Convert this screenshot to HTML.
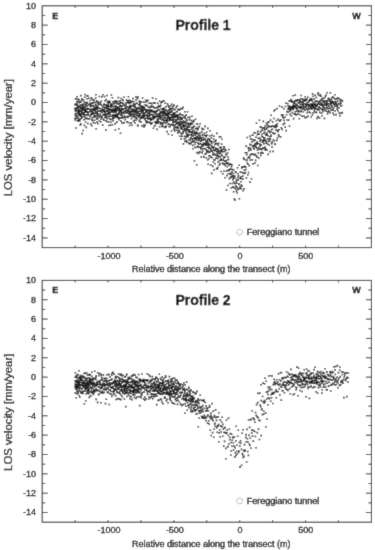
<!DOCTYPE html>
<html><head><meta charset="utf-8"><style>
html,body{margin:0;padding:0;background:#fff;}
svg{display:block;}
</style></head><body>
<svg width="375" height="550" viewBox="0 0 375 550" font-family='"Liberation Sans", sans-serif' font-size="9" fill="#000">
<defs><filter id="bl" x="0" y="0" width="1" height="1"><feConvolveMatrix order="3" kernelMatrix="1 6 1 6 36 6 1 6 1" divisor="64" edgeMode="duplicate" preserveAlpha="true"/></filter></defs>
<g filter="url(#bl)">
<rect width="375" height="550" fill="#fff"/>
<path d="M74.8 98.1h1.6v1.6h-1.6zM74.9 103.3h1.6v1.6h-1.6zM74.2 103.8h1.6v1.6h-1.6zM74.4 107.6h1.6v1.6h-1.6zM74.1 108.2h1.6v1.6h-1.6zM74.6 110.3h1.6v1.6h-1.6zM74.7 113.0h1.6v1.6h-1.6zM74.5 114.3h1.6v1.6h-1.6zM74.2 117.4h1.6v1.6h-1.6zM74.4 119.2h1.6v1.6h-1.6zM75.3 98.2h1.6v1.6h-1.6zM76.0 101.3h1.6v1.6h-1.6zM75.6 103.8h1.6v1.6h-1.6zM75.2 107.6h1.6v1.6h-1.6zM75.5 108.6h1.6v1.6h-1.6zM75.9 109.7h1.6v1.6h-1.6zM75.7 112.6h1.6v1.6h-1.6zM75.2 115.2h1.6v1.6h-1.6zM75.7 117.6h1.6v1.6h-1.6zM75.0 127.2h1.6v1.6h-1.6zM76.2 95.9h1.6v1.6h-1.6zM76.5 103.4h1.6v1.6h-1.6zM76.3 104.5h1.6v1.6h-1.6zM76.4 106.5h1.6v1.6h-1.6zM76.7 110.2h1.6v1.6h-1.6zM77.0 112.4h1.6v1.6h-1.6zM76.0 114.9h1.6v1.6h-1.6zM76.9 116.6h1.6v1.6h-1.6zM76.6 120.0h1.6v1.6h-1.6zM77.3 98.5h1.6v1.6h-1.6zM77.1 100.5h1.6v1.6h-1.6zM77.4 105.0h1.6v1.6h-1.6zM77.1 107.5h1.6v1.6h-1.6zM77.7 109.2h1.6v1.6h-1.6zM77.9 111.2h1.6v1.6h-1.6zM77.3 112.7h1.6v1.6h-1.6zM77.8 113.9h1.6v1.6h-1.6zM77.7 118.2h1.6v1.6h-1.6zM77.5 120.1h1.6v1.6h-1.6zM78.1 98.8h1.6v1.6h-1.6zM78.5 101.8h1.6v1.6h-1.6zM78.6 105.4h1.6v1.6h-1.6zM78.0 107.0h1.6v1.6h-1.6zM78.2 109.1h1.6v1.6h-1.6zM78.4 110.1h1.6v1.6h-1.6zM78.5 112.5h1.6v1.6h-1.6zM78.9 113.8h1.6v1.6h-1.6zM78.7 119.1h1.6v1.6h-1.6zM78.9 120.2h1.6v1.6h-1.6zM79.9 94.8h1.6v1.6h-1.6zM79.4 101.1h1.6v1.6h-1.6zM79.7 104.1h1.6v1.6h-1.6zM79.3 106.3h1.6v1.6h-1.6zM80.0 108.2h1.6v1.6h-1.6zM79.1 110.6h1.6v1.6h-1.6zM79.4 113.3h1.6v1.6h-1.6zM79.2 115.2h1.6v1.6h-1.6zM79.6 118.3h1.6v1.6h-1.6zM79.5 124.1h1.6v1.6h-1.6zM80.8 99.6h1.6v1.6h-1.6zM80.1 101.5h1.6v1.6h-1.6zM81.0 105.0h1.6v1.6h-1.6zM80.5 106.9h1.6v1.6h-1.6zM80.3 110.2h1.6v1.6h-1.6zM80.8 111.4h1.6v1.6h-1.6zM80.4 115.1h1.6v1.6h-1.6zM80.7 117.2h1.6v1.6h-1.6zM80.1 123.1h1.6v1.6h-1.6zM81.2 98.0h1.6v1.6h-1.6zM81.9 103.4h1.6v1.6h-1.6zM81.7 104.1h1.6v1.6h-1.6zM81.8 107.2h1.6v1.6h-1.6zM81.7 108.5h1.6v1.6h-1.6zM81.5 109.9h1.6v1.6h-1.6zM81.0 113.2h1.6v1.6h-1.6zM81.5 113.4h1.6v1.6h-1.6zM81.3 116.6h1.6v1.6h-1.6zM81.4 132.8h1.6v1.6h-1.6zM82.8 98.9h1.6v1.6h-1.6zM82.6 103.6h1.6v1.6h-1.6zM82.3 105.8h1.6v1.6h-1.6zM82.2 107.7h1.6v1.6h-1.6zM82.1 109.1h1.6v1.6h-1.6zM82.4 112.2h1.6v1.6h-1.6zM82.9 113.3h1.6v1.6h-1.6zM82.7 115.4h1.6v1.6h-1.6zM82.4 129.7h1.6v1.6h-1.6zM83.9 96.4h1.6v1.6h-1.6zM83.4 100.9h1.6v1.6h-1.6zM83.5 103.5h1.6v1.6h-1.6zM83.8 106.1h1.6v1.6h-1.6zM83.1 108.0h1.6v1.6h-1.6zM83.8 110.5h1.6v1.6h-1.6zM83.3 112.3h1.6v1.6h-1.6zM83.2 115.7h1.6v1.6h-1.6zM83.3 118.9h1.6v1.6h-1.6zM83.6 124.6h1.6v1.6h-1.6zM84.1 93.7h1.6v1.6h-1.6zM84.9 101.8h1.6v1.6h-1.6zM84.8 105.0h1.6v1.6h-1.6zM84.4 106.0h1.6v1.6h-1.6zM84.5 108.4h1.6v1.6h-1.6zM84.1 109.5h1.6v1.6h-1.6zM84.7 111.5h1.6v1.6h-1.6zM84.2 113.9h1.6v1.6h-1.6zM84.4 117.0h1.6v1.6h-1.6zM84.8 121.5h1.6v1.6h-1.6zM85.9 95.0h1.6v1.6h-1.6zM85.9 102.4h1.6v1.6h-1.6zM85.3 104.2h1.6v1.6h-1.6zM85.7 107.7h1.6v1.6h-1.6zM85.1 109.7h1.6v1.6h-1.6zM85.7 110.6h1.6v1.6h-1.6zM85.2 114.7h1.6v1.6h-1.6zM85.2 117.8h1.6v1.6h-1.6zM85.5 126.6h1.6v1.6h-1.6zM86.3 98.0h1.6v1.6h-1.6zM86.6 101.8h1.6v1.6h-1.6zM86.5 104.8h1.6v1.6h-1.6zM86.8 107.6h1.6v1.6h-1.6zM86.7 108.5h1.6v1.6h-1.6zM86.4 111.1h1.6v1.6h-1.6zM86.0 111.5h1.6v1.6h-1.6zM86.1 114.3h1.6v1.6h-1.6zM86.5 117.4h1.6v1.6h-1.6zM87.0 122.7h1.6v1.6h-1.6zM87.1 95.1h1.6v1.6h-1.6zM87.8 103.7h1.6v1.6h-1.6zM87.9 108.2h1.6v1.6h-1.6zM87.4 112.0h1.6v1.6h-1.6zM87.3 113.6h1.6v1.6h-1.6zM87.6 118.3h1.6v1.6h-1.6zM88.1 97.4h1.6v1.6h-1.6zM88.9 104.6h1.6v1.6h-1.6zM88.6 108.0h1.6v1.6h-1.6zM88.2 111.0h1.6v1.6h-1.6zM88.5 114.7h1.6v1.6h-1.6zM88.7 117.9h1.6v1.6h-1.6zM89.3 99.7h1.6v1.6h-1.6zM89.2 102.7h1.6v1.6h-1.6zM89.4 109.0h1.6v1.6h-1.6zM89.6 109.6h1.6v1.6h-1.6zM89.7 115.9h1.6v1.6h-1.6zM89.9 123.3h1.6v1.6h-1.6zM90.6 97.1h1.6v1.6h-1.6zM90.7 102.2h1.6v1.6h-1.6zM90.5 104.5h1.6v1.6h-1.6zM90.1 106.0h1.6v1.6h-1.6zM90.1 109.4h1.6v1.6h-1.6zM90.2 110.8h1.6v1.6h-1.6zM90.5 113.1h1.6v1.6h-1.6zM90.3 114.2h1.6v1.6h-1.6zM90.9 118.9h1.6v1.6h-1.6zM90.9 124.8h1.6v1.6h-1.6zM91.2 98.2h1.6v1.6h-1.6zM91.3 101.9h1.6v1.6h-1.6zM91.9 104.8h1.6v1.6h-1.6zM91.0 108.4h1.6v1.6h-1.6zM91.6 110.5h1.6v1.6h-1.6zM91.7 112.0h1.6v1.6h-1.6zM91.4 113.4h1.6v1.6h-1.6zM91.6 117.5h1.6v1.6h-1.6zM91.8 119.7h1.6v1.6h-1.6zM92.3 99.5h1.6v1.6h-1.6zM92.1 102.5h1.6v1.6h-1.6zM92.9 105.2h1.6v1.6h-1.6zM92.7 108.0h1.6v1.6h-1.6zM92.6 109.2h1.6v1.6h-1.6zM92.4 111.7h1.6v1.6h-1.6zM92.0 113.4h1.6v1.6h-1.6zM92.9 116.5h1.6v1.6h-1.6zM92.5 121.7h1.6v1.6h-1.6zM93.6 99.0h1.6v1.6h-1.6zM93.3 101.5h1.6v1.6h-1.6zM93.1 105.9h1.6v1.6h-1.6zM93.1 107.7h1.6v1.6h-1.6zM93.8 109.5h1.6v1.6h-1.6zM93.5 112.7h1.6v1.6h-1.6zM93.4 114.9h1.6v1.6h-1.6zM93.9 116.0h1.6v1.6h-1.6zM93.8 119.5h1.6v1.6h-1.6zM94.9 97.0h1.6v1.6h-1.6zM94.7 103.5h1.6v1.6h-1.6zM94.9 106.6h1.6v1.6h-1.6zM94.4 108.2h1.6v1.6h-1.6zM94.3 110.1h1.6v1.6h-1.6zM94.6 112.3h1.6v1.6h-1.6zM94.5 114.8h1.6v1.6h-1.6zM94.1 116.1h1.6v1.6h-1.6zM94.2 122.5h1.6v1.6h-1.6zM95.1 93.9h1.6v1.6h-1.6zM95.3 101.4h1.6v1.6h-1.6zM95.1 104.5h1.6v1.6h-1.6zM95.5 107.1h1.6v1.6h-1.6zM95.8 108.6h1.6v1.6h-1.6zM95.4 111.4h1.6v1.6h-1.6zM95.8 112.0h1.6v1.6h-1.6zM95.6 114.9h1.6v1.6h-1.6zM95.9 118.4h1.6v1.6h-1.6zM95.4 127.9h1.6v1.6h-1.6zM96.1 100.0h1.6v1.6h-1.6zM97.0 102.4h1.6v1.6h-1.6zM96.1 106.1h1.6v1.6h-1.6zM96.8 107.9h1.6v1.6h-1.6zM96.7 110.6h1.6v1.6h-1.6zM96.4 112.4h1.6v1.6h-1.6zM96.6 113.9h1.6v1.6h-1.6zM96.5 116.9h1.6v1.6h-1.6zM96.3 121.3h1.6v1.6h-1.6zM97.8 101.1h1.6v1.6h-1.6zM97.3 104.4h1.6v1.6h-1.6zM97.6 106.8h1.6v1.6h-1.6zM97.9 106.9h1.6v1.6h-1.6zM97.9 110.5h1.6v1.6h-1.6zM97.5 112.9h1.6v1.6h-1.6zM97.4 115.2h1.6v1.6h-1.6zM97.2 117.7h1.6v1.6h-1.6zM97.1 123.0h1.6v1.6h-1.6zM98.7 95.7h1.6v1.6h-1.6zM98.3 103.4h1.6v1.6h-1.6zM98.0 107.1h1.6v1.6h-1.6zM98.4 110.2h1.6v1.6h-1.6zM98.9 116.2h1.6v1.6h-1.6zM98.6 120.2h1.6v1.6h-1.6zM99.7 102.2h1.6v1.6h-1.6zM99.1 103.4h1.6v1.6h-1.6zM99.5 108.0h1.6v1.6h-1.6zM99.8 109.9h1.6v1.6h-1.6zM99.3 113.4h1.6v1.6h-1.6zM99.4 115.2h1.6v1.6h-1.6zM100.0 121.0h1.6v1.6h-1.6zM100.5 100.4h1.6v1.6h-1.6zM100.4 104.0h1.6v1.6h-1.6zM101.0 109.5h1.6v1.6h-1.6zM100.1 111.0h1.6v1.6h-1.6zM100.8 115.6h1.6v1.6h-1.6zM100.2 118.2h1.6v1.6h-1.6zM101.2 96.0h1.6v1.6h-1.6zM101.6 105.8h1.6v1.6h-1.6zM101.7 108.1h1.6v1.6h-1.6zM101.3 111.7h1.6v1.6h-1.6zM101.4 116.6h1.6v1.6h-1.6zM101.9 124.3h1.6v1.6h-1.6zM102.1 94.0h1.6v1.6h-1.6zM102.8 104.1h1.6v1.6h-1.6zM102.9 109.3h1.6v1.6h-1.6zM102.4 110.5h1.6v1.6h-1.6zM102.3 113.8h1.6v1.6h-1.6zM102.6 118.6h1.6v1.6h-1.6zM103.8 95.7h1.6v1.6h-1.6zM103.4 103.3h1.6v1.6h-1.6zM103.3 106.5h1.6v1.6h-1.6zM103.6 109.0h1.6v1.6h-1.6zM103.5 109.9h1.6v1.6h-1.6zM103.7 111.6h1.6v1.6h-1.6zM103.2 114.5h1.6v1.6h-1.6zM104.0 116.6h1.6v1.6h-1.6zM103.1 119.4h1.6v1.6h-1.6zM104.0 99.9h1.6v1.6h-1.6zM104.8 104.1h1.6v1.6h-1.6zM104.5 106.8h1.6v1.6h-1.6zM104.3 107.3h1.6v1.6h-1.6zM104.3 110.6h1.6v1.6h-1.6zM104.7 112.6h1.6v1.6h-1.6zM104.1 113.7h1.6v1.6h-1.6zM104.6 116.4h1.6v1.6h-1.6zM105.0 129.3h1.6v1.6h-1.6zM105.3 98.8h1.6v1.6h-1.6zM105.6 103.9h1.6v1.6h-1.6zM105.8 105.7h1.6v1.6h-1.6zM105.5 107.5h1.6v1.6h-1.6zM106.0 110.3h1.6v1.6h-1.6zM105.3 113.0h1.6v1.6h-1.6zM105.2 115.0h1.6v1.6h-1.6zM105.7 116.4h1.6v1.6h-1.6zM105.1 119.9h1.6v1.6h-1.6zM106.2 94.7h1.6v1.6h-1.6zM106.5 101.7h1.6v1.6h-1.6zM106.9 106.7h1.6v1.6h-1.6zM106.7 107.7h1.6v1.6h-1.6zM106.3 109.6h1.6v1.6h-1.6zM107.0 112.7h1.6v1.6h-1.6zM106.7 113.8h1.6v1.6h-1.6zM106.2 117.8h1.6v1.6h-1.6zM106.0 120.7h1.6v1.6h-1.6zM107.2 100.5h1.6v1.6h-1.6zM107.4 103.8h1.6v1.6h-1.6zM107.3 105.1h1.6v1.6h-1.6zM108.0 108.7h1.6v1.6h-1.6zM107.5 110.6h1.6v1.6h-1.6zM107.6 111.7h1.6v1.6h-1.6zM107.0 113.9h1.6v1.6h-1.6zM107.8 115.9h1.6v1.6h-1.6zM107.8 121.2h1.6v1.6h-1.6zM108.9 100.6h1.6v1.6h-1.6zM108.1 102.1h1.6v1.6h-1.6zM108.7 105.6h1.6v1.6h-1.6zM108.3 108.1h1.6v1.6h-1.6zM108.9 108.3h1.6v1.6h-1.6zM108.0 111.5h1.6v1.6h-1.6zM108.4 112.3h1.6v1.6h-1.6zM108.6 115.6h1.6v1.6h-1.6zM108.7 118.0h1.6v1.6h-1.6zM108.3 124.7h1.6v1.6h-1.6zM109.3 101.2h1.6v1.6h-1.6zM109.9 104.1h1.6v1.6h-1.6zM109.5 105.6h1.6v1.6h-1.6zM109.9 108.7h1.6v1.6h-1.6zM109.4 109.6h1.6v1.6h-1.6zM109.1 111.7h1.6v1.6h-1.6zM109.1 113.5h1.6v1.6h-1.6zM109.7 118.7h1.6v1.6h-1.6zM109.6 124.5h1.6v1.6h-1.6zM110.6 94.2h1.6v1.6h-1.6zM110.4 103.1h1.6v1.6h-1.6zM110.4 106.1h1.6v1.6h-1.6zM110.7 108.8h1.6v1.6h-1.6zM111.0 110.0h1.6v1.6h-1.6zM110.8 111.2h1.6v1.6h-1.6zM110.2 115.4h1.6v1.6h-1.6zM110.3 118.7h1.6v1.6h-1.6zM110.0 121.5h1.6v1.6h-1.6zM111.6 97.0h1.6v1.6h-1.6zM111.2 103.8h1.6v1.6h-1.6zM111.1 105.0h1.6v1.6h-1.6zM111.9 108.4h1.6v1.6h-1.6zM111.3 110.3h1.6v1.6h-1.6zM111.4 111.0h1.6v1.6h-1.6zM111.7 114.3h1.6v1.6h-1.6zM111.8 117.8h1.6v1.6h-1.6zM111.5 123.9h1.6v1.6h-1.6zM112.1 101.0h1.6v1.6h-1.6zM112.7 102.8h1.6v1.6h-1.6zM112.6 106.3h1.6v1.6h-1.6zM112.5 108.7h1.6v1.6h-1.6zM112.9 109.3h1.6v1.6h-1.6zM112.3 111.4h1.6v1.6h-1.6zM112.8 114.6h1.6v1.6h-1.6zM112.0 116.3h1.6v1.6h-1.6zM112.3 119.8h1.6v1.6h-1.6zM113.9 100.5h1.6v1.6h-1.6zM113.6 102.4h1.6v1.6h-1.6zM113.4 105.5h1.6v1.6h-1.6zM113.8 108.2h1.6v1.6h-1.6zM113.5 111.0h1.6v1.6h-1.6zM113.3 111.6h1.6v1.6h-1.6zM113.2 114.2h1.6v1.6h-1.6zM113.0 117.5h1.6v1.6h-1.6zM114.0 123.1h1.6v1.6h-1.6zM114.4 100.1h1.6v1.6h-1.6zM114.1 102.7h1.6v1.6h-1.6zM114.9 106.7h1.6v1.6h-1.6zM114.8 107.8h1.6v1.6h-1.6zM114.3 109.3h1.6v1.6h-1.6zM114.5 111.0h1.6v1.6h-1.6zM114.7 114.6h1.6v1.6h-1.6zM114.0 116.2h1.6v1.6h-1.6zM114.6 129.2h1.6v1.6h-1.6zM115.9 100.6h1.6v1.6h-1.6zM115.5 101.7h1.6v1.6h-1.6zM115.3 105.2h1.6v1.6h-1.6zM115.9 108.6h1.6v1.6h-1.6zM115.7 110.2h1.6v1.6h-1.6zM115.4 112.0h1.6v1.6h-1.6zM115.1 114.0h1.6v1.6h-1.6zM115.2 115.9h1.6v1.6h-1.6zM115.8 121.3h1.6v1.6h-1.6zM116.7 100.8h1.6v1.6h-1.6zM116.6 103.0h1.6v1.6h-1.6zM116.2 106.0h1.6v1.6h-1.6zM116.8 107.1h1.6v1.6h-1.6zM116.4 109.5h1.6v1.6h-1.6zM116.9 113.0h1.6v1.6h-1.6zM116.5 114.6h1.6v1.6h-1.6zM116.3 116.6h1.6v1.6h-1.6zM116.1 121.7h1.6v1.6h-1.6zM117.6 96.8h1.6v1.6h-1.6zM117.4 103.1h1.6v1.6h-1.6zM117.8 106.7h1.6v1.6h-1.6zM117.1 107.4h1.6v1.6h-1.6zM117.1 109.4h1.6v1.6h-1.6zM117.7 113.0h1.6v1.6h-1.6zM117.2 115.2h1.6v1.6h-1.6zM117.5 117.1h1.6v1.6h-1.6zM118.0 119.0h1.6v1.6h-1.6zM118.9 100.4h1.6v1.6h-1.6zM118.6 102.4h1.6v1.6h-1.6zM118.8 105.7h1.6v1.6h-1.6zM118.6 108.0h1.6v1.6h-1.6zM118.4 109.6h1.6v1.6h-1.6zM118.2 111.4h1.6v1.6h-1.6zM118.7 113.2h1.6v1.6h-1.6zM118.3 117.1h1.6v1.6h-1.6zM118.0 127.9h1.6v1.6h-1.6zM119.5 99.9h1.6v1.6h-1.6zM119.2 104.3h1.6v1.6h-1.6zM119.8 105.1h1.6v1.6h-1.6zM119.1 107.7h1.6v1.6h-1.6zM119.6 109.4h1.6v1.6h-1.6zM119.3 111.0h1.6v1.6h-1.6zM120.0 114.4h1.6v1.6h-1.6zM119.3 117.3h1.6v1.6h-1.6zM119.7 132.5h1.6v1.6h-1.6zM120.5 97.7h1.6v1.6h-1.6zM120.1 102.1h1.6v1.6h-1.6zM120.7 105.6h1.6v1.6h-1.6zM121.0 107.8h1.6v1.6h-1.6zM120.3 110.8h1.6v1.6h-1.6zM120.6 112.4h1.6v1.6h-1.6zM120.8 114.0h1.6v1.6h-1.6zM120.4 117.0h1.6v1.6h-1.6zM120.2 120.3h1.6v1.6h-1.6zM121.7 99.0h1.6v1.6h-1.6zM121.8 102.0h1.6v1.6h-1.6zM121.6 105.0h1.6v1.6h-1.6zM121.3 108.2h1.6v1.6h-1.6zM121.2 109.2h1.6v1.6h-1.6zM121.5 111.9h1.6v1.6h-1.6zM121.0 114.8h1.6v1.6h-1.6zM121.9 117.3h1.6v1.6h-1.6zM121.1 122.2h1.6v1.6h-1.6zM122.2 99.6h1.6v1.6h-1.6zM122.5 103.1h1.6v1.6h-1.6zM122.3 108.1h1.6v1.6h-1.6zM122.7 110.7h1.6v1.6h-1.6zM122.7 112.5h1.6v1.6h-1.6zM122.1 116.4h1.6v1.6h-1.6zM122.9 122.1h1.6v1.6h-1.6zM123.2 96.5h1.6v1.6h-1.6zM123.5 104.5h1.6v1.6h-1.6zM123.9 108.0h1.6v1.6h-1.6zM123.4 112.7h1.6v1.6h-1.6zM123.7 115.3h1.6v1.6h-1.6zM123.2 121.8h1.6v1.6h-1.6zM124.9 101.9h1.6v1.6h-1.6zM124.1 105.1h1.6v1.6h-1.6zM124.7 106.9h1.6v1.6h-1.6zM124.3 110.4h1.6v1.6h-1.6zM124.6 111.6h1.6v1.6h-1.6zM124.2 117.0h1.6v1.6h-1.6zM124.5 118.9h1.6v1.6h-1.6zM125.7 99.2h1.6v1.6h-1.6zM125.4 103.8h1.6v1.6h-1.6zM125.6 107.9h1.6v1.6h-1.6zM125.0 110.1h1.6v1.6h-1.6zM125.3 112.0h1.6v1.6h-1.6zM125.7 116.5h1.6v1.6h-1.6zM126.0 121.2h1.6v1.6h-1.6zM126.7 100.0h1.6v1.6h-1.6zM126.8 101.8h1.6v1.6h-1.6zM126.0 106.2h1.6v1.6h-1.6zM126.5 109.5h1.6v1.6h-1.6zM126.9 110.1h1.6v1.6h-1.6zM126.5 112.2h1.6v1.6h-1.6zM126.3 115.8h1.6v1.6h-1.6zM126.2 120.9h1.6v1.6h-1.6zM127.6 95.9h1.6v1.6h-1.6zM127.4 101.4h1.6v1.6h-1.6zM127.2 105.9h1.6v1.6h-1.6zM127.9 108.4h1.6v1.6h-1.6zM127.8 110.2h1.6v1.6h-1.6zM127.5 110.6h1.6v1.6h-1.6zM127.9 112.8h1.6v1.6h-1.6zM127.1 116.7h1.6v1.6h-1.6zM127.3 121.7h1.6v1.6h-1.6zM128.1 99.5h1.6v1.6h-1.6zM128.4 102.5h1.6v1.6h-1.6zM128.3 106.0h1.6v1.6h-1.6zM128.4 107.6h1.6v1.6h-1.6zM129.0 110.5h1.6v1.6h-1.6zM128.7 112.3h1.6v1.6h-1.6zM128.6 113.0h1.6v1.6h-1.6zM128.2 115.4h1.6v1.6h-1.6zM128.8 124.7h1.6v1.6h-1.6zM129.4 100.0h1.6v1.6h-1.6zM129.0 101.8h1.6v1.6h-1.6zM129.2 104.4h1.6v1.6h-1.6zM129.7 106.8h1.6v1.6h-1.6zM130.0 110.4h1.6v1.6h-1.6zM129.9 112.2h1.6v1.6h-1.6zM129.1 113.1h1.6v1.6h-1.6zM129.7 115.1h1.6v1.6h-1.6zM129.5 122.2h1.6v1.6h-1.6zM130.9 101.0h1.6v1.6h-1.6zM130.2 101.6h1.6v1.6h-1.6zM130.1 105.5h1.6v1.6h-1.6zM130.4 107.9h1.6v1.6h-1.6zM130.9 110.2h1.6v1.6h-1.6zM130.6 111.7h1.6v1.6h-1.6zM130.2 114.1h1.6v1.6h-1.6zM130.7 117.8h1.6v1.6h-1.6zM130.4 122.3h1.6v1.6h-1.6zM131.4 100.4h1.6v1.6h-1.6zM131.8 104.7h1.6v1.6h-1.6zM131.1 105.2h1.6v1.6h-1.6zM131.4 108.6h1.6v1.6h-1.6zM131.5 109.9h1.6v1.6h-1.6zM131.9 113.5h1.6v1.6h-1.6zM131.7 115.6h1.6v1.6h-1.6zM131.1 124.4h1.6v1.6h-1.6zM132.4 97.8h1.6v1.6h-1.6zM132.8 103.1h1.6v1.6h-1.6zM132.5 105.4h1.6v1.6h-1.6zM132.9 108.5h1.6v1.6h-1.6zM132.6 110.5h1.6v1.6h-1.6zM132.3 110.9h1.6v1.6h-1.6zM132.2 113.3h1.6v1.6h-1.6zM132.0 115.7h1.6v1.6h-1.6zM132.8 120.6h1.6v1.6h-1.6zM133.0 101.0h1.6v1.6h-1.6zM133.9 104.1h1.6v1.6h-1.6zM133.6 105.9h1.6v1.6h-1.6zM133.1 108.9h1.6v1.6h-1.6zM133.2 110.8h1.6v1.6h-1.6zM134.0 112.1h1.6v1.6h-1.6zM133.4 114.2h1.6v1.6h-1.6zM133.6 116.1h1.6v1.6h-1.6zM133.8 119.5h1.6v1.6h-1.6zM135.0 99.4h1.6v1.6h-1.6zM134.4 103.9h1.6v1.6h-1.6zM134.4 106.3h1.6v1.6h-1.6zM134.0 108.7h1.6v1.6h-1.6zM134.8 110.0h1.6v1.6h-1.6zM134.9 111.3h1.6v1.6h-1.6zM134.6 113.9h1.6v1.6h-1.6zM134.2 116.6h1.6v1.6h-1.6zM134.2 122.2h1.6v1.6h-1.6zM135.1 96.1h1.6v1.6h-1.6zM135.3 102.7h1.6v1.6h-1.6zM135.5 107.3h1.6v1.6h-1.6zM135.7 109.6h1.6v1.6h-1.6zM136.0 112.3h1.6v1.6h-1.6zM135.9 114.4h1.6v1.6h-1.6zM135.4 116.9h1.6v1.6h-1.6zM135.1 119.5h1.6v1.6h-1.6zM136.6 97.8h1.6v1.6h-1.6zM136.1 102.3h1.6v1.6h-1.6zM136.5 107.5h1.6v1.6h-1.6zM136.0 108.0h1.6v1.6h-1.6zM136.7 110.4h1.6v1.6h-1.6zM136.9 112.2h1.6v1.6h-1.6zM136.4 115.2h1.6v1.6h-1.6zM136.3 117.8h1.6v1.6h-1.6zM136.8 124.6h1.6v1.6h-1.6zM137.3 96.3h1.6v1.6h-1.6zM137.8 103.7h1.6v1.6h-1.6zM137.5 106.8h1.6v1.6h-1.6zM137.1 107.8h1.6v1.6h-1.6zM137.6 110.7h1.6v1.6h-1.6zM137.1 112.8h1.6v1.6h-1.6zM137.8 115.2h1.6v1.6h-1.6zM138.0 116.5h1.6v1.6h-1.6zM137.4 124.8h1.6v1.6h-1.6zM138.6 100.3h1.6v1.6h-1.6zM138.9 104.6h1.6v1.6h-1.6zM138.1 107.2h1.6v1.6h-1.6zM138.5 108.0h1.6v1.6h-1.6zM138.1 111.0h1.6v1.6h-1.6zM138.9 112.9h1.6v1.6h-1.6zM138.3 114.8h1.6v1.6h-1.6zM138.7 119.7h1.6v1.6h-1.6zM138.4 120.2h1.6v1.6h-1.6zM139.1 101.4h1.6v1.6h-1.6zM139.3 102.8h1.6v1.6h-1.6zM139.9 107.0h1.6v1.6h-1.6zM139.6 109.3h1.6v1.6h-1.6zM139.7 110.4h1.6v1.6h-1.6zM139.3 113.7h1.6v1.6h-1.6zM139.1 114.6h1.6v1.6h-1.6zM139.5 118.0h1.6v1.6h-1.6zM139.8 121.2h1.6v1.6h-1.6zM140.5 100.9h1.6v1.6h-1.6zM140.2 105.3h1.6v1.6h-1.6zM140.9 108.7h1.6v1.6h-1.6zM140.8 111.2h1.6v1.6h-1.6zM140.6 112.2h1.6v1.6h-1.6zM140.7 115.7h1.6v1.6h-1.6zM140.0 117.3h1.6v1.6h-1.6zM140.3 121.5h1.6v1.6h-1.6zM141.8 97.2h1.6v1.6h-1.6zM141.9 106.0h1.6v1.6h-1.6zM141.2 107.0h1.6v1.6h-1.6zM141.4 109.4h1.6v1.6h-1.6zM141.6 112.0h1.6v1.6h-1.6zM142.0 114.5h1.6v1.6h-1.6zM141.5 115.1h1.6v1.6h-1.6zM141.1 117.3h1.6v1.6h-1.6zM141.3 125.1h1.6v1.6h-1.6zM142.6 101.4h1.6v1.6h-1.6zM142.1 105.4h1.6v1.6h-1.6zM142.8 106.5h1.6v1.6h-1.6zM142.2 108.6h1.6v1.6h-1.6zM142.4 110.6h1.6v1.6h-1.6zM142.9 112.9h1.6v1.6h-1.6zM142.5 115.3h1.6v1.6h-1.6zM142.2 117.2h1.6v1.6h-1.6zM142.9 124.0h1.6v1.6h-1.6zM143.9 101.4h1.6v1.6h-1.6zM143.7 106.4h1.6v1.6h-1.6zM143.6 107.9h1.6v1.6h-1.6zM143.3 109.0h1.6v1.6h-1.6zM143.5 112.6h1.6v1.6h-1.6zM143.4 113.3h1.6v1.6h-1.6zM143.0 116.0h1.6v1.6h-1.6zM143.9 118.6h1.6v1.6h-1.6zM143.2 126.2h1.6v1.6h-1.6zM144.9 99.4h1.6v1.6h-1.6zM144.5 104.0h1.6v1.6h-1.6zM144.7 108.8h1.6v1.6h-1.6zM145.0 110.3h1.6v1.6h-1.6zM144.3 111.9h1.6v1.6h-1.6zM144.0 115.1h1.6v1.6h-1.6zM144.5 117.6h1.6v1.6h-1.6zM144.2 124.6h1.6v1.6h-1.6zM146.0 100.9h1.6v1.6h-1.6zM145.3 104.5h1.6v1.6h-1.6zM145.4 108.8h1.6v1.6h-1.6zM145.2 111.4h1.6v1.6h-1.6zM145.8 113.7h1.6v1.6h-1.6zM145.6 114.4h1.6v1.6h-1.6zM145.1 120.3h1.6v1.6h-1.6zM145.6 122.0h1.6v1.6h-1.6zM146.1 100.5h1.6v1.6h-1.6zM146.1 104.8h1.6v1.6h-1.6zM147.0 109.2h1.6v1.6h-1.6zM146.8 110.4h1.6v1.6h-1.6zM146.7 114.5h1.6v1.6h-1.6zM146.6 116.0h1.6v1.6h-1.6zM146.3 117.4h1.6v1.6h-1.6zM146.4 120.7h1.6v1.6h-1.6zM147.1 99.5h1.6v1.6h-1.6zM147.6 106.0h1.6v1.6h-1.6zM148.0 109.7h1.6v1.6h-1.6zM147.7 112.1h1.6v1.6h-1.6zM147.1 112.5h1.6v1.6h-1.6zM147.8 115.3h1.6v1.6h-1.6zM147.3 118.1h1.6v1.6h-1.6zM147.4 121.6h1.6v1.6h-1.6zM148.5 102.5h1.6v1.6h-1.6zM148.7 106.9h1.6v1.6h-1.6zM148.2 109.3h1.6v1.6h-1.6zM148.9 112.3h1.6v1.6h-1.6zM148.6 114.3h1.6v1.6h-1.6zM148.1 115.8h1.6v1.6h-1.6zM148.9 118.3h1.6v1.6h-1.6zM148.3 121.6h1.6v1.6h-1.6zM149.2 102.3h1.6v1.6h-1.6zM149.8 105.4h1.6v1.6h-1.6zM149.5 110.1h1.6v1.6h-1.6zM149.1 110.4h1.6v1.6h-1.6zM149.4 114.6h1.6v1.6h-1.6zM149.3 117.5h1.6v1.6h-1.6zM149.9 119.6h1.6v1.6h-1.6zM149.7 122.1h1.6v1.6h-1.6zM150.9 102.8h1.6v1.6h-1.6zM150.4 106.2h1.6v1.6h-1.6zM150.3 108.9h1.6v1.6h-1.6zM150.6 110.6h1.6v1.6h-1.6zM150.5 113.7h1.6v1.6h-1.6zM150.0 114.0h1.6v1.6h-1.6zM150.7 117.4h1.6v1.6h-1.6zM150.8 119.0h1.6v1.6h-1.6zM150.2 123.3h1.6v1.6h-1.6zM151.8 97.3h1.6v1.6h-1.6zM151.5 105.6h1.6v1.6h-1.6zM151.1 109.6h1.6v1.6h-1.6zM151.2 110.8h1.6v1.6h-1.6zM151.3 113.8h1.6v1.6h-1.6zM152.0 116.0h1.6v1.6h-1.6zM151.7 118.7h1.6v1.6h-1.6zM151.5 122.5h1.6v1.6h-1.6zM152.8 102.0h1.6v1.6h-1.6zM152.2 105.8h1.6v1.6h-1.6zM152.0 110.2h1.6v1.6h-1.6zM152.3 110.9h1.6v1.6h-1.6zM152.7 114.2h1.6v1.6h-1.6zM152.4 116.7h1.6v1.6h-1.6zM152.9 118.0h1.6v1.6h-1.6zM152.6 127.5h1.6v1.6h-1.6zM153.6 102.1h1.6v1.6h-1.6zM153.3 106.8h1.6v1.6h-1.6zM153.1 110.7h1.6v1.6h-1.6zM153.4 111.8h1.6v1.6h-1.6zM153.2 115.4h1.6v1.6h-1.6zM153.8 117.1h1.6v1.6h-1.6zM153.9 121.3h1.6v1.6h-1.6zM153.7 125.1h1.6v1.6h-1.6zM154.3 102.3h1.6v1.6h-1.6zM154.7 107.2h1.6v1.6h-1.6zM154.1 110.5h1.6v1.6h-1.6zM154.8 112.6h1.6v1.6h-1.6zM155.0 113.6h1.6v1.6h-1.6zM154.5 116.1h1.6v1.6h-1.6zM154.4 121.3h1.6v1.6h-1.6zM154.1 125.0h1.6v1.6h-1.6zM155.1 98.0h1.6v1.6h-1.6zM155.5 107.5h1.6v1.6h-1.6zM155.3 110.4h1.6v1.6h-1.6zM155.5 111.5h1.6v1.6h-1.6zM155.7 115.4h1.6v1.6h-1.6zM155.8 116.1h1.6v1.6h-1.6zM156.0 121.2h1.6v1.6h-1.6zM155.2 122.8h1.6v1.6h-1.6zM156.9 102.5h1.6v1.6h-1.6zM156.6 106.5h1.6v1.6h-1.6zM156.0 110.2h1.6v1.6h-1.6zM156.4 110.4h1.6v1.6h-1.6zM156.8 114.6h1.6v1.6h-1.6zM156.7 115.6h1.6v1.6h-1.6zM156.5 118.7h1.6v1.6h-1.6zM156.3 120.6h1.6v1.6h-1.6zM156.2 128.6h1.6v1.6h-1.6zM157.8 104.8h1.6v1.6h-1.6zM157.3 106.7h1.6v1.6h-1.6zM157.1 109.1h1.6v1.6h-1.6zM157.5 113.0h1.6v1.6h-1.6zM157.9 115.6h1.6v1.6h-1.6zM157.7 117.8h1.6v1.6h-1.6zM157.4 119.2h1.6v1.6h-1.6zM157.1 122.3h1.6v1.6h-1.6zM158.9 100.5h1.6v1.6h-1.6zM158.4 106.0h1.6v1.6h-1.6zM158.6 109.0h1.6v1.6h-1.6zM158.7 113.1h1.6v1.6h-1.6zM158.3 115.3h1.6v1.6h-1.6zM158.1 117.8h1.6v1.6h-1.6zM158.2 121.0h1.6v1.6h-1.6zM158.8 125.9h1.6v1.6h-1.6zM159.9 104.4h1.6v1.6h-1.6zM159.4 106.0h1.6v1.6h-1.6zM159.8 110.8h1.6v1.6h-1.6zM159.3 111.6h1.6v1.6h-1.6zM159.4 114.2h1.6v1.6h-1.6zM159.2 116.2h1.6v1.6h-1.6zM159.1 117.3h1.6v1.6h-1.6zM159.7 121.5h1.6v1.6h-1.6zM159.6 123.3h1.6v1.6h-1.6zM160.2 102.0h1.6v1.6h-1.6zM160.7 107.9h1.6v1.6h-1.6zM160.8 111.7h1.6v1.6h-1.6zM160.3 112.1h1.6v1.6h-1.6zM160.6 116.1h1.6v1.6h-1.6zM160.1 118.3h1.6v1.6h-1.6zM160.4 122.5h1.6v1.6h-1.6zM161.0 125.6h1.6v1.6h-1.6zM161.1 101.3h1.6v1.6h-1.6zM161.5 108.3h1.6v1.6h-1.6zM161.6 110.5h1.6v1.6h-1.6zM162.0 113.7h1.6v1.6h-1.6zM161.3 114.4h1.6v1.6h-1.6zM161.2 119.0h1.6v1.6h-1.6zM161.8 122.3h1.6v1.6h-1.6zM161.7 123.6h1.6v1.6h-1.6zM162.0 100.6h1.6v1.6h-1.6zM162.9 107.1h1.6v1.6h-1.6zM162.9 110.6h1.6v1.6h-1.6zM162.2 111.9h1.6v1.6h-1.6zM162.6 114.8h1.6v1.6h-1.6zM162.3 117.2h1.6v1.6h-1.6zM162.4 119.2h1.6v1.6h-1.6zM162.8 121.7h1.6v1.6h-1.6zM162.5 125.7h1.6v1.6h-1.6zM163.2 99.9h1.6v1.6h-1.6zM163.0 108.8h1.6v1.6h-1.6zM163.5 111.9h1.6v1.6h-1.6zM163.3 112.4h1.6v1.6h-1.6zM163.6 116.8h1.6v1.6h-1.6zM163.9 119.3h1.6v1.6h-1.6zM163.4 119.8h1.6v1.6h-1.6zM164.0 126.6h1.6v1.6h-1.6zM164.5 102.5h1.6v1.6h-1.6zM164.2 108.7h1.6v1.6h-1.6zM164.3 111.2h1.6v1.6h-1.6zM164.3 113.3h1.6v1.6h-1.6zM164.7 114.8h1.6v1.6h-1.6zM164.1 116.9h1.6v1.6h-1.6zM164.9 120.0h1.6v1.6h-1.6zM164.6 122.4h1.6v1.6h-1.6zM164.9 125.2h1.6v1.6h-1.6zM165.2 105.8h1.6v1.6h-1.6zM165.4 109.2h1.6v1.6h-1.6zM165.9 110.0h1.6v1.6h-1.6zM165.6 112.6h1.6v1.6h-1.6zM165.8 115.0h1.6v1.6h-1.6zM165.7 117.8h1.6v1.6h-1.6zM165.5 120.0h1.6v1.6h-1.6zM165.0 122.4h1.6v1.6h-1.6zM165.3 126.1h1.6v1.6h-1.6zM166.7 103.0h1.6v1.6h-1.6zM166.9 110.1h1.6v1.6h-1.6zM166.4 112.8h1.6v1.6h-1.6zM166.2 114.2h1.6v1.6h-1.6zM166.8 116.4h1.6v1.6h-1.6zM166.6 118.7h1.6v1.6h-1.6zM166.1 121.4h1.6v1.6h-1.6zM166.3 130.8h1.6v1.6h-1.6zM167.4 104.8h1.6v1.6h-1.6zM168.0 109.3h1.6v1.6h-1.6zM167.2 112.3h1.6v1.6h-1.6zM167.8 113.5h1.6v1.6h-1.6zM167.4 114.5h1.6v1.6h-1.6zM167.6 117.6h1.6v1.6h-1.6zM167.0 119.8h1.6v1.6h-1.6zM167.2 123.7h1.6v1.6h-1.6zM167.7 133.4h1.6v1.6h-1.6zM168.1 106.2h1.6v1.6h-1.6zM168.9 107.8h1.6v1.6h-1.6zM168.6 111.6h1.6v1.6h-1.6zM168.5 113.0h1.6v1.6h-1.6zM168.3 115.9h1.6v1.6h-1.6zM168.7 117.3h1.6v1.6h-1.6zM168.8 119.7h1.6v1.6h-1.6zM168.1 122.9h1.6v1.6h-1.6zM168.4 126.0h1.6v1.6h-1.6zM169.7 105.1h1.6v1.6h-1.6zM169.9 109.0h1.6v1.6h-1.6zM169.4 111.2h1.6v1.6h-1.6zM169.8 113.8h1.6v1.6h-1.6zM169.4 118.1h1.6v1.6h-1.6zM169.1 119.2h1.6v1.6h-1.6zM169.6 124.0h1.6v1.6h-1.6zM169.2 125.7h1.6v1.6h-1.6zM170.9 103.6h1.6v1.6h-1.6zM170.6 107.8h1.6v1.6h-1.6zM170.4 111.3h1.6v1.6h-1.6zM170.2 113.9h1.6v1.6h-1.6zM170.1 116.8h1.6v1.6h-1.6zM170.5 119.3h1.6v1.6h-1.6zM170.1 119.3h1.6v1.6h-1.6zM170.9 123.7h1.6v1.6h-1.6zM170.7 130.0h1.6v1.6h-1.6zM171.9 107.4h1.6v1.6h-1.6zM171.1 110.3h1.6v1.6h-1.6zM171.7 113.7h1.6v1.6h-1.6zM171.2 115.5h1.6v1.6h-1.6zM171.5 117.0h1.6v1.6h-1.6zM171.6 119.5h1.6v1.6h-1.6zM172.0 121.3h1.6v1.6h-1.6zM171.3 124.2h1.6v1.6h-1.6zM171.4 134.5h1.6v1.6h-1.6zM172.3 105.7h1.6v1.6h-1.6zM172.8 108.7h1.6v1.6h-1.6zM172.5 112.2h1.6v1.6h-1.6zM172.7 114.1h1.6v1.6h-1.6zM172.6 115.9h1.6v1.6h-1.6zM172.4 117.7h1.6v1.6h-1.6zM172.1 119.4h1.6v1.6h-1.6zM172.3 123.4h1.6v1.6h-1.6zM172.2 124.3h1.6v1.6h-1.6zM173.0 128.2h1.6v1.6h-1.6zM173.3 104.3h1.6v1.6h-1.6zM173.7 111.9h1.6v1.6h-1.6zM173.4 113.7h1.6v1.6h-1.6zM173.9 116.4h1.6v1.6h-1.6zM173.2 118.8h1.6v1.6h-1.6zM173.8 120.9h1.6v1.6h-1.6zM173.1 121.4h1.6v1.6h-1.6zM173.3 126.2h1.6v1.6h-1.6zM173.7 129.2h1.6v1.6h-1.6zM174.4 108.7h1.6v1.6h-1.6zM174.5 112.7h1.6v1.6h-1.6zM174.2 115.2h1.6v1.6h-1.6zM174.8 116.3h1.6v1.6h-1.6zM175.0 119.4h1.6v1.6h-1.6zM174.6 121.0h1.6v1.6h-1.6zM174.2 124.4h1.6v1.6h-1.6zM174.8 126.8h1.6v1.6h-1.6zM174.0 130.1h1.6v1.6h-1.6zM175.4 106.6h1.6v1.6h-1.6zM175.8 110.7h1.6v1.6h-1.6zM175.6 114.3h1.6v1.6h-1.6zM175.5 116.0h1.6v1.6h-1.6zM175.0 118.8h1.6v1.6h-1.6zM175.9 121.4h1.6v1.6h-1.6zM175.2 123.3h1.6v1.6h-1.6zM175.3 126.4h1.6v1.6h-1.6zM176.0 129.5h1.6v1.6h-1.6zM176.5 105.3h1.6v1.6h-1.6zM176.4 110.8h1.6v1.6h-1.6zM176.8 115.7h1.6v1.6h-1.6zM176.9 118.0h1.6v1.6h-1.6zM176.1 119.1h1.6v1.6h-1.6zM176.3 121.5h1.6v1.6h-1.6zM176.4 122.4h1.6v1.6h-1.6zM176.2 126.1h1.6v1.6h-1.6zM176.7 127.1h1.6v1.6h-1.6zM176.9 132.1h1.6v1.6h-1.6zM177.4 108.6h1.6v1.6h-1.6zM177.1 114.3h1.6v1.6h-1.6zM177.2 116.8h1.6v1.6h-1.6zM177.2 118.1h1.6v1.6h-1.6zM177.9 121.8h1.6v1.6h-1.6zM177.9 123.6h1.6v1.6h-1.6zM177.6 124.6h1.6v1.6h-1.6zM177.6 127.1h1.6v1.6h-1.6zM177.7 130.7h1.6v1.6h-1.6zM178.6 109.4h1.6v1.6h-1.6zM178.8 114.0h1.6v1.6h-1.6zM178.6 116.5h1.6v1.6h-1.6zM178.4 118.7h1.6v1.6h-1.6zM178.7 120.9h1.6v1.6h-1.6zM178.9 123.0h1.6v1.6h-1.6zM178.2 124.7h1.6v1.6h-1.6zM178.3 129.6h1.6v1.6h-1.6zM178.1 130.9h1.6v1.6h-1.6zM179.2 108.5h1.6v1.6h-1.6zM179.3 112.8h1.6v1.6h-1.6zM179.4 116.6h1.6v1.6h-1.6zM179.6 119.0h1.6v1.6h-1.6zM179.9 121.0h1.6v1.6h-1.6zM179.7 125.1h1.6v1.6h-1.6zM179.9 127.1h1.6v1.6h-1.6zM179.5 131.7h1.6v1.6h-1.6zM179.1 135.4h1.6v1.6h-1.6zM180.5 107.7h1.6v1.6h-1.6zM180.9 113.9h1.6v1.6h-1.6zM180.1 116.8h1.6v1.6h-1.6zM180.3 118.2h1.6v1.6h-1.6zM180.7 121.4h1.6v1.6h-1.6zM180.1 123.5h1.6v1.6h-1.6zM180.5 126.5h1.6v1.6h-1.6zM180.7 128.3h1.6v1.6h-1.6zM180.8 133.3h1.6v1.6h-1.6zM180.3 138.2h1.6v1.6h-1.6zM181.7 107.9h1.6v1.6h-1.6zM181.4 117.0h1.6v1.6h-1.6zM181.4 118.7h1.6v1.6h-1.6zM181.2 121.4h1.6v1.6h-1.6zM181.3 122.9h1.6v1.6h-1.6zM181.9 125.3h1.6v1.6h-1.6zM181.8 128.2h1.6v1.6h-1.6zM181.7 132.5h1.6v1.6h-1.6zM181.0 135.6h1.6v1.6h-1.6zM182.3 106.4h1.6v1.6h-1.6zM182.1 114.5h1.6v1.6h-1.6zM182.8 120.3h1.6v1.6h-1.6zM182.9 121.9h1.6v1.6h-1.6zM182.7 123.9h1.6v1.6h-1.6zM182.5 126.2h1.6v1.6h-1.6zM182.4 130.6h1.6v1.6h-1.6zM182.2 132.2h1.6v1.6h-1.6zM182.6 143.1h1.6v1.6h-1.6zM184.0 110.9h1.6v1.6h-1.6zM183.1 116.6h1.6v1.6h-1.6zM183.1 121.0h1.6v1.6h-1.6zM183.4 121.6h1.6v1.6h-1.6zM183.3 125.5h1.6v1.6h-1.6zM183.9 128.2h1.6v1.6h-1.6zM183.5 129.6h1.6v1.6h-1.6zM183.7 135.5h1.6v1.6h-1.6zM183.6 138.1h1.6v1.6h-1.6zM184.4 115.4h1.6v1.6h-1.6zM184.3 117.2h1.6v1.6h-1.6zM184.9 122.3h1.6v1.6h-1.6zM184.5 124.6h1.6v1.6h-1.6zM184.7 125.1h1.6v1.6h-1.6zM184.0 127.5h1.6v1.6h-1.6zM184.7 130.6h1.6v1.6h-1.6zM184.8 136.6h1.6v1.6h-1.6zM184.2 140.6h1.6v1.6h-1.6zM185.3 114.1h1.6v1.6h-1.6zM185.1 118.0h1.6v1.6h-1.6zM185.4 120.6h1.6v1.6h-1.6zM185.1 125.0h1.6v1.6h-1.6zM185.9 127.3h1.6v1.6h-1.6zM185.5 128.4h1.6v1.6h-1.6zM185.7 132.3h1.6v1.6h-1.6zM185.9 134.2h1.6v1.6h-1.6zM185.6 139.8h1.6v1.6h-1.6zM186.7 111.0h1.6v1.6h-1.6zM186.4 119.5h1.6v1.6h-1.6zM186.6 123.4h1.6v1.6h-1.6zM187.0 126.1h1.6v1.6h-1.6zM186.9 127.0h1.6v1.6h-1.6zM186.1 129.6h1.6v1.6h-1.6zM186.5 133.7h1.6v1.6h-1.6zM186.2 135.9h1.6v1.6h-1.6zM186.1 141.3h1.6v1.6h-1.6zM187.1 116.4h1.6v1.6h-1.6zM187.6 122.0h1.6v1.6h-1.6zM187.7 123.2h1.6v1.6h-1.6zM187.5 125.3h1.6v1.6h-1.6zM187.4 129.0h1.6v1.6h-1.6zM187.9 131.0h1.6v1.6h-1.6zM187.2 134.4h1.6v1.6h-1.6zM187.2 135.7h1.6v1.6h-1.6zM187.9 142.4h1.6v1.6h-1.6zM188.6 118.5h1.6v1.6h-1.6zM188.8 119.1h1.6v1.6h-1.6zM189.0 123.4h1.6v1.6h-1.6zM188.8 126.3h1.6v1.6h-1.6zM188.5 130.5h1.6v1.6h-1.6zM188.3 131.7h1.6v1.6h-1.6zM188.0 133.9h1.6v1.6h-1.6zM188.2 139.3h1.6v1.6h-1.6zM188.4 142.8h1.6v1.6h-1.6zM189.0 116.4h1.6v1.6h-1.6zM189.9 123.1h1.6v1.6h-1.6zM189.4 124.2h1.6v1.6h-1.6zM189.1 128.9h1.6v1.6h-1.6zM189.3 131.2h1.6v1.6h-1.6zM189.8 133.9h1.6v1.6h-1.6zM189.9 137.2h1.6v1.6h-1.6zM189.5 138.6h1.6v1.6h-1.6zM189.6 142.5h1.6v1.6h-1.6zM190.9 119.8h1.6v1.6h-1.6zM190.1 122.3h1.6v1.6h-1.6zM190.9 128.5h1.6v1.6h-1.6zM190.6 130.9h1.6v1.6h-1.6zM190.5 134.2h1.6v1.6h-1.6zM190.4 136.8h1.6v1.6h-1.6zM190.7 141.0h1.6v1.6h-1.6zM190.1 143.0h1.6v1.6h-1.6zM191.3 115.4h1.6v1.6h-1.6zM191.5 123.3h1.6v1.6h-1.6zM191.2 126.7h1.6v1.6h-1.6zM191.4 130.9h1.6v1.6h-1.6zM191.0 132.6h1.6v1.6h-1.6zM191.7 135.3h1.6v1.6h-1.6zM191.6 138.9h1.6v1.6h-1.6zM191.8 140.7h1.6v1.6h-1.6zM191.9 144.6h1.6v1.6h-1.6zM192.5 121.3h1.6v1.6h-1.6zM192.7 126.1h1.6v1.6h-1.6zM192.2 126.9h1.6v1.6h-1.6zM192.4 129.8h1.6v1.6h-1.6zM192.9 132.4h1.6v1.6h-1.6zM192.6 134.6h1.6v1.6h-1.6zM192.0 137.9h1.6v1.6h-1.6zM192.8 141.4h1.6v1.6h-1.6zM192.3 148.0h1.6v1.6h-1.6zM193.2 119.8h1.6v1.6h-1.6zM193.6 125.2h1.6v1.6h-1.6zM193.4 130.2h1.6v1.6h-1.6zM193.8 132.3h1.6v1.6h-1.6zM194.0 137.1h1.6v1.6h-1.6zM193.3 137.3h1.6v1.6h-1.6zM193.0 140.6h1.6v1.6h-1.6zM193.7 159.9h1.6v1.6h-1.6zM194.8 118.5h1.6v1.6h-1.6zM194.7 127.9h1.6v1.6h-1.6zM195.0 132.2h1.6v1.6h-1.6zM194.4 134.2h1.6v1.6h-1.6zM194.6 137.4h1.6v1.6h-1.6zM194.3 138.7h1.6v1.6h-1.6zM194.2 143.4h1.6v1.6h-1.6zM194.1 146.5h1.6v1.6h-1.6zM195.8 122.9h1.6v1.6h-1.6zM195.7 127.3h1.6v1.6h-1.6zM195.6 130.9h1.6v1.6h-1.6zM195.4 133.0h1.6v1.6h-1.6zM195.6 135.8h1.6v1.6h-1.6zM195.3 137.9h1.6v1.6h-1.6zM195.0 141.5h1.6v1.6h-1.6zM195.1 146.7h1.6v1.6h-1.6zM195.9 163.9h1.6v1.6h-1.6zM196.6 123.1h1.6v1.6h-1.6zM196.6 128.9h1.6v1.6h-1.6zM196.3 132.1h1.6v1.6h-1.6zM196.5 135.7h1.6v1.6h-1.6zM196.8 137.4h1.6v1.6h-1.6zM196.1 139.4h1.6v1.6h-1.6zM196.9 145.3h1.6v1.6h-1.6zM196.2 151.8h1.6v1.6h-1.6zM197.7 125.9h1.6v1.6h-1.6zM197.4 128.1h1.6v1.6h-1.6zM197.6 133.6h1.6v1.6h-1.6zM197.3 137.2h1.6v1.6h-1.6zM197.9 139.6h1.6v1.6h-1.6zM197.1 142.3h1.6v1.6h-1.6zM197.2 146.5h1.6v1.6h-1.6zM197.8 152.7h1.6v1.6h-1.6zM198.5 125.8h1.6v1.6h-1.6zM198.5 132.4h1.6v1.6h-1.6zM198.3 135.2h1.6v1.6h-1.6zM198.9 138.0h1.6v1.6h-1.6zM198.1 138.3h1.6v1.6h-1.6zM198.1 143.3h1.6v1.6h-1.6zM198.9 146.5h1.6v1.6h-1.6zM198.6 151.1h1.6v1.6h-1.6zM199.4 123.0h1.6v1.6h-1.6zM199.2 132.7h1.6v1.6h-1.6zM199.6 135.2h1.6v1.6h-1.6zM199.0 137.2h1.6v1.6h-1.6zM199.8 140.3h1.6v1.6h-1.6zM199.7 142.8h1.6v1.6h-1.6zM199.9 147.1h1.6v1.6h-1.6zM199.4 150.9h1.6v1.6h-1.6zM201.0 127.7h1.6v1.6h-1.6zM200.8 131.1h1.6v1.6h-1.6zM200.0 136.9h1.6v1.6h-1.6zM200.6 137.9h1.6v1.6h-1.6zM200.3 140.3h1.6v1.6h-1.6zM200.7 145.9h1.6v1.6h-1.6zM200.1 148.1h1.6v1.6h-1.6zM200.4 156.2h1.6v1.6h-1.6zM201.6 128.7h1.6v1.6h-1.6zM201.6 133.7h1.6v1.6h-1.6zM201.9 136.7h1.6v1.6h-1.6zM201.2 139.3h1.6v1.6h-1.6zM201.1 143.7h1.6v1.6h-1.6zM201.5 145.3h1.6v1.6h-1.6zM201.8 150.2h1.6v1.6h-1.6zM201.3 152.1h1.6v1.6h-1.6zM202.9 128.5h1.6v1.6h-1.6zM202.0 134.3h1.6v1.6h-1.6zM202.5 136.7h1.6v1.6h-1.6zM202.6 139.5h1.6v1.6h-1.6zM202.7 142.6h1.6v1.6h-1.6zM202.4 144.6h1.6v1.6h-1.6zM202.2 147.9h1.6v1.6h-1.6zM202.8 155.8h1.6v1.6h-1.6zM203.7 132.5h1.6v1.6h-1.6zM204.0 134.7h1.6v1.6h-1.6zM203.2 138.6h1.6v1.6h-1.6zM203.7 142.5h1.6v1.6h-1.6zM203.1 143.9h1.6v1.6h-1.6zM203.4 147.7h1.6v1.6h-1.6zM203.4 156.5h1.6v1.6h-1.6zM204.3 125.6h1.6v1.6h-1.6zM204.7 134.5h1.6v1.6h-1.6zM204.4 138.2h1.6v1.6h-1.6zM204.0 142.5h1.6v1.6h-1.6zM204.9 144.1h1.6v1.6h-1.6zM204.6 148.2h1.6v1.6h-1.6zM205.0 153.1h1.6v1.6h-1.6zM204.2 153.5h1.6v1.6h-1.6zM205.9 131.5h1.6v1.6h-1.6zM205.5 135.8h1.6v1.6h-1.6zM205.2 140.3h1.6v1.6h-1.6zM205.3 142.3h1.6v1.6h-1.6zM205.1 144.4h1.6v1.6h-1.6zM205.7 149.1h1.6v1.6h-1.6zM205.8 151.6h1.6v1.6h-1.6zM205.6 157.2h1.6v1.6h-1.6zM206.2 134.5h1.6v1.6h-1.6zM206.8 138.6h1.6v1.6h-1.6zM206.7 140.1h1.6v1.6h-1.6zM206.3 143.2h1.6v1.6h-1.6zM206.5 146.5h1.6v1.6h-1.6zM206.0 149.9h1.6v1.6h-1.6zM206.9 158.9h1.6v1.6h-1.6zM207.0 127.6h1.6v1.6h-1.6zM207.6 138.1h1.6v1.6h-1.6zM207.2 141.7h1.6v1.6h-1.6zM207.3 144.3h1.6v1.6h-1.6zM208.0 147.6h1.6v1.6h-1.6zM207.6 150.6h1.6v1.6h-1.6zM207.8 151.7h1.6v1.6h-1.6zM207.4 163.5h1.6v1.6h-1.6zM208.8 134.9h1.6v1.6h-1.6zM208.6 138.1h1.6v1.6h-1.6zM208.3 142.9h1.6v1.6h-1.6zM208.5 143.9h1.6v1.6h-1.6zM208.1 146.3h1.6v1.6h-1.6zM209.0 151.2h1.6v1.6h-1.6zM208.0 155.0h1.6v1.6h-1.6zM208.4 157.7h1.6v1.6h-1.6zM209.3 129.9h1.6v1.6h-1.6zM209.0 139.8h1.6v1.6h-1.6zM209.3 144.0h1.6v1.6h-1.6zM209.6 147.4h1.6v1.6h-1.6zM210.0 148.9h1.6v1.6h-1.6zM209.5 155.0h1.6v1.6h-1.6zM209.9 164.3h1.6v1.6h-1.6zM210.7 136.8h1.6v1.6h-1.6zM210.6 140.6h1.6v1.6h-1.6zM210.2 141.4h1.6v1.6h-1.6zM210.8 145.0h1.6v1.6h-1.6zM210.1 148.7h1.6v1.6h-1.6zM210.3 150.1h1.6v1.6h-1.6zM210.4 156.5h1.6v1.6h-1.6zM210.9 172.6h1.6v1.6h-1.6zM211.1 134.2h1.6v1.6h-1.6zM211.2 142.7h1.6v1.6h-1.6zM211.4 146.0h1.6v1.6h-1.6zM211.8 147.0h1.6v1.6h-1.6zM211.7 150.1h1.6v1.6h-1.6zM211.5 156.9h1.6v1.6h-1.6zM211.9 165.6h1.6v1.6h-1.6zM212.9 138.4h1.6v1.6h-1.6zM212.7 141.0h1.6v1.6h-1.6zM212.7 146.7h1.6v1.6h-1.6zM212.4 147.7h1.6v1.6h-1.6zM212.2 152.2h1.6v1.6h-1.6zM212.1 154.0h1.6v1.6h-1.6zM212.6 161.2h1.6v1.6h-1.6zM213.1 135.5h1.6v1.6h-1.6zM214.0 143.7h1.6v1.6h-1.6zM213.3 146.3h1.6v1.6h-1.6zM213.6 149.1h1.6v1.6h-1.6zM213.9 150.0h1.6v1.6h-1.6zM213.7 153.2h1.6v1.6h-1.6zM213.2 158.9h1.6v1.6h-1.6zM213.4 169.1h1.6v1.6h-1.6zM214.3 140.4h1.6v1.6h-1.6zM214.7 142.9h1.6v1.6h-1.6zM215.0 147.4h1.6v1.6h-1.6zM214.7 149.0h1.6v1.6h-1.6zM214.4 154.5h1.6v1.6h-1.6zM214.1 159.1h1.6v1.6h-1.6zM214.4 163.0h1.6v1.6h-1.6zM215.3 139.6h1.6v1.6h-1.6zM215.1 142.5h1.6v1.6h-1.6zM215.5 148.6h1.6v1.6h-1.6zM215.9 150.9h1.6v1.6h-1.6zM215.6 154.5h1.6v1.6h-1.6zM215.3 157.3h1.6v1.6h-1.6zM215.8 167.7h1.6v1.6h-1.6zM216.1 132.6h1.6v1.6h-1.6zM216.0 142.9h1.6v1.6h-1.6zM216.9 147.9h1.6v1.6h-1.6zM216.3 148.9h1.6v1.6h-1.6zM216.6 152.9h1.6v1.6h-1.6zM216.4 155.1h1.6v1.6h-1.6zM216.9 157.7h1.6v1.6h-1.6zM216.5 168.2h1.6v1.6h-1.6zM217.8 142.4h1.6v1.6h-1.6zM217.4 144.3h1.6v1.6h-1.6zM217.6 150.3h1.6v1.6h-1.6zM217.2 151.2h1.6v1.6h-1.6zM217.9 156.0h1.6v1.6h-1.6zM217.4 161.1h1.6v1.6h-1.6zM217.0 166.8h1.6v1.6h-1.6zM218.7 136.1h1.6v1.6h-1.6zM218.9 146.7h1.6v1.6h-1.6zM218.2 149.7h1.6v1.6h-1.6zM218.3 152.7h1.6v1.6h-1.6zM218.1 155.3h1.6v1.6h-1.6zM218.8 159.7h1.6v1.6h-1.6zM218.5 164.5h1.6v1.6h-1.6zM219.9 135.9h1.6v1.6h-1.6zM219.7 146.3h1.6v1.6h-1.6zM219.5 150.1h1.6v1.6h-1.6zM219.6 152.1h1.6v1.6h-1.6zM219.3 155.9h1.6v1.6h-1.6zM219.1 159.7h1.6v1.6h-1.6zM219.2 162.8h1.6v1.6h-1.6zM220.8 143.3h1.6v1.6h-1.6zM220.4 147.8h1.6v1.6h-1.6zM220.9 150.0h1.6v1.6h-1.6zM220.6 153.7h1.6v1.6h-1.6zM220.4 157.9h1.6v1.6h-1.6zM220.1 159.2h1.6v1.6h-1.6zM220.3 170.7h1.6v1.6h-1.6zM221.0 138.4h1.6v1.6h-1.6zM221.5 148.9h1.6v1.6h-1.6zM221.2 150.6h1.6v1.6h-1.6zM221.4 154.8h1.6v1.6h-1.6zM221.7 159.5h1.6v1.6h-1.6zM221.8 162.3h1.6v1.6h-1.6zM221.9 173.0h1.6v1.6h-1.6zM222.7 146.0h1.6v1.6h-1.6zM222.8 148.3h1.6v1.6h-1.6zM222.4 150.9h1.6v1.6h-1.6zM222.9 157.1h1.6v1.6h-1.6zM222.5 159.3h1.6v1.6h-1.6zM222.2 163.5h1.6v1.6h-1.6zM222.1 173.0h1.6v1.6h-1.6zM223.6 146.3h1.6v1.6h-1.6zM223.9 150.7h1.6v1.6h-1.6zM223.7 156.0h1.6v1.6h-1.6zM223.2 156.2h1.6v1.6h-1.6zM223.8 160.1h1.6v1.6h-1.6zM223.3 163.4h1.6v1.6h-1.6zM223.1 170.4h1.6v1.6h-1.6zM224.5 148.8h1.6v1.6h-1.6zM224.9 153.5h1.6v1.6h-1.6zM224.1 156.4h1.6v1.6h-1.6zM224.8 160.1h1.6v1.6h-1.6zM224.7 162.4h1.6v1.6h-1.6zM224.3 164.7h1.6v1.6h-1.6zM224.2 177.0h1.6v1.6h-1.6zM225.2 149.5h1.6v1.6h-1.6zM225.8 154.5h1.6v1.6h-1.6zM225.2 160.3h1.6v1.6h-1.6zM225.4 162.6h1.6v1.6h-1.6zM225.6 170.5h1.6v1.6h-1.6zM225.8 189.2h1.6v1.6h-1.6zM226.7 152.1h1.6v1.6h-1.6zM226.8 158.9h1.6v1.6h-1.6zM227.0 162.2h1.6v1.6h-1.6zM226.3 162.9h1.6v1.6h-1.6zM226.3 165.8h1.6v1.6h-1.6zM226.5 169.7h1.6v1.6h-1.6zM226.1 174.8h1.6v1.6h-1.6zM227.4 156.4h1.6v1.6h-1.6zM227.8 158.7h1.6v1.6h-1.6zM227.3 162.1h1.6v1.6h-1.6zM227.9 169.3h1.6v1.6h-1.6zM227.6 172.9h1.6v1.6h-1.6zM227.1 184.7h1.6v1.6h-1.6zM228.1 148.7h1.6v1.6h-1.6zM229.0 163.5h1.6v1.6h-1.6zM228.2 164.3h1.6v1.6h-1.6zM228.5 170.0h1.6v1.6h-1.6zM228.7 173.0h1.6v1.6h-1.6zM228.6 177.8h1.6v1.6h-1.6zM229.7 163.1h1.6v1.6h-1.6zM229.4 163.4h1.6v1.6h-1.6zM229.2 168.3h1.6v1.6h-1.6zM229.9 173.4h1.6v1.6h-1.6zM229.7 176.4h1.6v1.6h-1.6zM229.1 182.7h1.6v1.6h-1.6zM230.6 165.8h1.6v1.6h-1.6zM231.0 168.6h1.6v1.6h-1.6zM230.2 172.6h1.6v1.6h-1.6zM230.7 175.6h1.6v1.6h-1.6zM230.2 176.6h1.6v1.6h-1.6zM230.5 187.2h1.6v1.6h-1.6zM231.1 164.1h1.6v1.6h-1.6zM231.4 171.3h1.6v1.6h-1.6zM231.7 175.1h1.6v1.6h-1.6zM231.5 182.7h1.6v1.6h-1.6zM232.0 186.5h1.6v1.6h-1.6zM232.8 169.1h1.6v1.6h-1.6zM232.5 173.0h1.6v1.6h-1.6zM232.6 177.1h1.6v1.6h-1.6zM232.0 178.8h1.6v1.6h-1.6zM232.2 186.0h1.6v1.6h-1.6zM232.8 191.0h1.6v1.6h-1.6zM233.8 175.1h1.6v1.6h-1.6zM233.3 175.6h1.6v1.6h-1.6zM233.1 181.6h1.6v1.6h-1.6zM233.4 186.8h1.6v1.6h-1.6zM233.7 198.3h1.6v1.6h-1.6zM234.6 171.3h1.6v1.6h-1.6zM234.5 177.4h1.6v1.6h-1.6zM234.2 182.8h1.6v1.6h-1.6zM234.9 187.8h1.6v1.6h-1.6zM234.3 199.5h1.6v1.6h-1.6zM235.3 171.6h1.6v1.6h-1.6zM235.9 179.2h1.6v1.6h-1.6zM235.5 180.6h1.6v1.6h-1.6zM235.1 185.3h1.6v1.6h-1.6zM235.7 190.1h1.6v1.6h-1.6zM236.7 167.0h1.6v1.6h-1.6zM237.0 176.7h1.6v1.6h-1.6zM236.0 182.4h1.6v1.6h-1.6zM236.5 186.6h1.6v1.6h-1.6zM236.4 192.0h1.6v1.6h-1.6zM237.2 173.0h1.6v1.6h-1.6zM237.7 174.9h1.6v1.6h-1.6zM237.5 179.2h1.6v1.6h-1.6zM237.8 188.1h1.6v1.6h-1.6zM237.4 188.6h1.6v1.6h-1.6zM238.4 164.4h1.6v1.6h-1.6zM238.9 177.5h1.6v1.6h-1.6zM238.2 183.0h1.6v1.6h-1.6zM238.2 183.7h1.6v1.6h-1.6zM238.6 197.9h1.6v1.6h-1.6zM239.6 171.3h1.6v1.6h-1.6zM240.0 177.8h1.6v1.6h-1.6zM239.3 186.2h1.6v1.6h-1.6zM239.2 187.3h1.6v1.6h-1.6zM240.9 167.1h1.6v1.6h-1.6zM240.3 176.3h1.6v1.6h-1.6zM240.1 180.9h1.6v1.6h-1.6zM240.5 184.3h1.6v1.6h-1.6zM240.6 187.8h1.6v1.6h-1.6zM241.4 166.1h1.6v1.6h-1.6zM241.5 171.7h1.6v1.6h-1.6zM241.9 175.3h1.6v1.6h-1.6zM241.2 185.2h1.6v1.6h-1.6zM242.7 157.2h1.6v1.6h-1.6zM243.0 166.1h1.6v1.6h-1.6zM242.6 172.4h1.6v1.6h-1.6zM242.0 178.3h1.6v1.6h-1.6zM242.4 190.0h1.6v1.6h-1.6zM243.1 158.2h1.6v1.6h-1.6zM243.8 158.7h1.6v1.6h-1.6zM243.6 169.5h1.6v1.6h-1.6zM243.9 172.6h1.6v1.6h-1.6zM243.3 188.1h1.6v1.6h-1.6zM244.6 152.0h1.6v1.6h-1.6zM244.0 165.5h1.6v1.6h-1.6zM244.8 166.3h1.6v1.6h-1.6zM244.4 171.8h1.6v1.6h-1.6zM245.3 145.3h1.6v1.6h-1.6zM245.9 153.9h1.6v1.6h-1.6zM245.7 159.7h1.6v1.6h-1.6zM245.2 168.7h1.6v1.6h-1.6zM245.6 177.1h1.6v1.6h-1.6zM246.5 136.7h1.6v1.6h-1.6zM246.1 152.0h1.6v1.6h-1.6zM246.3 159.2h1.6v1.6h-1.6zM246.6 162.2h1.6v1.6h-1.6zM247.0 173.9h1.6v1.6h-1.6zM247.5 146.8h1.6v1.6h-1.6zM247.9 149.8h1.6v1.6h-1.6zM247.2 156.9h1.6v1.6h-1.6zM247.1 163.4h1.6v1.6h-1.6zM247.7 171.7h1.6v1.6h-1.6zM249.0 135.6h1.6v1.6h-1.6zM248.3 147.8h1.6v1.6h-1.6zM248.2 156.3h1.6v1.6h-1.6zM248.8 157.0h1.6v1.6h-1.6zM248.5 164.8h1.6v1.6h-1.6zM249.9 138.2h1.6v1.6h-1.6zM249.0 143.6h1.6v1.6h-1.6zM249.7 147.2h1.6v1.6h-1.6zM249.5 154.6h1.6v1.6h-1.6zM249.6 159.3h1.6v1.6h-1.6zM249.2 181.3h1.6v1.6h-1.6zM250.9 138.5h1.6v1.6h-1.6zM250.5 144.4h1.6v1.6h-1.6zM250.3 149.1h1.6v1.6h-1.6zM250.1 153.6h1.6v1.6h-1.6zM250.7 178.0h1.6v1.6h-1.6zM251.4 134.5h1.6v1.6h-1.6zM251.0 141.1h1.6v1.6h-1.6zM252.0 145.8h1.6v1.6h-1.6zM251.7 153.3h1.6v1.6h-1.6zM251.5 159.0h1.6v1.6h-1.6zM252.2 134.5h1.6v1.6h-1.6zM252.7 139.3h1.6v1.6h-1.6zM252.6 144.8h1.6v1.6h-1.6zM253.0 147.5h1.6v1.6h-1.6zM252.4 153.2h1.6v1.6h-1.6zM252.0 163.1h1.6v1.6h-1.6zM253.2 132.0h1.6v1.6h-1.6zM253.0 139.9h1.6v1.6h-1.6zM253.7 145.1h1.6v1.6h-1.6zM253.4 148.3h1.6v1.6h-1.6zM253.6 154.3h1.6v1.6h-1.6zM254.0 162.3h1.6v1.6h-1.6zM254.5 132.0h1.6v1.6h-1.6zM254.2 139.2h1.6v1.6h-1.6zM254.2 143.3h1.6v1.6h-1.6zM255.0 145.4h1.6v1.6h-1.6zM254.6 153.6h1.6v1.6h-1.6zM254.8 159.6h1.6v1.6h-1.6zM255.7 122.4h1.6v1.6h-1.6zM255.1 136.4h1.6v1.6h-1.6zM255.3 142.6h1.6v1.6h-1.6zM255.4 146.5h1.6v1.6h-1.6zM255.8 147.5h1.6v1.6h-1.6zM255.7 155.3h1.6v1.6h-1.6zM256.9 130.8h1.6v1.6h-1.6zM256.6 133.8h1.6v1.6h-1.6zM256.4 141.2h1.6v1.6h-1.6zM256.0 143.3h1.6v1.6h-1.6zM256.7 149.4h1.6v1.6h-1.6zM256.2 156.5h1.6v1.6h-1.6zM257.1 130.5h1.6v1.6h-1.6zM257.9 133.1h1.6v1.6h-1.6zM257.4 137.5h1.6v1.6h-1.6zM257.5 142.7h1.6v1.6h-1.6zM257.8 146.8h1.6v1.6h-1.6zM257.6 152.1h1.6v1.6h-1.6zM257.0 164.7h1.6v1.6h-1.6zM258.6 119.4h1.6v1.6h-1.6zM258.3 133.5h1.6v1.6h-1.6zM258.8 137.6h1.6v1.6h-1.6zM259.0 143.3h1.6v1.6h-1.6zM258.4 148.4h1.6v1.6h-1.6zM258.0 157.1h1.6v1.6h-1.6zM259.4 126.2h1.6v1.6h-1.6zM259.8 131.1h1.6v1.6h-1.6zM259.2 137.8h1.6v1.6h-1.6zM259.0 140.5h1.6v1.6h-1.6zM259.5 145.3h1.6v1.6h-1.6zM259.7 148.1h1.6v1.6h-1.6zM259.9 154.6h1.6v1.6h-1.6zM260.4 126.0h1.6v1.6h-1.6zM260.7 129.4h1.6v1.6h-1.6zM260.9 135.7h1.6v1.6h-1.6zM260.2 139.2h1.6v1.6h-1.6zM260.5 144.3h1.6v1.6h-1.6zM260.8 148.8h1.6v1.6h-1.6zM260.0 152.3h1.6v1.6h-1.6zM261.6 127.1h1.6v1.6h-1.6zM261.8 129.5h1.6v1.6h-1.6zM261.2 133.7h1.6v1.6h-1.6zM262.0 139.7h1.6v1.6h-1.6zM261.5 141.5h1.6v1.6h-1.6zM261.0 147.9h1.6v1.6h-1.6zM261.3 151.7h1.6v1.6h-1.6zM262.6 120.6h1.6v1.6h-1.6zM262.8 127.5h1.6v1.6h-1.6zM262.9 132.5h1.6v1.6h-1.6zM262.4 136.4h1.6v1.6h-1.6zM262.3 141.4h1.6v1.6h-1.6zM262.1 147.1h1.6v1.6h-1.6zM262.4 152.4h1.6v1.6h-1.6zM263.8 126.7h1.6v1.6h-1.6zM263.9 127.2h1.6v1.6h-1.6zM263.7 131.5h1.6v1.6h-1.6zM263.1 138.3h1.6v1.6h-1.6zM263.5 139.9h1.6v1.6h-1.6zM263.2 142.9h1.6v1.6h-1.6zM263.3 147.7h1.6v1.6h-1.6zM264.6 124.9h1.6v1.6h-1.6zM264.1 128.9h1.6v1.6h-1.6zM264.8 133.5h1.6v1.6h-1.6zM264.2 137.0h1.6v1.6h-1.6zM264.9 139.5h1.6v1.6h-1.6zM264.3 146.2h1.6v1.6h-1.6zM264.5 149.1h1.6v1.6h-1.6zM265.7 122.6h1.6v1.6h-1.6zM265.9 128.1h1.6v1.6h-1.6zM265.7 133.5h1.6v1.6h-1.6zM265.1 134.5h1.6v1.6h-1.6zM265.3 141.0h1.6v1.6h-1.6zM265.5 142.4h1.6v1.6h-1.6zM265.2 148.2h1.6v1.6h-1.6zM266.6 123.9h1.6v1.6h-1.6zM266.5 126.5h1.6v1.6h-1.6zM266.3 132.5h1.6v1.6h-1.6zM266.1 134.0h1.6v1.6h-1.6zM266.9 138.2h1.6v1.6h-1.6zM266.8 143.3h1.6v1.6h-1.6zM266.4 149.5h1.6v1.6h-1.6zM267.2 121.6h1.6v1.6h-1.6zM267.9 125.2h1.6v1.6h-1.6zM267.5 130.5h1.6v1.6h-1.6zM267.1 135.0h1.6v1.6h-1.6zM267.8 138.0h1.6v1.6h-1.6zM267.6 140.6h1.6v1.6h-1.6zM267.3 153.6h1.6v1.6h-1.6zM268.3 121.0h1.6v1.6h-1.6zM268.1 126.0h1.6v1.6h-1.6zM268.2 130.0h1.6v1.6h-1.6zM268.9 131.7h1.6v1.6h-1.6zM268.8 137.9h1.6v1.6h-1.6zM268.7 140.5h1.6v1.6h-1.6zM268.5 144.4h1.6v1.6h-1.6zM269.7 119.3h1.6v1.6h-1.6zM269.1 125.7h1.6v1.6h-1.6zM269.9 130.9h1.6v1.6h-1.6zM269.2 135.9h1.6v1.6h-1.6zM269.6 138.6h1.6v1.6h-1.6zM269.4 150.8h1.6v1.6h-1.6zM270.4 114.4h1.6v1.6h-1.6zM270.5 126.0h1.6v1.6h-1.6zM270.7 128.9h1.6v1.6h-1.6zM270.0 134.4h1.6v1.6h-1.6zM270.3 135.3h1.6v1.6h-1.6zM270.8 142.3h1.6v1.6h-1.6zM270.9 142.9h1.6v1.6h-1.6zM271.8 121.1h1.6v1.6h-1.6zM271.0 125.2h1.6v1.6h-1.6zM271.6 128.4h1.6v1.6h-1.6zM271.8 132.0h1.6v1.6h-1.6zM271.5 141.2h1.6v1.6h-1.6zM271.3 146.3h1.6v1.6h-1.6zM273.0 117.7h1.6v1.6h-1.6zM272.1 125.3h1.6v1.6h-1.6zM272.5 132.0h1.6v1.6h-1.6zM272.6 139.0h1.6v1.6h-1.6zM272.3 150.6h1.6v1.6h-1.6zM273.4 110.2h1.6v1.6h-1.6zM273.3 125.4h1.6v1.6h-1.6zM273.7 126.5h1.6v1.6h-1.6zM273.1 132.8h1.6v1.6h-1.6zM273.6 139.9h1.6v1.6h-1.6zM273.9 143.0h1.6v1.6h-1.6zM274.1 108.9h1.6v1.6h-1.6zM274.9 124.1h1.6v1.6h-1.6zM274.7 126.6h1.6v1.6h-1.6zM274.2 132.7h1.6v1.6h-1.6zM274.5 143.7h1.6v1.6h-1.6zM275.7 119.7h1.6v1.6h-1.6zM275.3 126.1h1.6v1.6h-1.6zM275.1 129.3h1.6v1.6h-1.6zM276.0 139.6h1.6v1.6h-1.6zM276.1 107.8h1.6v1.6h-1.6zM276.5 123.0h1.6v1.6h-1.6zM276.3 125.3h1.6v1.6h-1.6zM276.9 130.8h1.6v1.6h-1.6zM276.7 137.2h1.6v1.6h-1.6zM277.6 118.6h1.6v1.6h-1.6zM277.0 129.4h1.6v1.6h-1.6zM277.8 134.1h1.6v1.6h-1.6zM278.8 105.2h1.6v1.6h-1.6zM278.7 119.9h1.6v1.6h-1.6zM278.4 129.0h1.6v1.6h-1.6zM278.1 135.5h1.6v1.6h-1.6zM279.0 120.4h1.6v1.6h-1.6zM279.8 136.1h1.6v1.6h-1.6zM280.7 114.2h1.6v1.6h-1.6zM280.1 118.9h1.6v1.6h-1.6zM280.5 127.0h1.6v1.6h-1.6zM281.3 106.3h1.6v1.6h-1.6zM281.7 115.9h1.6v1.6h-1.6zM281.4 128.6h1.6v1.6h-1.6zM282.2 114.1h1.6v1.6h-1.6zM282.7 117.1h1.6v1.6h-1.6zM282.4 123.6h1.6v1.6h-1.6zM283.1 108.0h1.6v1.6h-1.6zM283.4 119.6h1.6v1.6h-1.6zM283.8 122.6h1.6v1.6h-1.6zM284.7 105.7h1.6v1.6h-1.6zM284.2 116.4h1.6v1.6h-1.6zM284.5 126.3h1.6v1.6h-1.6zM285.3 102.3h1.6v1.6h-1.6zM285.8 113.9h1.6v1.6h-1.6zM285.4 129.8h1.6v1.6h-1.6zM287.0 103.0h1.6v1.6h-1.6zM286.2 110.8h1.6v1.6h-1.6zM286.6 119.2h1.6v1.6h-1.6zM287.4 105.2h1.6v1.6h-1.6zM287.2 108.3h1.6v1.6h-1.6zM287.6 111.3h1.6v1.6h-1.6zM287.8 119.3h1.6v1.6h-1.6zM288.4 100.1h1.6v1.6h-1.6zM288.1 106.7h1.6v1.6h-1.6zM288.5 108.5h1.6v1.6h-1.6zM288.9 110.2h1.6v1.6h-1.6zM288.7 125.2h1.6v1.6h-1.6zM289.5 100.5h1.6v1.6h-1.6zM289.1 105.6h1.6v1.6h-1.6zM289.9 106.3h1.6v1.6h-1.6zM289.6 108.0h1.6v1.6h-1.6zM289.4 113.6h1.6v1.6h-1.6zM290.1 98.7h1.6v1.6h-1.6zM290.9 100.8h1.6v1.6h-1.6zM290.5 105.9h1.6v1.6h-1.6zM290.7 106.0h1.6v1.6h-1.6zM290.2 109.2h1.6v1.6h-1.6zM290.6 114.9h1.6v1.6h-1.6zM291.1 100.1h1.6v1.6h-1.6zM291.3 101.3h1.6v1.6h-1.6zM291.8 105.5h1.6v1.6h-1.6zM291.4 107.5h1.6v1.6h-1.6zM292.0 108.3h1.6v1.6h-1.6zM291.5 111.8h1.6v1.6h-1.6zM292.1 95.0h1.6v1.6h-1.6zM292.9 102.5h1.6v1.6h-1.6zM292.6 104.3h1.6v1.6h-1.6zM292.3 106.0h1.6v1.6h-1.6zM292.5 108.6h1.6v1.6h-1.6zM292.8 117.8h1.6v1.6h-1.6zM293.8 100.1h1.6v1.6h-1.6zM293.4 101.2h1.6v1.6h-1.6zM293.7 106.0h1.6v1.6h-1.6zM293.0 107.4h1.6v1.6h-1.6zM293.4 113.3h1.6v1.6h-1.6zM294.5 94.3h1.6v1.6h-1.6zM294.0 102.2h1.6v1.6h-1.6zM294.3 104.4h1.6v1.6h-1.6zM295.0 105.6h1.6v1.6h-1.6zM294.4 110.9h1.6v1.6h-1.6zM294.8 113.3h1.6v1.6h-1.6zM295.1 99.5h1.6v1.6h-1.6zM295.5 100.2h1.6v1.6h-1.6zM295.8 103.6h1.6v1.6h-1.6zM295.3 106.9h1.6v1.6h-1.6zM295.8 108.4h1.6v1.6h-1.6zM295.5 114.5h1.6v1.6h-1.6zM296.7 99.0h1.6v1.6h-1.6zM296.7 100.0h1.6v1.6h-1.6zM296.4 104.5h1.6v1.6h-1.6zM296.2 107.5h1.6v1.6h-1.6zM296.1 110.5h1.6v1.6h-1.6zM297.0 113.3h1.6v1.6h-1.6zM297.2 99.5h1.6v1.6h-1.6zM297.5 101.9h1.6v1.6h-1.6zM297.0 105.0h1.6v1.6h-1.6zM297.7 106.7h1.6v1.6h-1.6zM297.5 109.8h1.6v1.6h-1.6zM297.9 111.2h1.6v1.6h-1.6zM298.3 99.0h1.6v1.6h-1.6zM298.9 99.8h1.6v1.6h-1.6zM298.7 102.1h1.6v1.6h-1.6zM298.8 106.1h1.6v1.6h-1.6zM298.3 106.5h1.6v1.6h-1.6zM298.1 110.4h1.6v1.6h-1.6zM298.5 117.9h1.6v1.6h-1.6zM299.9 97.9h1.6v1.6h-1.6zM299.3 100.7h1.6v1.6h-1.6zM299.6 103.7h1.6v1.6h-1.6zM299.8 105.8h1.6v1.6h-1.6zM299.5 107.7h1.6v1.6h-1.6zM299.1 114.0h1.6v1.6h-1.6zM300.2 94.7h1.6v1.6h-1.6zM300.7 101.5h1.6v1.6h-1.6zM301.0 103.5h1.6v1.6h-1.6zM300.5 106.8h1.6v1.6h-1.6zM300.5 109.8h1.6v1.6h-1.6zM300.3 110.9h1.6v1.6h-1.6zM301.0 98.0h1.6v1.6h-1.6zM301.7 100.4h1.6v1.6h-1.6zM301.7 103.8h1.6v1.6h-1.6zM301.4 106.2h1.6v1.6h-1.6zM301.9 108.4h1.6v1.6h-1.6zM301.3 115.3h1.6v1.6h-1.6zM302.4 98.7h1.6v1.6h-1.6zM302.3 101.7h1.6v1.6h-1.6zM302.2 104.4h1.6v1.6h-1.6zM302.9 106.2h1.6v1.6h-1.6zM302.8 108.1h1.6v1.6h-1.6zM302.6 111.0h1.6v1.6h-1.6zM303.9 98.7h1.6v1.6h-1.6zM303.6 100.1h1.6v1.6h-1.6zM303.2 103.0h1.6v1.6h-1.6zM303.7 105.8h1.6v1.6h-1.6zM303.1 108.1h1.6v1.6h-1.6zM303.4 115.6h1.6v1.6h-1.6zM304.4 96.0h1.6v1.6h-1.6zM304.7 99.9h1.6v1.6h-1.6zM304.1 103.2h1.6v1.6h-1.6zM305.0 106.6h1.6v1.6h-1.6zM304.2 109.4h1.6v1.6h-1.6zM304.6 117.1h1.6v1.6h-1.6zM305.4 98.3h1.6v1.6h-1.6zM305.6 99.0h1.6v1.6h-1.6zM305.5 103.4h1.6v1.6h-1.6zM305.1 103.9h1.6v1.6h-1.6zM305.2 106.0h1.6v1.6h-1.6zM305.8 108.4h1.6v1.6h-1.6zM305.9 116.2h1.6v1.6h-1.6zM306.2 98.6h1.6v1.6h-1.6zM306.4 101.7h1.6v1.6h-1.6zM306.9 103.6h1.6v1.6h-1.6zM306.0 104.7h1.6v1.6h-1.6zM306.8 109.1h1.6v1.6h-1.6zM306.5 111.8h1.6v1.6h-1.6zM307.1 96.4h1.6v1.6h-1.6zM308.0 100.9h1.6v1.6h-1.6zM307.4 103.4h1.6v1.6h-1.6zM307.8 105.5h1.6v1.6h-1.6zM307.6 107.3h1.6v1.6h-1.6zM307.3 115.5h1.6v1.6h-1.6zM309.0 98.5h1.6v1.6h-1.6zM308.1 100.2h1.6v1.6h-1.6zM308.6 104.2h1.6v1.6h-1.6zM308.2 105.3h1.6v1.6h-1.6zM308.7 108.2h1.6v1.6h-1.6zM308.5 111.1h1.6v1.6h-1.6zM309.4 98.5h1.6v1.6h-1.6zM309.2 100.0h1.6v1.6h-1.6zM309.8 103.5h1.6v1.6h-1.6zM309.2 105.7h1.6v1.6h-1.6zM309.9 106.9h1.6v1.6h-1.6zM309.5 111.9h1.6v1.6h-1.6zM310.8 97.8h1.6v1.6h-1.6zM310.2 99.5h1.6v1.6h-1.6zM310.6 104.3h1.6v1.6h-1.6zM311.0 105.6h1.6v1.6h-1.6zM310.1 107.7h1.6v1.6h-1.6zM310.4 116.4h1.6v1.6h-1.6zM311.8 93.1h1.6v1.6h-1.6zM311.5 99.8h1.6v1.6h-1.6zM311.3 102.9h1.6v1.6h-1.6zM312.0 105.0h1.6v1.6h-1.6zM311.4 106.1h1.6v1.6h-1.6zM311.1 108.3h1.6v1.6h-1.6zM311.6 114.4h1.6v1.6h-1.6zM312.4 95.5h1.6v1.6h-1.6zM312.6 101.8h1.6v1.6h-1.6zM312.2 103.9h1.6v1.6h-1.6zM312.8 105.6h1.6v1.6h-1.6zM312.8 107.2h1.6v1.6h-1.6zM312.2 112.2h1.6v1.6h-1.6zM313.4 98.1h1.6v1.6h-1.6zM313.1 101.7h1.6v1.6h-1.6zM313.8 104.2h1.6v1.6h-1.6zM313.2 106.7h1.6v1.6h-1.6zM313.8 108.2h1.6v1.6h-1.6zM313.5 110.2h1.6v1.6h-1.6zM314.5 94.6h1.6v1.6h-1.6zM314.8 100.1h1.6v1.6h-1.6zM314.3 102.7h1.6v1.6h-1.6zM314.9 106.1h1.6v1.6h-1.6zM314.1 106.9h1.6v1.6h-1.6zM314.5 111.6h1.6v1.6h-1.6zM315.6 96.7h1.6v1.6h-1.6zM315.5 100.3h1.6v1.6h-1.6zM315.1 104.1h1.6v1.6h-1.6zM315.9 105.3h1.6v1.6h-1.6zM315.3 108.5h1.6v1.6h-1.6zM315.7 111.6h1.6v1.6h-1.6zM317.0 93.3h1.6v1.6h-1.6zM316.3 101.0h1.6v1.6h-1.6zM316.6 103.5h1.6v1.6h-1.6zM316.4 104.4h1.6v1.6h-1.6zM316.8 108.8h1.6v1.6h-1.6zM316.2 117.6h1.6v1.6h-1.6zM317.6 92.0h1.6v1.6h-1.6zM317.2 100.7h1.6v1.6h-1.6zM317.6 102.9h1.6v1.6h-1.6zM318.0 103.2h1.6v1.6h-1.6zM317.8 106.5h1.6v1.6h-1.6zM317.1 108.0h1.6v1.6h-1.6zM317.3 115.8h1.6v1.6h-1.6zM318.4 94.7h1.6v1.6h-1.6zM318.9 100.8h1.6v1.6h-1.6zM318.1 102.6h1.6v1.6h-1.6zM318.3 106.3h1.6v1.6h-1.6zM318.6 109.0h1.6v1.6h-1.6zM318.7 117.2h1.6v1.6h-1.6zM319.6 94.1h1.6v1.6h-1.6zM319.7 99.5h1.6v1.6h-1.6zM320.0 101.7h1.6v1.6h-1.6zM319.2 104.0h1.6v1.6h-1.6zM319.4 107.1h1.6v1.6h-1.6zM319.0 111.6h1.6v1.6h-1.6zM320.0 95.5h1.6v1.6h-1.6zM320.4 99.2h1.6v1.6h-1.6zM320.3 103.5h1.6v1.6h-1.6zM320.5 104.4h1.6v1.6h-1.6zM320.9 108.1h1.6v1.6h-1.6zM320.8 112.5h1.6v1.6h-1.6zM321.4 97.6h1.6v1.6h-1.6zM321.9 100.3h1.6v1.6h-1.6zM321.3 103.1h1.6v1.6h-1.6zM321.8 105.6h1.6v1.6h-1.6zM321.6 108.8h1.6v1.6h-1.6zM321.0 115.0h1.6v1.6h-1.6zM322.3 98.0h1.6v1.6h-1.6zM322.9 100.2h1.6v1.6h-1.6zM322.8 101.7h1.6v1.6h-1.6zM322.5 104.3h1.6v1.6h-1.6zM322.5 106.3h1.6v1.6h-1.6zM322.0 110.6h1.6v1.6h-1.6zM323.7 97.0h1.6v1.6h-1.6zM323.5 100.2h1.6v1.6h-1.6zM323.9 102.6h1.6v1.6h-1.6zM323.0 104.7h1.6v1.6h-1.6zM323.2 108.4h1.6v1.6h-1.6zM323.6 117.6h1.6v1.6h-1.6zM324.6 95.7h1.6v1.6h-1.6zM324.8 100.7h1.6v1.6h-1.6zM324.8 104.3h1.6v1.6h-1.6zM324.0 107.3h1.6v1.6h-1.6zM324.3 109.6h1.6v1.6h-1.6zM325.1 94.5h1.6v1.6h-1.6zM325.3 99.9h1.6v1.6h-1.6zM325.4 103.4h1.6v1.6h-1.6zM325.7 104.2h1.6v1.6h-1.6zM325.9 106.3h1.6v1.6h-1.6zM325.6 110.5h1.6v1.6h-1.6zM326.2 91.9h1.6v1.6h-1.6zM326.9 100.3h1.6v1.6h-1.6zM326.1 102.0h1.6v1.6h-1.6zM326.5 103.7h1.6v1.6h-1.6zM326.4 108.0h1.6v1.6h-1.6zM326.7 112.8h1.6v1.6h-1.6zM327.8 97.6h1.6v1.6h-1.6zM327.4 98.5h1.6v1.6h-1.6zM327.6 102.9h1.6v1.6h-1.6zM327.9 105.3h1.6v1.6h-1.6zM327.2 107.8h1.6v1.6h-1.6zM327.3 111.0h1.6v1.6h-1.6zM328.4 98.5h1.6v1.6h-1.6zM328.9 100.7h1.6v1.6h-1.6zM328.7 102.9h1.6v1.6h-1.6zM328.5 107.5h1.6v1.6h-1.6zM328.1 110.2h1.6v1.6h-1.6zM329.6 92.0h1.6v1.6h-1.6zM329.1 99.4h1.6v1.6h-1.6zM329.9 102.7h1.6v1.6h-1.6zM329.8 103.9h1.6v1.6h-1.6zM329.4 107.3h1.6v1.6h-1.6zM329.3 111.8h1.6v1.6h-1.6zM330.6 98.2h1.6v1.6h-1.6zM330.0 101.3h1.6v1.6h-1.6zM330.9 102.6h1.6v1.6h-1.6zM330.8 106.0h1.6v1.6h-1.6zM330.3 109.5h1.6v1.6h-1.6zM331.4 96.7h1.6v1.6h-1.6zM331.2 100.3h1.6v1.6h-1.6zM331.7 101.9h1.6v1.6h-1.6zM331.1 105.1h1.6v1.6h-1.6zM331.6 108.6h1.6v1.6h-1.6zM332.0 112.3h1.6v1.6h-1.6zM332.1 96.0h1.6v1.6h-1.6zM332.3 101.3h1.6v1.6h-1.6zM332.9 103.0h1.6v1.6h-1.6zM332.7 107.1h1.6v1.6h-1.6zM332.4 109.5h1.6v1.6h-1.6zM333.4 97.5h1.6v1.6h-1.6zM333.6 101.0h1.6v1.6h-1.6zM333.3 103.6h1.6v1.6h-1.6zM333.9 105.4h1.6v1.6h-1.6zM333.1 113.9h1.6v1.6h-1.6zM334.0 93.9h1.6v1.6h-1.6zM334.7 98.5h1.6v1.6h-1.6zM334.5 100.8h1.6v1.6h-1.6zM334.6 103.5h1.6v1.6h-1.6zM335.0 105.5h1.6v1.6h-1.6zM334.3 110.2h1.6v1.6h-1.6zM335.7 98.0h1.6v1.6h-1.6zM335.0 101.6h1.6v1.6h-1.6zM335.5 102.0h1.6v1.6h-1.6zM335.9 105.7h1.6v1.6h-1.6zM335.3 113.8h1.6v1.6h-1.6zM336.5 97.5h1.6v1.6h-1.6zM336.8 100.2h1.6v1.6h-1.6zM336.0 103.7h1.6v1.6h-1.6zM336.7 105.0h1.6v1.6h-1.6zM336.2 108.5h1.6v1.6h-1.6zM337.5 97.1h1.6v1.6h-1.6zM337.8 102.8h1.6v1.6h-1.6zM337.0 106.9h1.6v1.6h-1.6zM337.3 109.9h1.6v1.6h-1.6zM338.6 98.3h1.6v1.6h-1.6zM338.8 103.3h1.6v1.6h-1.6zM338.1 107.0h1.6v1.6h-1.6zM338.4 112.2h1.6v1.6h-1.6zM339.6 100.3h1.6v1.6h-1.6zM339.9 105.1h1.6v1.6h-1.6zM339.1 114.8h1.6v1.6h-1.6zM340.5 99.0h1.6v1.6h-1.6zM340.1 102.1h1.6v1.6h-1.6zM340.8 104.7h1.6v1.6h-1.6zM340.4 112.3h1.6v1.6h-1.6zM341.7 100.1h1.6v1.6h-1.6zM341.5 111.8h1.6v1.6h-1.6z" fill="#1a1a1a"/>
<path d="M74.6 371.9h1.6v1.6h-1.6zM74.4 376.5h1.6v1.6h-1.6zM74.2 380.0h1.6v1.6h-1.6zM75.0 380.6h1.6v1.6h-1.6zM74.2 383.2h1.6v1.6h-1.6zM74.7 385.3h1.6v1.6h-1.6zM74.1 386.1h1.6v1.6h-1.6zM74.9 388.1h1.6v1.6h-1.6zM74.5 392.1h1.6v1.6h-1.6zM75.5 374.8h1.6v1.6h-1.6zM75.3 376.6h1.6v1.6h-1.6zM75.8 380.3h1.6v1.6h-1.6zM75.2 381.3h1.6v1.6h-1.6zM76.0 383.5h1.6v1.6h-1.6zM75.1 384.2h1.6v1.6h-1.6zM75.6 386.1h1.6v1.6h-1.6zM75.8 388.6h1.6v1.6h-1.6zM75.4 397.0h1.6v1.6h-1.6zM76.8 373.7h1.6v1.6h-1.6zM76.7 376.4h1.6v1.6h-1.6zM76.6 378.7h1.6v1.6h-1.6zM76.9 380.6h1.6v1.6h-1.6zM76.5 383.5h1.6v1.6h-1.6zM76.4 384.9h1.6v1.6h-1.6zM76.2 387.8h1.6v1.6h-1.6zM76.3 390.5h1.6v1.6h-1.6zM76.1 392.8h1.6v1.6h-1.6zM77.5 374.2h1.6v1.6h-1.6zM77.9 377.3h1.6v1.6h-1.6zM77.7 380.5h1.6v1.6h-1.6zM77.1 381.9h1.6v1.6h-1.6zM77.8 383.4h1.6v1.6h-1.6zM77.2 385.3h1.6v1.6h-1.6zM77.2 387.0h1.6v1.6h-1.6zM77.6 391.0h1.6v1.6h-1.6zM77.4 392.1h1.6v1.6h-1.6zM78.3 369.9h1.6v1.6h-1.6zM78.9 376.7h1.6v1.6h-1.6zM78.7 378.9h1.6v1.6h-1.6zM78.6 381.0h1.6v1.6h-1.6zM78.3 381.8h1.6v1.6h-1.6zM78.8 383.6h1.6v1.6h-1.6zM78.0 385.3h1.6v1.6h-1.6zM78.7 387.6h1.6v1.6h-1.6zM78.4 389.5h1.6v1.6h-1.6zM78.2 394.7h1.6v1.6h-1.6zM79.2 375.8h1.6v1.6h-1.6zM80.0 377.8h1.6v1.6h-1.6zM79.3 378.8h1.6v1.6h-1.6zM79.7 381.2h1.6v1.6h-1.6zM79.9 383.7h1.6v1.6h-1.6zM79.5 385.0h1.6v1.6h-1.6zM79.4 387.1h1.6v1.6h-1.6zM79.7 390.6h1.6v1.6h-1.6zM79.1 396.4h1.6v1.6h-1.6zM80.1 374.7h1.6v1.6h-1.6zM80.3 376.6h1.6v1.6h-1.6zM80.3 379.3h1.6v1.6h-1.6zM81.0 381.7h1.6v1.6h-1.6zM80.5 384.1h1.6v1.6h-1.6zM80.6 384.6h1.6v1.6h-1.6zM80.9 388.4h1.6v1.6h-1.6zM80.7 391.2h1.6v1.6h-1.6zM80.2 392.4h1.6v1.6h-1.6zM81.7 375.1h1.6v1.6h-1.6zM81.5 378.8h1.6v1.6h-1.6zM81.4 379.4h1.6v1.6h-1.6zM81.9 381.4h1.6v1.6h-1.6zM81.3 383.4h1.6v1.6h-1.6zM81.7 385.0h1.6v1.6h-1.6zM81.2 387.7h1.6v1.6h-1.6zM81.1 391.2h1.6v1.6h-1.6zM81.8 392.1h1.6v1.6h-1.6zM82.1 375.8h1.6v1.6h-1.6zM82.5 377.0h1.6v1.6h-1.6zM82.7 380.4h1.6v1.6h-1.6zM83.0 381.4h1.6v1.6h-1.6zM82.2 382.9h1.6v1.6h-1.6zM82.8 385.9h1.6v1.6h-1.6zM82.6 386.5h1.6v1.6h-1.6zM82.4 390.5h1.6v1.6h-1.6zM82.2 392.7h1.6v1.6h-1.6zM83.4 372.6h1.6v1.6h-1.6zM83.8 376.3h1.6v1.6h-1.6zM83.2 380.8h1.6v1.6h-1.6zM83.2 382.8h1.6v1.6h-1.6zM83.5 383.1h1.6v1.6h-1.6zM83.1 384.9h1.6v1.6h-1.6zM83.7 387.4h1.6v1.6h-1.6zM83.9 390.3h1.6v1.6h-1.6zM83.6 403.0h1.6v1.6h-1.6zM84.4 372.5h1.6v1.6h-1.6zM84.5 377.9h1.6v1.6h-1.6zM84.1 379.9h1.6v1.6h-1.6zM84.8 382.3h1.6v1.6h-1.6zM84.1 384.5h1.6v1.6h-1.6zM84.3 385.3h1.6v1.6h-1.6zM84.6 387.9h1.6v1.6h-1.6zM84.8 389.3h1.6v1.6h-1.6zM84.9 399.9h1.6v1.6h-1.6zM85.7 372.1h1.6v1.6h-1.6zM85.8 377.4h1.6v1.6h-1.6zM85.4 379.2h1.6v1.6h-1.6zM85.9 382.6h1.6v1.6h-1.6zM85.3 383.6h1.6v1.6h-1.6zM85.6 386.0h1.6v1.6h-1.6zM85.2 387.1h1.6v1.6h-1.6zM85.1 388.8h1.6v1.6h-1.6zM85.5 393.1h1.6v1.6h-1.6zM86.6 374.0h1.6v1.6h-1.6zM86.1 377.8h1.6v1.6h-1.6zM86.2 380.7h1.6v1.6h-1.6zM87.0 381.9h1.6v1.6h-1.6zM86.3 383.9h1.6v1.6h-1.6zM86.1 384.9h1.6v1.6h-1.6zM86.8 387.4h1.6v1.6h-1.6zM86.5 390.9h1.6v1.6h-1.6zM86.7 392.3h1.6v1.6h-1.6zM87.4 374.3h1.6v1.6h-1.6zM87.7 377.1h1.6v1.6h-1.6zM87.6 379.7h1.6v1.6h-1.6zM87.3 382.0h1.6v1.6h-1.6zM87.5 383.3h1.6v1.6h-1.6zM87.9 385.0h1.6v1.6h-1.6zM87.3 386.5h1.6v1.6h-1.6zM87.1 389.3h1.6v1.6h-1.6zM87.2 391.5h1.6v1.6h-1.6zM88.0 392.8h1.6v1.6h-1.6zM88.8 373.6h1.6v1.6h-1.6zM89.0 379.0h1.6v1.6h-1.6zM88.6 380.0h1.6v1.6h-1.6zM88.3 381.5h1.6v1.6h-1.6zM88.7 384.4h1.6v1.6h-1.6zM88.0 385.1h1.6v1.6h-1.6zM88.2 388.6h1.6v1.6h-1.6zM88.3 390.0h1.6v1.6h-1.6zM88.5 396.6h1.6v1.6h-1.6zM89.3 374.1h1.6v1.6h-1.6zM89.4 377.4h1.6v1.6h-1.6zM89.9 380.8h1.6v1.6h-1.6zM89.1 382.2h1.6v1.6h-1.6zM89.5 383.7h1.6v1.6h-1.6zM89.9 386.6h1.6v1.6h-1.6zM89.2 387.2h1.6v1.6h-1.6zM89.6 391.3h1.6v1.6h-1.6zM89.7 395.2h1.6v1.6h-1.6zM90.9 375.5h1.6v1.6h-1.6zM90.7 378.4h1.6v1.6h-1.6zM90.2 379.3h1.6v1.6h-1.6zM90.5 381.7h1.6v1.6h-1.6zM90.3 383.2h1.6v1.6h-1.6zM90.4 386.7h1.6v1.6h-1.6zM90.7 387.3h1.6v1.6h-1.6zM90.8 389.5h1.6v1.6h-1.6zM90.0 394.9h1.6v1.6h-1.6zM91.0 371.4h1.6v1.6h-1.6zM91.9 378.2h1.6v1.6h-1.6zM91.4 381.4h1.6v1.6h-1.6zM91.5 382.4h1.6v1.6h-1.6zM91.6 383.6h1.6v1.6h-1.6zM91.8 385.1h1.6v1.6h-1.6zM91.7 387.6h1.6v1.6h-1.6zM91.3 391.1h1.6v1.6h-1.6zM91.2 392.1h1.6v1.6h-1.6zM92.2 377.3h1.6v1.6h-1.6zM92.1 379.5h1.6v1.6h-1.6zM92.5 382.1h1.6v1.6h-1.6zM92.8 384.2h1.6v1.6h-1.6zM93.0 389.1h1.6v1.6h-1.6zM92.6 393.6h1.6v1.6h-1.6zM93.9 370.5h1.6v1.6h-1.6zM93.8 377.8h1.6v1.6h-1.6zM93.3 381.6h1.6v1.6h-1.6zM93.7 383.3h1.6v1.6h-1.6zM93.5 386.4h1.6v1.6h-1.6zM93.1 390.5h1.6v1.6h-1.6zM93.3 391.9h1.6v1.6h-1.6zM95.0 376.6h1.6v1.6h-1.6zM94.8 378.4h1.6v1.6h-1.6zM94.3 383.0h1.6v1.6h-1.6zM94.5 385.1h1.6v1.6h-1.6zM94.1 389.3h1.6v1.6h-1.6zM94.3 390.7h1.6v1.6h-1.6zM95.4 375.0h1.6v1.6h-1.6zM95.1 378.7h1.6v1.6h-1.6zM95.7 382.8h1.6v1.6h-1.6zM95.7 384.5h1.6v1.6h-1.6zM95.2 387.7h1.6v1.6h-1.6zM96.0 389.8h1.6v1.6h-1.6zM95.4 398.6h1.6v1.6h-1.6zM96.9 371.9h1.6v1.6h-1.6zM96.2 380.9h1.6v1.6h-1.6zM96.5 382.4h1.6v1.6h-1.6zM96.4 385.0h1.6v1.6h-1.6zM96.0 389.3h1.6v1.6h-1.6zM96.8 401.6h1.6v1.6h-1.6zM97.9 374.9h1.6v1.6h-1.6zM97.5 380.4h1.6v1.6h-1.6zM97.4 381.0h1.6v1.6h-1.6zM97.2 383.4h1.6v1.6h-1.6zM97.7 385.9h1.6v1.6h-1.6zM97.1 389.6h1.6v1.6h-1.6zM97.7 393.4h1.6v1.6h-1.6zM98.5 372.8h1.6v1.6h-1.6zM99.0 380.6h1.6v1.6h-1.6zM98.8 384.0h1.6v1.6h-1.6zM98.2 386.4h1.6v1.6h-1.6zM98.6 390.5h1.6v1.6h-1.6zM98.1 394.0h1.6v1.6h-1.6zM99.9 373.3h1.6v1.6h-1.6zM99.8 379.5h1.6v1.6h-1.6zM99.1 382.3h1.6v1.6h-1.6zM99.4 383.6h1.6v1.6h-1.6zM99.5 387.8h1.6v1.6h-1.6zM99.0 390.5h1.6v1.6h-1.6zM99.7 392.0h1.6v1.6h-1.6zM100.6 374.8h1.6v1.6h-1.6zM101.0 378.8h1.6v1.6h-1.6zM100.4 384.2h1.6v1.6h-1.6zM100.7 385.7h1.6v1.6h-1.6zM100.1 387.3h1.6v1.6h-1.6zM100.2 401.9h1.6v1.6h-1.6zM101.0 377.0h1.6v1.6h-1.6zM101.7 379.2h1.6v1.6h-1.6zM101.7 382.7h1.6v1.6h-1.6zM101.9 383.4h1.6v1.6h-1.6zM101.4 387.3h1.6v1.6h-1.6zM101.3 390.4h1.6v1.6h-1.6zM101.4 392.3h1.6v1.6h-1.6zM102.6 374.1h1.6v1.6h-1.6zM102.8 380.9h1.6v1.6h-1.6zM102.2 383.5h1.6v1.6h-1.6zM102.1 385.3h1.6v1.6h-1.6zM102.9 388.8h1.6v1.6h-1.6zM102.4 391.9h1.6v1.6h-1.6zM103.5 377.4h1.6v1.6h-1.6zM103.2 380.6h1.6v1.6h-1.6zM103.8 383.1h1.6v1.6h-1.6zM103.6 384.5h1.6v1.6h-1.6zM103.9 387.5h1.6v1.6h-1.6zM103.1 388.4h1.6v1.6h-1.6zM103.4 391.6h1.6v1.6h-1.6zM104.4 377.8h1.6v1.6h-1.6zM104.3 379.8h1.6v1.6h-1.6zM104.6 384.2h1.6v1.6h-1.6zM104.1 385.2h1.6v1.6h-1.6zM104.9 389.2h1.6v1.6h-1.6zM104.7 402.8h1.6v1.6h-1.6zM105.9 377.6h1.6v1.6h-1.6zM105.1 379.7h1.6v1.6h-1.6zM105.7 381.3h1.6v1.6h-1.6zM105.4 384.1h1.6v1.6h-1.6zM105.8 387.2h1.6v1.6h-1.6zM105.2 388.9h1.6v1.6h-1.6zM105.5 398.4h1.6v1.6h-1.6zM106.1 373.9h1.6v1.6h-1.6zM106.4 380.6h1.6v1.6h-1.6zM106.3 382.9h1.6v1.6h-1.6zM106.8 384.7h1.6v1.6h-1.6zM106.9 388.0h1.6v1.6h-1.6zM106.6 391.6h1.6v1.6h-1.6zM107.9 373.4h1.6v1.6h-1.6zM107.4 380.0h1.6v1.6h-1.6zM107.8 383.3h1.6v1.6h-1.6zM107.4 383.6h1.6v1.6h-1.6zM107.6 386.7h1.6v1.6h-1.6zM107.0 391.0h1.6v1.6h-1.6zM107.2 391.9h1.6v1.6h-1.6zM108.0 373.9h1.6v1.6h-1.6zM108.2 379.8h1.6v1.6h-1.6zM108.7 382.0h1.6v1.6h-1.6zM108.8 384.9h1.6v1.6h-1.6zM108.4 389.2h1.6v1.6h-1.6zM108.5 403.7h1.6v1.6h-1.6zM109.3 376.1h1.6v1.6h-1.6zM109.7 379.2h1.6v1.6h-1.6zM109.6 382.8h1.6v1.6h-1.6zM109.5 384.6h1.6v1.6h-1.6zM109.9 386.3h1.6v1.6h-1.6zM109.2 388.9h1.6v1.6h-1.6zM109.0 392.7h1.6v1.6h-1.6zM110.9 374.3h1.6v1.6h-1.6zM110.5 378.9h1.6v1.6h-1.6zM110.8 382.5h1.6v1.6h-1.6zM110.6 387.2h1.6v1.6h-1.6zM110.1 390.5h1.6v1.6h-1.6zM110.3 393.4h1.6v1.6h-1.6zM111.2 372.4h1.6v1.6h-1.6zM111.3 378.0h1.6v1.6h-1.6zM111.9 381.8h1.6v1.6h-1.6zM111.4 383.3h1.6v1.6h-1.6zM111.7 386.3h1.6v1.6h-1.6zM111.5 387.3h1.6v1.6h-1.6zM111.8 391.0h1.6v1.6h-1.6zM111.0 395.6h1.6v1.6h-1.6zM112.3 371.5h1.6v1.6h-1.6zM112.8 380.8h1.6v1.6h-1.6zM112.2 382.5h1.6v1.6h-1.6zM112.5 385.7h1.6v1.6h-1.6zM112.1 387.2h1.6v1.6h-1.6zM112.9 389.4h1.6v1.6h-1.6zM112.6 393.6h1.6v1.6h-1.6zM113.2 373.3h1.6v1.6h-1.6zM113.9 379.0h1.6v1.6h-1.6zM113.6 382.3h1.6v1.6h-1.6zM113.9 382.9h1.6v1.6h-1.6zM113.7 385.0h1.6v1.6h-1.6zM113.1 388.4h1.6v1.6h-1.6zM113.3 390.6h1.6v1.6h-1.6zM113.5 392.7h1.6v1.6h-1.6zM114.5 376.6h1.6v1.6h-1.6zM114.4 380.2h1.6v1.6h-1.6zM114.9 381.5h1.6v1.6h-1.6zM114.2 384.6h1.6v1.6h-1.6zM114.0 387.9h1.6v1.6h-1.6zM114.7 388.8h1.6v1.6h-1.6zM114.8 394.8h1.6v1.6h-1.6zM115.1 375.5h1.6v1.6h-1.6zM115.3 377.2h1.6v1.6h-1.6zM115.7 380.9h1.6v1.6h-1.6zM115.8 382.8h1.6v1.6h-1.6zM115.6 384.7h1.6v1.6h-1.6zM115.2 386.4h1.6v1.6h-1.6zM115.3 389.3h1.6v1.6h-1.6zM115.9 391.3h1.6v1.6h-1.6zM115.4 398.7h1.6v1.6h-1.6zM116.9 375.9h1.6v1.6h-1.6zM116.3 379.7h1.6v1.6h-1.6zM116.4 380.1h1.6v1.6h-1.6zM116.5 383.4h1.6v1.6h-1.6zM116.2 384.4h1.6v1.6h-1.6zM116.8 386.4h1.6v1.6h-1.6zM116.6 388.6h1.6v1.6h-1.6zM116.0 391.1h1.6v1.6h-1.6zM116.8 397.8h1.6v1.6h-1.6zM117.8 373.1h1.6v1.6h-1.6zM117.3 379.7h1.6v1.6h-1.6zM117.9 381.5h1.6v1.6h-1.6zM117.4 383.2h1.6v1.6h-1.6zM117.6 384.6h1.6v1.6h-1.6zM117.5 387.4h1.6v1.6h-1.6zM117.2 388.0h1.6v1.6h-1.6zM117.1 392.2h1.6v1.6h-1.6zM117.8 398.0h1.6v1.6h-1.6zM118.7 376.9h1.6v1.6h-1.6zM118.3 377.5h1.6v1.6h-1.6zM118.5 381.9h1.6v1.6h-1.6zM118.4 383.2h1.6v1.6h-1.6zM118.1 384.2h1.6v1.6h-1.6zM119.0 386.5h1.6v1.6h-1.6zM118.2 388.2h1.6v1.6h-1.6zM118.6 391.2h1.6v1.6h-1.6zM118.8 398.3h1.6v1.6h-1.6zM119.5 374.4h1.6v1.6h-1.6zM119.3 378.7h1.6v1.6h-1.6zM119.1 380.3h1.6v1.6h-1.6zM120.0 383.7h1.6v1.6h-1.6zM119.6 385.6h1.6v1.6h-1.6zM119.4 385.8h1.6v1.6h-1.6zM119.7 389.3h1.6v1.6h-1.6zM119.1 392.8h1.6v1.6h-1.6zM119.9 398.8h1.6v1.6h-1.6zM120.3 373.3h1.6v1.6h-1.6zM120.8 378.4h1.6v1.6h-1.6zM120.4 380.7h1.6v1.6h-1.6zM120.2 382.9h1.6v1.6h-1.6zM120.0 384.3h1.6v1.6h-1.6zM121.0 386.1h1.6v1.6h-1.6zM120.7 388.5h1.6v1.6h-1.6zM120.6 390.4h1.6v1.6h-1.6zM120.5 394.5h1.6v1.6h-1.6zM121.3 374.8h1.6v1.6h-1.6zM121.4 377.8h1.6v1.6h-1.6zM122.0 380.5h1.6v1.6h-1.6zM121.1 382.2h1.6v1.6h-1.6zM121.6 385.6h1.6v1.6h-1.6zM121.1 387.0h1.6v1.6h-1.6zM121.8 389.8h1.6v1.6h-1.6zM121.7 390.8h1.6v1.6h-1.6zM121.5 395.9h1.6v1.6h-1.6zM122.3 374.4h1.6v1.6h-1.6zM122.5 379.2h1.6v1.6h-1.6zM122.8 381.1h1.6v1.6h-1.6zM122.7 384.9h1.6v1.6h-1.6zM122.9 385.6h1.6v1.6h-1.6zM122.6 389.0h1.6v1.6h-1.6zM122.0 391.6h1.6v1.6h-1.6zM122.2 392.6h1.6v1.6h-1.6zM123.7 376.1h1.6v1.6h-1.6zM123.6 379.7h1.6v1.6h-1.6zM123.1 381.4h1.6v1.6h-1.6zM123.3 384.0h1.6v1.6h-1.6zM123.9 385.5h1.6v1.6h-1.6zM123.2 386.7h1.6v1.6h-1.6zM123.4 388.5h1.6v1.6h-1.6zM123.9 390.5h1.6v1.6h-1.6zM123.5 398.2h1.6v1.6h-1.6zM124.6 376.0h1.6v1.6h-1.6zM124.2 379.6h1.6v1.6h-1.6zM124.7 380.9h1.6v1.6h-1.6zM124.9 383.3h1.6v1.6h-1.6zM124.8 384.8h1.6v1.6h-1.6zM124.5 387.3h1.6v1.6h-1.6zM124.2 389.8h1.6v1.6h-1.6zM124.4 391.4h1.6v1.6h-1.6zM124.1 393.1h1.6v1.6h-1.6zM125.6 374.6h1.6v1.6h-1.6zM125.3 379.6h1.6v1.6h-1.6zM125.8 381.5h1.6v1.6h-1.6zM125.7 384.1h1.6v1.6h-1.6zM125.2 385.6h1.6v1.6h-1.6zM125.9 387.8h1.6v1.6h-1.6zM125.4 388.9h1.6v1.6h-1.6zM125.5 392.3h1.6v1.6h-1.6zM125.0 405.8h1.6v1.6h-1.6zM126.1 373.5h1.6v1.6h-1.6zM126.8 379.9h1.6v1.6h-1.6zM127.0 381.3h1.6v1.6h-1.6zM126.4 382.3h1.6v1.6h-1.6zM126.8 385.9h1.6v1.6h-1.6zM126.6 387.9h1.6v1.6h-1.6zM126.5 390.2h1.6v1.6h-1.6zM126.3 390.9h1.6v1.6h-1.6zM126.1 395.7h1.6v1.6h-1.6zM127.5 377.0h1.6v1.6h-1.6zM127.2 378.4h1.6v1.6h-1.6zM127.4 381.5h1.6v1.6h-1.6zM127.8 383.4h1.6v1.6h-1.6zM128.0 386.0h1.6v1.6h-1.6zM127.0 386.4h1.6v1.6h-1.6zM127.8 388.8h1.6v1.6h-1.6zM127.3 392.1h1.6v1.6h-1.6zM127.6 393.9h1.6v1.6h-1.6zM128.4 376.4h1.6v1.6h-1.6zM128.2 377.8h1.6v1.6h-1.6zM128.6 381.7h1.6v1.6h-1.6zM128.3 384.2h1.6v1.6h-1.6zM128.5 386.1h1.6v1.6h-1.6zM128.0 386.6h1.6v1.6h-1.6zM128.8 390.1h1.6v1.6h-1.6zM129.0 392.0h1.6v1.6h-1.6zM128.8 395.4h1.6v1.6h-1.6zM129.8 377.6h1.6v1.6h-1.6zM129.1 378.0h1.6v1.6h-1.6zM129.6 381.6h1.6v1.6h-1.6zM129.4 384.2h1.6v1.6h-1.6zM129.9 385.9h1.6v1.6h-1.6zM129.6 388.7h1.6v1.6h-1.6zM129.2 390.2h1.6v1.6h-1.6zM129.4 397.9h1.6v1.6h-1.6zM130.7 375.3h1.6v1.6h-1.6zM130.9 380.2h1.6v1.6h-1.6zM130.8 381.4h1.6v1.6h-1.6zM130.6 384.4h1.6v1.6h-1.6zM130.6 386.2h1.6v1.6h-1.6zM130.4 387.0h1.6v1.6h-1.6zM130.2 390.3h1.6v1.6h-1.6zM130.1 392.6h1.6v1.6h-1.6zM130.3 396.1h1.6v1.6h-1.6zM131.6 375.3h1.6v1.6h-1.6zM131.1 378.0h1.6v1.6h-1.6zM131.8 382.2h1.6v1.6h-1.6zM131.4 384.4h1.6v1.6h-1.6zM131.5 385.8h1.6v1.6h-1.6zM131.2 386.3h1.6v1.6h-1.6zM131.7 390.1h1.6v1.6h-1.6zM132.0 391.1h1.6v1.6h-1.6zM131.2 398.8h1.6v1.6h-1.6zM132.2 374.2h1.6v1.6h-1.6zM132.6 379.3h1.6v1.6h-1.6zM132.5 380.6h1.6v1.6h-1.6zM132.7 383.3h1.6v1.6h-1.6zM132.9 386.3h1.6v1.6h-1.6zM132.0 387.7h1.6v1.6h-1.6zM132.8 389.9h1.6v1.6h-1.6zM132.4 392.1h1.6v1.6h-1.6zM132.2 394.1h1.6v1.6h-1.6zM133.1 373.8h1.6v1.6h-1.6zM133.7 379.7h1.6v1.6h-1.6zM133.9 381.5h1.6v1.6h-1.6zM133.8 383.8h1.6v1.6h-1.6zM133.5 386.2h1.6v1.6h-1.6zM133.1 388.1h1.6v1.6h-1.6zM133.3 388.7h1.6v1.6h-1.6zM133.4 391.3h1.6v1.6h-1.6zM133.6 396.6h1.6v1.6h-1.6zM134.4 374.5h1.6v1.6h-1.6zM134.7 380.4h1.6v1.6h-1.6zM134.8 382.2h1.6v1.6h-1.6zM134.0 382.8h1.6v1.6h-1.6zM135.0 384.9h1.6v1.6h-1.6zM134.6 388.4h1.6v1.6h-1.6zM134.5 389.7h1.6v1.6h-1.6zM134.3 391.8h1.6v1.6h-1.6zM134.1 394.0h1.6v1.6h-1.6zM135.1 376.6h1.6v1.6h-1.6zM136.0 380.4h1.6v1.6h-1.6zM135.6 381.1h1.6v1.6h-1.6zM135.5 383.8h1.6v1.6h-1.6zM135.2 385.8h1.6v1.6h-1.6zM135.8 388.5h1.6v1.6h-1.6zM135.4 390.0h1.6v1.6h-1.6zM135.7 391.9h1.6v1.6h-1.6zM135.1 397.7h1.6v1.6h-1.6zM136.5 376.8h1.6v1.6h-1.6zM136.7 380.8h1.6v1.6h-1.6zM136.0 381.5h1.6v1.6h-1.6zM136.9 384.5h1.6v1.6h-1.6zM136.3 385.8h1.6v1.6h-1.6zM137.0 388.2h1.6v1.6h-1.6zM136.4 390.1h1.6v1.6h-1.6zM136.7 391.6h1.6v1.6h-1.6zM136.1 396.2h1.6v1.6h-1.6zM137.8 373.7h1.6v1.6h-1.6zM137.1 382.1h1.6v1.6h-1.6zM137.1 384.2h1.6v1.6h-1.6zM137.6 385.4h1.6v1.6h-1.6zM137.7 387.0h1.6v1.6h-1.6zM137.4 390.3h1.6v1.6h-1.6zM138.0 395.9h1.6v1.6h-1.6zM138.9 378.3h1.6v1.6h-1.6zM138.3 378.9h1.6v1.6h-1.6zM138.6 381.9h1.6v1.6h-1.6zM138.1 385.0h1.6v1.6h-1.6zM138.7 387.7h1.6v1.6h-1.6zM138.1 388.7h1.6v1.6h-1.6zM138.4 392.0h1.6v1.6h-1.6zM138.9 404.8h1.6v1.6h-1.6zM139.5 378.6h1.6v1.6h-1.6zM139.0 380.6h1.6v1.6h-1.6zM139.2 384.3h1.6v1.6h-1.6zM139.6 385.2h1.6v1.6h-1.6zM139.9 388.2h1.6v1.6h-1.6zM139.3 390.9h1.6v1.6h-1.6zM139.9 395.6h1.6v1.6h-1.6zM141.0 373.5h1.6v1.6h-1.6zM140.0 380.3h1.6v1.6h-1.6zM140.2 383.8h1.6v1.6h-1.6zM140.7 385.8h1.6v1.6h-1.6zM140.9 386.2h1.6v1.6h-1.6zM140.4 389.2h1.6v1.6h-1.6zM140.6 393.1h1.6v1.6h-1.6zM140.3 396.9h1.6v1.6h-1.6zM141.6 379.0h1.6v1.6h-1.6zM141.7 380.6h1.6v1.6h-1.6zM141.9 385.7h1.6v1.6h-1.6zM141.5 387.1h1.6v1.6h-1.6zM141.1 392.2h1.6v1.6h-1.6zM141.3 394.0h1.6v1.6h-1.6zM143.0 378.7h1.6v1.6h-1.6zM142.4 381.1h1.6v1.6h-1.6zM142.1 385.8h1.6v1.6h-1.6zM142.2 387.1h1.6v1.6h-1.6zM142.6 391.4h1.6v1.6h-1.6zM142.8 398.3h1.6v1.6h-1.6zM143.7 379.0h1.6v1.6h-1.6zM143.3 380.3h1.6v1.6h-1.6zM143.1 384.6h1.6v1.6h-1.6zM143.8 387.3h1.6v1.6h-1.6zM143.3 387.6h1.6v1.6h-1.6zM143.4 391.2h1.6v1.6h-1.6zM143.9 396.3h1.6v1.6h-1.6zM144.8 379.6h1.6v1.6h-1.6zM144.0 382.1h1.6v1.6h-1.6zM144.4 384.1h1.6v1.6h-1.6zM144.9 386.5h1.6v1.6h-1.6zM144.5 389.2h1.6v1.6h-1.6zM144.2 399.5h1.6v1.6h-1.6zM145.7 379.0h1.6v1.6h-1.6zM145.0 383.4h1.6v1.6h-1.6zM145.7 385.2h1.6v1.6h-1.6zM145.2 388.9h1.6v1.6h-1.6zM145.9 389.7h1.6v1.6h-1.6zM145.3 398.0h1.6v1.6h-1.6zM146.5 373.0h1.6v1.6h-1.6zM146.3 380.3h1.6v1.6h-1.6zM147.0 384.9h1.6v1.6h-1.6zM146.2 387.1h1.6v1.6h-1.6zM146.1 389.8h1.6v1.6h-1.6zM146.7 391.7h1.6v1.6h-1.6zM146.8 393.6h1.6v1.6h-1.6zM147.1 379.1h1.6v1.6h-1.6zM147.8 382.6h1.6v1.6h-1.6zM147.4 385.5h1.6v1.6h-1.6zM147.3 387.3h1.6v1.6h-1.6zM147.5 390.0h1.6v1.6h-1.6zM147.9 398.4h1.6v1.6h-1.6zM148.1 374.0h1.6v1.6h-1.6zM148.7 380.8h1.6v1.6h-1.6zM148.5 385.9h1.6v1.6h-1.6zM149.0 386.6h1.6v1.6h-1.6zM148.4 390.3h1.6v1.6h-1.6zM148.3 396.2h1.6v1.6h-1.6zM149.1 375.6h1.6v1.6h-1.6zM149.5 380.1h1.6v1.6h-1.6zM150.0 384.8h1.6v1.6h-1.6zM149.2 385.8h1.6v1.6h-1.6zM149.6 389.2h1.6v1.6h-1.6zM149.3 391.6h1.6v1.6h-1.6zM149.8 397.0h1.6v1.6h-1.6zM150.5 378.7h1.6v1.6h-1.6zM150.1 381.0h1.6v1.6h-1.6zM150.7 382.9h1.6v1.6h-1.6zM150.9 385.4h1.6v1.6h-1.6zM150.2 388.1h1.6v1.6h-1.6zM150.4 393.8h1.6v1.6h-1.6zM150.7 396.1h1.6v1.6h-1.6zM151.5 375.8h1.6v1.6h-1.6zM151.4 379.4h1.6v1.6h-1.6zM151.8 383.1h1.6v1.6h-1.6zM151.2 384.9h1.6v1.6h-1.6zM151.3 387.1h1.6v1.6h-1.6zM151.7 390.4h1.6v1.6h-1.6zM151.1 393.0h1.6v1.6h-1.6zM152.0 397.9h1.6v1.6h-1.6zM152.1 378.4h1.6v1.6h-1.6zM152.7 382.3h1.6v1.6h-1.6zM152.8 382.3h1.6v1.6h-1.6zM152.9 386.5h1.6v1.6h-1.6zM152.1 387.2h1.6v1.6h-1.6zM152.4 389.3h1.6v1.6h-1.6zM152.3 393.4h1.6v1.6h-1.6zM152.5 395.6h1.6v1.6h-1.6zM153.8 378.1h1.6v1.6h-1.6zM153.4 381.0h1.6v1.6h-1.6zM153.7 383.3h1.6v1.6h-1.6zM153.5 384.9h1.6v1.6h-1.6zM153.1 386.9h1.6v1.6h-1.6zM154.0 389.3h1.6v1.6h-1.6zM153.2 390.5h1.6v1.6h-1.6zM153.2 393.9h1.6v1.6h-1.6zM153.6 395.7h1.6v1.6h-1.6zM154.6 377.9h1.6v1.6h-1.6zM154.5 379.0h1.6v1.6h-1.6zM154.1 383.2h1.6v1.6h-1.6zM154.3 385.0h1.6v1.6h-1.6zM154.8 387.6h1.6v1.6h-1.6zM154.9 389.6h1.6v1.6h-1.6zM154.8 390.5h1.6v1.6h-1.6zM154.1 393.6h1.6v1.6h-1.6zM154.4 395.7h1.6v1.6h-1.6zM155.3 376.3h1.6v1.6h-1.6zM155.6 381.3h1.6v1.6h-1.6zM155.0 383.4h1.6v1.6h-1.6zM155.7 385.8h1.6v1.6h-1.6zM155.5 386.3h1.6v1.6h-1.6zM155.8 389.6h1.6v1.6h-1.6zM155.2 390.2h1.6v1.6h-1.6zM155.3 393.3h1.6v1.6h-1.6zM155.9 403.8h1.6v1.6h-1.6zM156.3 377.4h1.6v1.6h-1.6zM156.7 379.9h1.6v1.6h-1.6zM156.5 383.8h1.6v1.6h-1.6zM156.8 385.0h1.6v1.6h-1.6zM156.1 387.2h1.6v1.6h-1.6zM156.5 390.0h1.6v1.6h-1.6zM157.0 391.8h1.6v1.6h-1.6zM156.2 395.1h1.6v1.6h-1.6zM157.5 378.8h1.6v1.6h-1.6zM157.9 381.6h1.6v1.6h-1.6zM157.8 383.9h1.6v1.6h-1.6zM157.6 385.8h1.6v1.6h-1.6zM157.1 387.3h1.6v1.6h-1.6zM157.7 388.1h1.6v1.6h-1.6zM157.1 390.2h1.6v1.6h-1.6zM157.3 392.4h1.6v1.6h-1.6zM157.3 399.6h1.6v1.6h-1.6zM158.5 373.4h1.6v1.6h-1.6zM158.9 381.9h1.6v1.6h-1.6zM158.7 383.7h1.6v1.6h-1.6zM158.4 385.6h1.6v1.6h-1.6zM158.6 386.7h1.6v1.6h-1.6zM158.8 389.1h1.6v1.6h-1.6zM158.3 391.5h1.6v1.6h-1.6zM158.2 392.9h1.6v1.6h-1.6zM158.1 399.3h1.6v1.6h-1.6zM159.6 377.4h1.6v1.6h-1.6zM159.0 382.6h1.6v1.6h-1.6zM159.1 384.9h1.6v1.6h-1.6zM160.0 387.3h1.6v1.6h-1.6zM159.3 388.7h1.6v1.6h-1.6zM159.5 389.6h1.6v1.6h-1.6zM159.5 393.1h1.6v1.6h-1.6zM159.8 398.0h1.6v1.6h-1.6zM160.3 378.8h1.6v1.6h-1.6zM160.2 381.9h1.6v1.6h-1.6zM160.7 382.8h1.6v1.6h-1.6zM160.9 385.2h1.6v1.6h-1.6zM160.3 387.5h1.6v1.6h-1.6zM160.9 389.7h1.6v1.6h-1.6zM160.1 390.8h1.6v1.6h-1.6zM160.5 393.7h1.6v1.6h-1.6zM160.6 399.2h1.6v1.6h-1.6zM161.5 376.3h1.6v1.6h-1.6zM161.9 381.3h1.6v1.6h-1.6zM161.6 382.7h1.6v1.6h-1.6zM161.0 385.0h1.6v1.6h-1.6zM161.8 388.3h1.6v1.6h-1.6zM162.0 389.0h1.6v1.6h-1.6zM161.4 391.2h1.6v1.6h-1.6zM161.2 393.3h1.6v1.6h-1.6zM161.2 401.4h1.6v1.6h-1.6zM162.2 379.1h1.6v1.6h-1.6zM162.5 380.5h1.6v1.6h-1.6zM162.1 383.6h1.6v1.6h-1.6zM162.7 386.4h1.6v1.6h-1.6zM162.7 387.3h1.6v1.6h-1.6zM162.9 389.3h1.6v1.6h-1.6zM162.8 391.4h1.6v1.6h-1.6zM162.4 393.4h1.6v1.6h-1.6zM162.3 402.9h1.6v1.6h-1.6zM163.4 377.6h1.6v1.6h-1.6zM163.0 381.8h1.6v1.6h-1.6zM163.7 384.6h1.6v1.6h-1.6zM163.1 385.6h1.6v1.6h-1.6zM164.0 388.9h1.6v1.6h-1.6zM163.8 391.8h1.6v1.6h-1.6zM163.3 392.6h1.6v1.6h-1.6zM163.5 397.2h1.6v1.6h-1.6zM164.7 374.9h1.6v1.6h-1.6zM164.9 380.6h1.6v1.6h-1.6zM164.7 383.9h1.6v1.6h-1.6zM164.1 386.6h1.6v1.6h-1.6zM164.4 387.9h1.6v1.6h-1.6zM164.5 388.9h1.6v1.6h-1.6zM164.9 391.8h1.6v1.6h-1.6zM164.1 396.2h1.6v1.6h-1.6zM164.2 397.4h1.6v1.6h-1.6zM165.0 376.5h1.6v1.6h-1.6zM165.2 380.0h1.6v1.6h-1.6zM165.5 383.5h1.6v1.6h-1.6zM165.3 386.4h1.6v1.6h-1.6zM165.7 388.5h1.6v1.6h-1.6zM165.9 389.9h1.6v1.6h-1.6zM165.3 393.2h1.6v1.6h-1.6zM165.9 393.5h1.6v1.6h-1.6zM165.6 400.2h1.6v1.6h-1.6zM166.5 380.4h1.6v1.6h-1.6zM166.8 382.5h1.6v1.6h-1.6zM166.2 386.0h1.6v1.6h-1.6zM166.3 386.6h1.6v1.6h-1.6zM166.4 388.4h1.6v1.6h-1.6zM166.6 391.7h1.6v1.6h-1.6zM166.9 393.2h1.6v1.6h-1.6zM166.1 398.6h1.6v1.6h-1.6zM167.5 379.6h1.6v1.6h-1.6zM167.6 382.4h1.6v1.6h-1.6zM167.9 384.1h1.6v1.6h-1.6zM167.9 385.6h1.6v1.6h-1.6zM167.4 387.5h1.6v1.6h-1.6zM167.1 391.2h1.6v1.6h-1.6zM167.2 391.6h1.6v1.6h-1.6zM167.7 393.8h1.6v1.6h-1.6zM167.3 402.0h1.6v1.6h-1.6zM168.6 375.8h1.6v1.6h-1.6zM168.2 381.6h1.6v1.6h-1.6zM168.2 385.2h1.6v1.6h-1.6zM168.1 385.6h1.6v1.6h-1.6zM168.4 388.2h1.6v1.6h-1.6zM168.9 389.9h1.6v1.6h-1.6zM168.5 392.5h1.6v1.6h-1.6zM168.9 395.3h1.6v1.6h-1.6zM168.8 398.2h1.6v1.6h-1.6zM169.8 378.8h1.6v1.6h-1.6zM169.9 380.8h1.6v1.6h-1.6zM169.4 384.5h1.6v1.6h-1.6zM169.8 386.7h1.6v1.6h-1.6zM169.0 387.7h1.6v1.6h-1.6zM169.6 391.6h1.6v1.6h-1.6zM169.1 393.7h1.6v1.6h-1.6zM169.3 397.1h1.6v1.6h-1.6zM169.5 398.8h1.6v1.6h-1.6zM170.9 378.1h1.6v1.6h-1.6zM170.6 383.0h1.6v1.6h-1.6zM170.7 385.4h1.6v1.6h-1.6zM170.9 387.1h1.6v1.6h-1.6zM170.1 390.3h1.6v1.6h-1.6zM170.3 392.5h1.6v1.6h-1.6zM170.2 393.8h1.6v1.6h-1.6zM170.5 400.0h1.6v1.6h-1.6zM171.7 380.1h1.6v1.6h-1.6zM171.5 381.0h1.6v1.6h-1.6zM171.8 383.8h1.6v1.6h-1.6zM171.0 387.4h1.6v1.6h-1.6zM171.3 388.4h1.6v1.6h-1.6zM171.8 390.7h1.6v1.6h-1.6zM171.9 393.2h1.6v1.6h-1.6zM171.2 395.6h1.6v1.6h-1.6zM171.3 401.9h1.6v1.6h-1.6zM172.2 377.4h1.6v1.6h-1.6zM172.7 382.5h1.6v1.6h-1.6zM172.6 385.8h1.6v1.6h-1.6zM172.4 386.4h1.6v1.6h-1.6zM172.1 389.0h1.6v1.6h-1.6zM173.0 391.2h1.6v1.6h-1.6zM172.8 392.7h1.6v1.6h-1.6zM172.1 396.5h1.6v1.6h-1.6zM172.5 402.3h1.6v1.6h-1.6zM173.8 377.4h1.6v1.6h-1.6zM173.3 383.6h1.6v1.6h-1.6zM173.0 386.3h1.6v1.6h-1.6zM174.0 387.6h1.6v1.6h-1.6zM173.4 390.1h1.6v1.6h-1.6zM173.6 391.7h1.6v1.6h-1.6zM173.2 396.1h1.6v1.6h-1.6zM173.7 403.2h1.6v1.6h-1.6zM174.6 379.2h1.6v1.6h-1.6zM174.3 381.2h1.6v1.6h-1.6zM174.8 385.2h1.6v1.6h-1.6zM175.0 387.3h1.6v1.6h-1.6zM174.0 388.7h1.6v1.6h-1.6zM174.8 391.9h1.6v1.6h-1.6zM174.2 392.8h1.6v1.6h-1.6zM174.3 395.3h1.6v1.6h-1.6zM174.5 398.5h1.6v1.6h-1.6zM175.9 379.3h1.6v1.6h-1.6zM175.6 382.7h1.6v1.6h-1.6zM175.7 385.5h1.6v1.6h-1.6zM175.0 388.4h1.6v1.6h-1.6zM175.4 389.2h1.6v1.6h-1.6zM175.9 392.0h1.6v1.6h-1.6zM175.3 393.5h1.6v1.6h-1.6zM175.2 397.6h1.6v1.6h-1.6zM175.5 400.1h1.6v1.6h-1.6zM176.1 379.6h1.6v1.6h-1.6zM177.0 382.5h1.6v1.6h-1.6zM176.8 386.7h1.6v1.6h-1.6zM176.5 388.6h1.6v1.6h-1.6zM176.3 390.7h1.6v1.6h-1.6zM176.1 393.3h1.6v1.6h-1.6zM176.5 397.7h1.6v1.6h-1.6zM176.7 403.6h1.6v1.6h-1.6zM177.4 381.0h1.6v1.6h-1.6zM177.5 382.8h1.6v1.6h-1.6zM177.9 386.3h1.6v1.6h-1.6zM177.9 389.0h1.6v1.6h-1.6zM177.2 390.2h1.6v1.6h-1.6zM177.7 394.7h1.6v1.6h-1.6zM177.1 396.5h1.6v1.6h-1.6zM177.3 399.4h1.6v1.6h-1.6zM178.1 382.7h1.6v1.6h-1.6zM178.6 384.1h1.6v1.6h-1.6zM178.3 387.8h1.6v1.6h-1.6zM178.8 391.9h1.6v1.6h-1.6zM178.9 395.7h1.6v1.6h-1.6zM178.5 400.9h1.6v1.6h-1.6zM179.1 383.7h1.6v1.6h-1.6zM179.4 385.1h1.6v1.6h-1.6zM179.7 388.2h1.6v1.6h-1.6zM179.7 391.5h1.6v1.6h-1.6zM179.2 396.5h1.6v1.6h-1.6zM179.8 403.1h1.6v1.6h-1.6zM180.2 383.2h1.6v1.6h-1.6zM180.6 386.9h1.6v1.6h-1.6zM180.5 392.0h1.6v1.6h-1.6zM180.0 394.4h1.6v1.6h-1.6zM180.8 404.7h1.6v1.6h-1.6zM181.9 384.2h1.6v1.6h-1.6zM181.8 386.0h1.6v1.6h-1.6zM181.3 391.5h1.6v1.6h-1.6zM181.1 392.2h1.6v1.6h-1.6zM181.2 397.9h1.6v1.6h-1.6zM181.7 404.2h1.6v1.6h-1.6zM182.1 384.5h1.6v1.6h-1.6zM182.3 388.3h1.6v1.6h-1.6zM182.3 389.1h1.6v1.6h-1.6zM182.8 394.2h1.6v1.6h-1.6zM182.4 396.0h1.6v1.6h-1.6zM182.9 398.9h1.6v1.6h-1.6zM182.6 403.7h1.6v1.6h-1.6zM183.0 382.2h1.6v1.6h-1.6zM183.6 387.6h1.6v1.6h-1.6zM183.7 391.7h1.6v1.6h-1.6zM183.8 392.1h1.6v1.6h-1.6zM183.4 395.3h1.6v1.6h-1.6zM183.1 397.7h1.6v1.6h-1.6zM183.5 398.9h1.6v1.6h-1.6zM184.0 412.2h1.6v1.6h-1.6zM184.4 384.1h1.6v1.6h-1.6zM184.2 389.2h1.6v1.6h-1.6zM184.0 390.5h1.6v1.6h-1.6zM184.7 394.5h1.6v1.6h-1.6zM184.7 397.7h1.6v1.6h-1.6zM184.9 399.5h1.6v1.6h-1.6zM184.4 402.9h1.6v1.6h-1.6zM185.8 381.3h1.6v1.6h-1.6zM186.0 388.4h1.6v1.6h-1.6zM185.7 393.1h1.6v1.6h-1.6zM185.2 395.1h1.6v1.6h-1.6zM185.3 397.3h1.6v1.6h-1.6zM185.6 398.9h1.6v1.6h-1.6zM185.4 400.6h1.6v1.6h-1.6zM185.1 405.5h1.6v1.6h-1.6zM186.3 388.9h1.6v1.6h-1.6zM186.7 392.3h1.6v1.6h-1.6zM186.3 392.7h1.6v1.6h-1.6zM186.8 395.7h1.6v1.6h-1.6zM186.1 399.7h1.6v1.6h-1.6zM186.9 402.0h1.6v1.6h-1.6zM186.5 409.5h1.6v1.6h-1.6zM188.0 386.4h1.6v1.6h-1.6zM187.8 390.0h1.6v1.6h-1.6zM187.3 394.3h1.6v1.6h-1.6zM187.2 394.8h1.6v1.6h-1.6zM187.6 399.1h1.6v1.6h-1.6zM187.0 399.5h1.6v1.6h-1.6zM187.4 404.6h1.6v1.6h-1.6zM187.7 405.1h1.6v1.6h-1.6zM188.1 387.7h1.6v1.6h-1.6zM188.9 391.5h1.6v1.6h-1.6zM188.8 394.6h1.6v1.6h-1.6zM188.7 397.5h1.6v1.6h-1.6zM188.3 399.8h1.6v1.6h-1.6zM188.2 404.4h1.6v1.6h-1.6zM188.5 407.0h1.6v1.6h-1.6zM189.8 390.1h1.6v1.6h-1.6zM189.5 392.9h1.6v1.6h-1.6zM189.2 394.6h1.6v1.6h-1.6zM189.6 397.8h1.6v1.6h-1.6zM189.3 400.5h1.6v1.6h-1.6zM189.7 402.6h1.6v1.6h-1.6zM189.0 403.9h1.6v1.6h-1.6zM190.0 410.6h1.6v1.6h-1.6zM190.3 388.9h1.6v1.6h-1.6zM190.5 395.5h1.6v1.6h-1.6zM190.8 396.7h1.6v1.6h-1.6zM190.1 398.9h1.6v1.6h-1.6zM191.0 401.4h1.6v1.6h-1.6zM190.6 406.2h1.6v1.6h-1.6zM190.4 408.6h1.6v1.6h-1.6zM192.0 391.0h1.6v1.6h-1.6zM191.8 394.9h1.6v1.6h-1.6zM191.6 398.2h1.6v1.6h-1.6zM191.1 399.6h1.6v1.6h-1.6zM191.4 403.8h1.6v1.6h-1.6zM191.3 404.1h1.6v1.6h-1.6zM191.5 411.2h1.6v1.6h-1.6zM192.5 391.6h1.6v1.6h-1.6zM192.2 396.7h1.6v1.6h-1.6zM192.9 398.5h1.6v1.6h-1.6zM192.3 400.3h1.6v1.6h-1.6zM192.8 404.7h1.6v1.6h-1.6zM192.6 407.6h1.6v1.6h-1.6zM192.1 409.9h1.6v1.6h-1.6zM193.3 391.7h1.6v1.6h-1.6zM193.5 397.0h1.6v1.6h-1.6zM193.0 401.2h1.6v1.6h-1.6zM193.9 403.4h1.6v1.6h-1.6zM193.7 406.9h1.6v1.6h-1.6zM193.7 409.2h1.6v1.6h-1.6zM194.6 393.3h1.6v1.6h-1.6zM194.8 400.0h1.6v1.6h-1.6zM195.0 401.4h1.6v1.6h-1.6zM194.1 403.9h1.6v1.6h-1.6zM194.3 406.5h1.6v1.6h-1.6zM194.4 410.3h1.6v1.6h-1.6zM195.4 392.2h1.6v1.6h-1.6zM195.9 400.6h1.6v1.6h-1.6zM195.8 403.6h1.6v1.6h-1.6zM195.5 404.6h1.6v1.6h-1.6zM195.2 409.1h1.6v1.6h-1.6zM195.1 413.5h1.6v1.6h-1.6zM196.1 390.6h1.6v1.6h-1.6zM196.3 399.7h1.6v1.6h-1.6zM196.6 404.7h1.6v1.6h-1.6zM196.9 406.4h1.6v1.6h-1.6zM196.5 408.5h1.6v1.6h-1.6zM196.8 412.7h1.6v1.6h-1.6zM197.3 398.1h1.6v1.6h-1.6zM197.1 401.6h1.6v1.6h-1.6zM197.8 407.3h1.6v1.6h-1.6zM197.9 410.1h1.6v1.6h-1.6zM197.5 426.0h1.6v1.6h-1.6zM198.4 399.6h1.6v1.6h-1.6zM198.2 402.6h1.6v1.6h-1.6zM198.9 405.7h1.6v1.6h-1.6zM198.7 410.5h1.6v1.6h-1.6zM198.4 417.4h1.6v1.6h-1.6zM199.4 394.5h1.6v1.6h-1.6zM200.0 407.1h1.6v1.6h-1.6zM199.6 409.4h1.6v1.6h-1.6zM199.1 412.3h1.6v1.6h-1.6zM200.3 399.2h1.6v1.6h-1.6zM200.9 406.2h1.6v1.6h-1.6zM200.1 409.5h1.6v1.6h-1.6zM200.6 411.4h1.6v1.6h-1.6zM200.8 415.6h1.6v1.6h-1.6zM201.7 399.8h1.6v1.6h-1.6zM201.9 404.8h1.6v1.6h-1.6zM201.1 409.6h1.6v1.6h-1.6zM201.5 417.3h1.6v1.6h-1.6zM203.0 399.1h1.6v1.6h-1.6zM202.0 408.4h1.6v1.6h-1.6zM202.6 410.7h1.6v1.6h-1.6zM202.4 416.0h1.6v1.6h-1.6zM203.4 400.7h1.6v1.6h-1.6zM203.8 407.5h1.6v1.6h-1.6zM203.6 414.4h1.6v1.6h-1.6zM203.2 417.4h1.6v1.6h-1.6zM204.6 401.7h1.6v1.6h-1.6zM204.9 410.1h1.6v1.6h-1.6zM204.5 416.0h1.6v1.6h-1.6zM204.0 417.7h1.6v1.6h-1.6zM205.4 405.1h1.6v1.6h-1.6zM206.0 410.0h1.6v1.6h-1.6zM205.6 417.2h1.6v1.6h-1.6zM205.1 419.9h1.6v1.6h-1.6zM206.4 407.2h1.6v1.6h-1.6zM206.2 408.2h1.6v1.6h-1.6zM206.7 415.5h1.6v1.6h-1.6zM206.8 422.3h1.6v1.6h-1.6zM207.3 407.0h1.6v1.6h-1.6zM207.6 409.9h1.6v1.6h-1.6zM207.1 414.3h1.6v1.6h-1.6zM207.9 420.0h1.6v1.6h-1.6zM208.6 404.7h1.6v1.6h-1.6zM208.8 415.9h1.6v1.6h-1.6zM208.3 423.2h1.6v1.6h-1.6zM209.0 406.2h1.6v1.6h-1.6zM209.9 414.4h1.6v1.6h-1.6zM209.6 417.7h1.6v1.6h-1.6zM209.5 429.4h1.6v1.6h-1.6zM210.3 412.2h1.6v1.6h-1.6zM210.7 415.7h1.6v1.6h-1.6zM210.4 434.7h1.6v1.6h-1.6zM211.4 402.8h1.6v1.6h-1.6zM211.0 416.8h1.6v1.6h-1.6zM211.5 418.6h1.6v1.6h-1.6zM211.8 431.8h1.6v1.6h-1.6zM212.5 410.3h1.6v1.6h-1.6zM212.3 419.8h1.6v1.6h-1.6zM212.9 436.4h1.6v1.6h-1.6zM213.7 414.7h1.6v1.6h-1.6zM213.2 416.4h1.6v1.6h-1.6zM213.8 423.7h1.6v1.6h-1.6zM213.4 428.2h1.6v1.6h-1.6zM214.8 409.1h1.6v1.6h-1.6zM214.2 422.4h1.6v1.6h-1.6zM214.6 425.7h1.6v1.6h-1.6zM215.1 416.6h1.6v1.6h-1.6zM215.7 419.6h1.6v1.6h-1.6zM216.0 426.8h1.6v1.6h-1.6zM216.3 416.2h1.6v1.6h-1.6zM216.7 425.0h1.6v1.6h-1.6zM216.6 431.4h1.6v1.6h-1.6zM217.3 416.1h1.6v1.6h-1.6zM217.7 423.8h1.6v1.6h-1.6zM217.2 425.1h1.6v1.6h-1.6zM218.0 440.9h1.6v1.6h-1.6zM218.0 411.9h1.6v1.6h-1.6zM218.9 428.9h1.6v1.6h-1.6zM218.4 432.2h1.6v1.6h-1.6zM219.5 419.1h1.6v1.6h-1.6zM219.7 424.9h1.6v1.6h-1.6zM219.3 436.0h1.6v1.6h-1.6zM220.8 421.2h1.6v1.6h-1.6zM220.3 425.3h1.6v1.6h-1.6zM220.3 431.2h1.6v1.6h-1.6zM221.4 416.5h1.6v1.6h-1.6zM221.1 425.9h1.6v1.6h-1.6zM221.9 435.5h1.6v1.6h-1.6zM222.0 423.6h1.6v1.6h-1.6zM222.5 428.4h1.6v1.6h-1.6zM222.9 445.3h1.6v1.6h-1.6zM223.6 427.1h1.6v1.6h-1.6zM223.3 431.6h1.6v1.6h-1.6zM223.7 440.6h1.6v1.6h-1.6zM224.3 426.8h1.6v1.6h-1.6zM224.4 431.8h1.6v1.6h-1.6zM225.0 447.6h1.6v1.6h-1.6zM225.7 419.2h1.6v1.6h-1.6zM225.8 432.7h1.6v1.6h-1.6zM225.1 458.0h1.6v1.6h-1.6zM226.4 429.3h1.6v1.6h-1.6zM226.0 432.1h1.6v1.6h-1.6zM226.9 446.0h1.6v1.6h-1.6zM227.7 417.3h1.6v1.6h-1.6zM227.6 434.7h1.6v1.6h-1.6zM227.3 445.8h1.6v1.6h-1.6zM228.6 428.4h1.6v1.6h-1.6zM228.9 439.0h1.6v1.6h-1.6zM228.1 443.2h1.6v1.6h-1.6zM229.6 432.8h1.6v1.6h-1.6zM229.2 436.7h1.6v1.6h-1.6zM230.0 454.2h1.6v1.6h-1.6zM230.8 433.4h1.6v1.6h-1.6zM230.3 441.7h1.6v1.6h-1.6zM230.5 450.2h1.6v1.6h-1.6zM231.9 436.9h1.6v1.6h-1.6zM231.5 439.5h1.6v1.6h-1.6zM231.1 445.5h1.6v1.6h-1.6zM232.3 436.3h1.6v1.6h-1.6zM232.5 442.0h1.6v1.6h-1.6zM232.7 449.2h1.6v1.6h-1.6zM233.5 436.3h1.6v1.6h-1.6zM233.2 445.2h1.6v1.6h-1.6zM233.9 456.3h1.6v1.6h-1.6zM235.0 440.1h1.6v1.6h-1.6zM234.2 446.8h1.6v1.6h-1.6zM234.6 452.0h1.6v1.6h-1.6zM235.4 425.4h1.6v1.6h-1.6zM235.8 450.4h1.6v1.6h-1.6zM235.2 454.6h1.6v1.6h-1.6zM236.8 435.4h1.6v1.6h-1.6zM236.1 444.4h1.6v1.6h-1.6zM236.6 453.0h1.6v1.6h-1.6zM237.5 429.5h1.6v1.6h-1.6zM238.0 451.4h1.6v1.6h-1.6zM238.6 441.7h1.6v1.6h-1.6zM238.0 450.2h1.6v1.6h-1.6zM239.0 466.0h1.6v1.6h-1.6zM239.8 439.9h1.6v1.6h-1.6zM239.0 445.3h1.6v1.6h-1.6zM239.5 466.4h1.6v1.6h-1.6zM240.0 442.5h1.6v1.6h-1.6zM240.7 448.6h1.6v1.6h-1.6zM240.8 464.4h1.6v1.6h-1.6zM241.3 432.4h1.6v1.6h-1.6zM241.6 452.8h1.6v1.6h-1.6zM241.8 453.8h1.6v1.6h-1.6zM242.3 428.9h1.6v1.6h-1.6zM242.9 449.8h1.6v1.6h-1.6zM242.2 456.7h1.6v1.6h-1.6zM243.7 443.8h1.6v1.6h-1.6zM243.4 455.6h1.6v1.6h-1.6zM245.0 436.6h1.6v1.6h-1.6zM244.2 449.3h1.6v1.6h-1.6zM244.4 450.5h1.6v1.6h-1.6zM245.2 433.8h1.6v1.6h-1.6zM245.4 440.9h1.6v1.6h-1.6zM245.8 461.2h1.6v1.6h-1.6zM246.1 428.6h1.6v1.6h-1.6zM246.6 437.9h1.6v1.6h-1.6zM246.9 450.7h1.6v1.6h-1.6zM247.8 419.0h1.6v1.6h-1.6zM247.1 441.0h1.6v1.6h-1.6zM247.6 454.6h1.6v1.6h-1.6zM248.8 426.6h1.6v1.6h-1.6zM248.2 434.6h1.6v1.6h-1.6zM248.5 443.2h1.6v1.6h-1.6zM249.7 419.2h1.6v1.6h-1.6zM249.5 437.5h1.6v1.6h-1.6zM249.2 444.7h1.6v1.6h-1.6zM250.4 418.5h1.6v1.6h-1.6zM250.8 432.3h1.6v1.6h-1.6zM250.1 447.4h1.6v1.6h-1.6zM251.4 410.0h1.6v1.6h-1.6zM251.0 429.3h1.6v1.6h-1.6zM251.7 435.3h1.6v1.6h-1.6zM252.2 417.2h1.6v1.6h-1.6zM252.7 429.8h1.6v1.6h-1.6zM252.5 440.3h1.6v1.6h-1.6zM253.2 418.0h1.6v1.6h-1.6zM253.5 418.8h1.6v1.6h-1.6zM253.9 430.7h1.6v1.6h-1.6zM254.7 411.7h1.6v1.6h-1.6zM254.2 421.4h1.6v1.6h-1.6zM254.6 435.7h1.6v1.6h-1.6zM255.8 403.8h1.6v1.6h-1.6zM255.5 414.6h1.6v1.6h-1.6zM255.2 446.9h1.6v1.6h-1.6zM256.9 401.8h1.6v1.6h-1.6zM256.2 415.9h1.6v1.6h-1.6zM256.5 431.8h1.6v1.6h-1.6zM257.0 392.6h1.6v1.6h-1.6zM257.4 416.8h1.6v1.6h-1.6zM257.7 428.3h1.6v1.6h-1.6zM259.0 392.3h1.6v1.6h-1.6zM258.0 419.4h1.6v1.6h-1.6zM258.6 438.7h1.6v1.6h-1.6zM259.4 404.2h1.6v1.6h-1.6zM259.9 405.8h1.6v1.6h-1.6zM259.0 419.8h1.6v1.6h-1.6zM260.2 383.9h1.6v1.6h-1.6zM260.5 399.8h1.6v1.6h-1.6zM260.8 408.8h1.6v1.6h-1.6zM260.4 434.8h1.6v1.6h-1.6zM261.8 395.7h1.6v1.6h-1.6zM261.3 408.3h1.6v1.6h-1.6zM261.6 413.8h1.6v1.6h-1.6zM262.2 382.3h1.6v1.6h-1.6zM262.5 401.0h1.6v1.6h-1.6zM263.0 410.5h1.6v1.6h-1.6zM263.8 383.0h1.6v1.6h-1.6zM263.6 399.7h1.6v1.6h-1.6zM263.4 402.4h1.6v1.6h-1.6zM263.2 413.0h1.6v1.6h-1.6zM264.2 377.4h1.6v1.6h-1.6zM264.5 400.8h1.6v1.6h-1.6zM265.0 412.2h1.6v1.6h-1.6zM265.3 380.5h1.6v1.6h-1.6zM265.6 391.4h1.6v1.6h-1.6zM265.9 398.2h1.6v1.6h-1.6zM265.1 425.9h1.6v1.6h-1.6zM266.4 391.1h1.6v1.6h-1.6zM267.0 393.6h1.6v1.6h-1.6zM266.1 418.2h1.6v1.6h-1.6zM267.4 386.6h1.6v1.6h-1.6zM267.8 390.2h1.6v1.6h-1.6zM267.7 397.1h1.6v1.6h-1.6zM267.1 404.0h1.6v1.6h-1.6zM268.0 375.1h1.6v1.6h-1.6zM268.7 388.4h1.6v1.6h-1.6zM268.6 397.8h1.6v1.6h-1.6zM269.3 386.2h1.6v1.6h-1.6zM269.5 388.7h1.6v1.6h-1.6zM269.9 400.4h1.6v1.6h-1.6zM270.5 374.9h1.6v1.6h-1.6zM270.9 388.7h1.6v1.6h-1.6zM270.2 393.8h1.6v1.6h-1.6zM270.7 396.9h1.6v1.6h-1.6zM271.2 375.1h1.6v1.6h-1.6zM271.5 391.8h1.6v1.6h-1.6zM271.9 393.5h1.6v1.6h-1.6zM272.9 381.8h1.6v1.6h-1.6zM272.5 384.0h1.6v1.6h-1.6zM272.6 392.3h1.6v1.6h-1.6zM272.0 402.7h1.6v1.6h-1.6zM273.4 378.6h1.6v1.6h-1.6zM274.0 383.6h1.6v1.6h-1.6zM273.3 392.5h1.6v1.6h-1.6zM274.0 380.9h1.6v1.6h-1.6zM274.8 383.1h1.6v1.6h-1.6zM274.5 390.8h1.6v1.6h-1.6zM275.8 379.0h1.6v1.6h-1.6zM275.1 382.7h1.6v1.6h-1.6zM275.4 389.0h1.6v1.6h-1.6zM275.5 396.9h1.6v1.6h-1.6zM276.9 381.3h1.6v1.6h-1.6zM276.6 381.8h1.6v1.6h-1.6zM276.0 390.7h1.6v1.6h-1.6zM277.7 372.9h1.6v1.6h-1.6zM277.4 383.8h1.6v1.6h-1.6zM277.8 384.4h1.6v1.6h-1.6zM277.1 390.8h1.6v1.6h-1.6zM278.7 379.0h1.6v1.6h-1.6zM278.0 383.7h1.6v1.6h-1.6zM278.4 387.9h1.6v1.6h-1.6zM279.6 371.9h1.6v1.6h-1.6zM279.3 383.2h1.6v1.6h-1.6zM279.8 385.8h1.6v1.6h-1.6zM279.0 394.2h1.6v1.6h-1.6zM280.6 371.8h1.6v1.6h-1.6zM280.0 380.1h1.6v1.6h-1.6zM280.8 386.4h1.6v1.6h-1.6zM280.5 399.3h1.6v1.6h-1.6zM281.0 377.2h1.6v1.6h-1.6zM281.8 378.5h1.6v1.6h-1.6zM281.4 384.3h1.6v1.6h-1.6zM281.6 389.8h1.6v1.6h-1.6zM282.7 377.0h1.6v1.6h-1.6zM282.3 382.4h1.6v1.6h-1.6zM283.0 384.1h1.6v1.6h-1.6zM282.1 390.2h1.6v1.6h-1.6zM283.4 376.8h1.6v1.6h-1.6zM283.1 381.0h1.6v1.6h-1.6zM283.8 386.2h1.6v1.6h-1.6zM283.7 391.9h1.6v1.6h-1.6zM284.3 377.0h1.6v1.6h-1.6zM284.5 381.4h1.6v1.6h-1.6zM284.2 384.3h1.6v1.6h-1.6zM284.9 386.4h1.6v1.6h-1.6zM285.8 371.0h1.6v1.6h-1.6zM285.4 376.6h1.6v1.6h-1.6zM285.5 381.7h1.6v1.6h-1.6zM285.7 384.4h1.6v1.6h-1.6zM285.1 388.3h1.6v1.6h-1.6zM286.7 375.4h1.6v1.6h-1.6zM286.8 379.9h1.6v1.6h-1.6zM286.3 382.5h1.6v1.6h-1.6zM286.1 388.7h1.6v1.6h-1.6zM287.6 372.4h1.6v1.6h-1.6zM287.2 375.9h1.6v1.6h-1.6zM287.7 381.4h1.6v1.6h-1.6zM287.8 384.0h1.6v1.6h-1.6zM287.2 389.6h1.6v1.6h-1.6zM288.5 373.5h1.6v1.6h-1.6zM288.2 380.4h1.6v1.6h-1.6zM288.4 383.4h1.6v1.6h-1.6zM288.8 388.0h1.6v1.6h-1.6zM289.2 374.1h1.6v1.6h-1.6zM289.8 376.9h1.6v1.6h-1.6zM289.3 381.7h1.6v1.6h-1.6zM289.6 382.3h1.6v1.6h-1.6zM289.5 393.0h1.6v1.6h-1.6zM290.1 368.6h1.6v1.6h-1.6zM290.9 376.2h1.6v1.6h-1.6zM290.3 379.7h1.6v1.6h-1.6zM290.6 381.9h1.6v1.6h-1.6zM290.6 386.2h1.6v1.6h-1.6zM291.0 373.5h1.6v1.6h-1.6zM291.7 378.0h1.6v1.6h-1.6zM291.3 379.1h1.6v1.6h-1.6zM291.4 382.6h1.6v1.6h-1.6zM292.0 385.3h1.6v1.6h-1.6zM292.5 374.2h1.6v1.6h-1.6zM292.1 375.6h1.6v1.6h-1.6zM292.8 379.1h1.6v1.6h-1.6zM292.7 383.1h1.6v1.6h-1.6zM292.4 394.0h1.6v1.6h-1.6zM293.2 374.3h1.6v1.6h-1.6zM293.9 375.6h1.6v1.6h-1.6zM293.7 379.2h1.6v1.6h-1.6zM293.3 384.2h1.6v1.6h-1.6zM293.6 393.0h1.6v1.6h-1.6zM294.5 373.9h1.6v1.6h-1.6zM295.0 375.2h1.6v1.6h-1.6zM294.3 378.9h1.6v1.6h-1.6zM294.0 381.4h1.6v1.6h-1.6zM294.8 386.4h1.6v1.6h-1.6zM295.1 373.9h1.6v1.6h-1.6zM295.5 376.1h1.6v1.6h-1.6zM295.8 380.3h1.6v1.6h-1.6zM295.7 382.4h1.6v1.6h-1.6zM295.3 388.8h1.6v1.6h-1.6zM296.2 366.3h1.6v1.6h-1.6zM296.8 376.3h1.6v1.6h-1.6zM296.5 378.6h1.6v1.6h-1.6zM297.0 381.6h1.6v1.6h-1.6zM296.0 387.0h1.6v1.6h-1.6zM297.8 367.5h1.6v1.6h-1.6zM297.6 374.7h1.6v1.6h-1.6zM297.5 378.1h1.6v1.6h-1.6zM297.8 380.9h1.6v1.6h-1.6zM297.2 383.9h1.6v1.6h-1.6zM297.1 395.0h1.6v1.6h-1.6zM298.3 372.9h1.6v1.6h-1.6zM298.5 375.8h1.6v1.6h-1.6zM298.2 378.9h1.6v1.6h-1.6zM298.8 381.4h1.6v1.6h-1.6zM298.8 385.2h1.6v1.6h-1.6zM299.2 371.7h1.6v1.6h-1.6zM299.6 377.4h1.6v1.6h-1.6zM299.9 380.5h1.6v1.6h-1.6zM299.3 384.2h1.6v1.6h-1.6zM299.4 389.7h1.6v1.6h-1.6zM300.2 373.6h1.6v1.6h-1.6zM300.8 374.4h1.6v1.6h-1.6zM300.2 378.9h1.6v1.6h-1.6zM300.6 379.6h1.6v1.6h-1.6zM300.9 381.9h1.6v1.6h-1.6zM300.3 386.7h1.6v1.6h-1.6zM301.1 372.4h1.6v1.6h-1.6zM301.7 375.1h1.6v1.6h-1.6zM301.8 380.1h1.6v1.6h-1.6zM301.5 384.1h1.6v1.6h-1.6zM301.4 390.7h1.6v1.6h-1.6zM302.6 372.7h1.6v1.6h-1.6zM302.3 376.6h1.6v1.6h-1.6zM302.9 378.3h1.6v1.6h-1.6zM302.7 380.1h1.6v1.6h-1.6zM302.0 383.3h1.6v1.6h-1.6zM302.2 386.6h1.6v1.6h-1.6zM303.5 369.0h1.6v1.6h-1.6zM303.2 376.5h1.6v1.6h-1.6zM303.9 379.0h1.6v1.6h-1.6zM303.7 379.4h1.6v1.6h-1.6zM303.0 383.5h1.6v1.6h-1.6zM303.8 386.2h1.6v1.6h-1.6zM304.9 372.7h1.6v1.6h-1.6zM304.3 377.3h1.6v1.6h-1.6zM304.2 377.6h1.6v1.6h-1.6zM304.7 381.2h1.6v1.6h-1.6zM304.5 384.3h1.6v1.6h-1.6zM305.8 368.2h1.6v1.6h-1.6zM306.0 374.5h1.6v1.6h-1.6zM305.2 376.6h1.6v1.6h-1.6zM305.4 379.9h1.6v1.6h-1.6zM305.6 382.6h1.6v1.6h-1.6zM305.3 396.0h1.6v1.6h-1.6zM306.0 372.2h1.6v1.6h-1.6zM306.7 374.6h1.6v1.6h-1.6zM306.2 377.5h1.6v1.6h-1.6zM306.4 380.5h1.6v1.6h-1.6zM306.5 383.5h1.6v1.6h-1.6zM307.0 385.7h1.6v1.6h-1.6zM307.4 370.1h1.6v1.6h-1.6zM307.6 376.3h1.6v1.6h-1.6zM308.0 378.3h1.6v1.6h-1.6zM307.1 381.1h1.6v1.6h-1.6zM307.4 387.6h1.6v1.6h-1.6zM308.4 369.9h1.6v1.6h-1.6zM308.1 374.0h1.6v1.6h-1.6zM308.2 376.8h1.6v1.6h-1.6zM308.9 380.7h1.6v1.6h-1.6zM308.8 382.6h1.6v1.6h-1.6zM308.6 397.6h1.6v1.6h-1.6zM309.9 372.3h1.6v1.6h-1.6zM309.0 374.8h1.6v1.6h-1.6zM309.7 377.6h1.6v1.6h-1.6zM309.5 381.3h1.6v1.6h-1.6zM309.6 381.7h1.6v1.6h-1.6zM309.2 386.4h1.6v1.6h-1.6zM310.3 372.5h1.6v1.6h-1.6zM310.1 373.5h1.6v1.6h-1.6zM310.6 378.1h1.6v1.6h-1.6zM310.7 380.3h1.6v1.6h-1.6zM310.9 382.3h1.6v1.6h-1.6zM310.4 385.3h1.6v1.6h-1.6zM311.2 372.4h1.6v1.6h-1.6zM311.0 376.4h1.6v1.6h-1.6zM311.8 379.5h1.6v1.6h-1.6zM311.4 381.5h1.6v1.6h-1.6zM311.8 386.9h1.6v1.6h-1.6zM312.4 372.5h1.6v1.6h-1.6zM313.0 374.7h1.6v1.6h-1.6zM312.5 377.4h1.6v1.6h-1.6zM312.7 380.1h1.6v1.6h-1.6zM312.1 382.2h1.6v1.6h-1.6zM312.2 386.9h1.6v1.6h-1.6zM313.3 368.8h1.6v1.6h-1.6zM313.2 375.6h1.6v1.6h-1.6zM313.5 377.5h1.6v1.6h-1.6zM314.0 379.6h1.6v1.6h-1.6zM313.7 382.7h1.6v1.6h-1.6zM313.2 385.9h1.6v1.6h-1.6zM314.3 366.5h1.6v1.6h-1.6zM314.7 376.8h1.6v1.6h-1.6zM314.9 379.3h1.6v1.6h-1.6zM314.1 381.8h1.6v1.6h-1.6zM314.4 385.9h1.6v1.6h-1.6zM315.4 373.2h1.6v1.6h-1.6zM315.8 375.3h1.6v1.6h-1.6zM315.6 378.0h1.6v1.6h-1.6zM315.7 379.8h1.6v1.6h-1.6zM315.2 382.5h1.6v1.6h-1.6zM315.3 391.0h1.6v1.6h-1.6zM316.6 370.8h1.6v1.6h-1.6zM317.0 373.6h1.6v1.6h-1.6zM316.2 376.8h1.6v1.6h-1.6zM316.0 381.5h1.6v1.6h-1.6zM316.4 383.1h1.6v1.6h-1.6zM316.8 392.4h1.6v1.6h-1.6zM317.1 370.9h1.6v1.6h-1.6zM317.9 375.5h1.6v1.6h-1.6zM317.3 377.6h1.6v1.6h-1.6zM317.5 381.1h1.6v1.6h-1.6zM317.8 384.6h1.6v1.6h-1.6zM317.5 387.0h1.6v1.6h-1.6zM318.7 372.0h1.6v1.6h-1.6zM318.0 375.3h1.6v1.6h-1.6zM318.3 377.9h1.6v1.6h-1.6zM318.5 381.8h1.6v1.6h-1.6zM318.9 384.2h1.6v1.6h-1.6zM319.7 370.7h1.6v1.6h-1.6zM319.3 375.3h1.6v1.6h-1.6zM319.0 377.8h1.6v1.6h-1.6zM320.0 380.1h1.6v1.6h-1.6zM319.4 384.4h1.6v1.6h-1.6zM319.5 386.2h1.6v1.6h-1.6zM320.3 373.0h1.6v1.6h-1.6zM320.0 376.2h1.6v1.6h-1.6zM320.7 377.5h1.6v1.6h-1.6zM320.8 380.3h1.6v1.6h-1.6zM320.5 382.6h1.6v1.6h-1.6zM321.0 392.3h1.6v1.6h-1.6zM321.8 371.4h1.6v1.6h-1.6zM321.5 374.5h1.6v1.6h-1.6zM321.1 378.2h1.6v1.6h-1.6zM322.0 381.8h1.6v1.6h-1.6zM321.4 388.9h1.6v1.6h-1.6zM322.7 372.3h1.6v1.6h-1.6zM322.1 375.2h1.6v1.6h-1.6zM322.8 376.2h1.6v1.6h-1.6zM322.3 380.2h1.6v1.6h-1.6zM322.9 384.1h1.6v1.6h-1.6zM322.4 386.5h1.6v1.6h-1.6zM323.5 372.6h1.6v1.6h-1.6zM323.7 375.6h1.6v1.6h-1.6zM323.8 377.2h1.6v1.6h-1.6zM323.0 380.3h1.6v1.6h-1.6zM323.4 386.5h1.6v1.6h-1.6zM324.3 367.9h1.6v1.6h-1.6zM324.1 375.2h1.6v1.6h-1.6zM324.6 377.3h1.6v1.6h-1.6zM324.5 383.0h1.6v1.6h-1.6zM324.9 385.9h1.6v1.6h-1.6zM325.9 371.2h1.6v1.6h-1.6zM325.7 376.3h1.6v1.6h-1.6zM325.2 377.7h1.6v1.6h-1.6zM325.1 380.7h1.6v1.6h-1.6zM325.6 388.8h1.6v1.6h-1.6zM326.1 371.0h1.6v1.6h-1.6zM326.6 373.8h1.6v1.6h-1.6zM327.0 378.8h1.6v1.6h-1.6zM326.6 382.3h1.6v1.6h-1.6zM326.3 389.1h1.6v1.6h-1.6zM327.3 374.0h1.6v1.6h-1.6zM327.0 378.0h1.6v1.6h-1.6zM328.0 378.6h1.6v1.6h-1.6zM327.7 385.1h1.6v1.6h-1.6zM329.0 371.0h1.6v1.6h-1.6zM328.0 375.5h1.6v1.6h-1.6zM328.7 378.5h1.6v1.6h-1.6zM328.4 381.4h1.6v1.6h-1.6zM328.2 385.5h1.6v1.6h-1.6zM329.4 371.8h1.6v1.6h-1.6zM329.6 374.1h1.6v1.6h-1.6zM329.1 378.6h1.6v1.6h-1.6zM329.9 390.2h1.6v1.6h-1.6zM330.8 370.7h1.6v1.6h-1.6zM330.5 375.8h1.6v1.6h-1.6zM330.5 379.4h1.6v1.6h-1.6zM330.0 383.8h1.6v1.6h-1.6zM331.4 372.5h1.6v1.6h-1.6zM331.9 375.7h1.6v1.6h-1.6zM331.5 379.5h1.6v1.6h-1.6zM331.1 384.5h1.6v1.6h-1.6zM332.5 371.4h1.6v1.6h-1.6zM332.9 376.6h1.6v1.6h-1.6zM332.5 378.4h1.6v1.6h-1.6zM332.1 382.6h1.6v1.6h-1.6zM333.1 366.1h1.6v1.6h-1.6zM333.5 377.0h1.6v1.6h-1.6zM333.9 380.8h1.6v1.6h-1.6zM333.5 383.6h1.6v1.6h-1.6zM334.2 369.1h1.6v1.6h-1.6zM334.5 373.7h1.6v1.6h-1.6zM334.4 378.9h1.6v1.6h-1.6zM335.0 384.1h1.6v1.6h-1.6zM335.0 365.7h1.6v1.6h-1.6zM335.4 377.9h1.6v1.6h-1.6zM335.8 381.2h1.6v1.6h-1.6zM336.7 364.8h1.6v1.6h-1.6zM336.4 376.4h1.6v1.6h-1.6zM336.1 380.4h1.6v1.6h-1.6zM336.9 382.6h1.6v1.6h-1.6zM337.7 371.8h1.6v1.6h-1.6zM337.3 379.6h1.6v1.6h-1.6zM337.1 386.9h1.6v1.6h-1.6zM339.0 366.5h1.6v1.6h-1.6zM338.1 377.6h1.6v1.6h-1.6zM338.7 384.6h1.6v1.6h-1.6zM339.1 369.5h1.6v1.6h-1.6zM339.5 375.8h1.6v1.6h-1.6zM339.8 384.1h1.6v1.6h-1.6zM340.9 371.0h1.6v1.6h-1.6zM340.4 380.4h1.6v1.6h-1.6zM340.0 381.6h1.6v1.6h-1.6zM341.6 373.7h1.6v1.6h-1.6zM341.3 379.8h1.6v1.6h-1.6zM341.7 381.5h1.6v1.6h-1.6zM342.4 371.4h1.6v1.6h-1.6zM342.8 378.8h1.6v1.6h-1.6zM342.3 382.3h1.6v1.6h-1.6zM343.9 374.2h1.6v1.6h-1.6zM343.5 376.3h1.6v1.6h-1.6zM343.1 396.8h1.6v1.6h-1.6zM344.1 372.2h1.6v1.6h-1.6zM344.8 379.6h1.6v1.6h-1.6zM345.6 372.3h1.6v1.6h-1.6zM345.3 378.1h1.6v1.6h-1.6zM346.0 395.8h1.6v1.6h-1.6zM346.4 376.6h1.6v1.6h-1.6zM347.0 381.1h1.6v1.6h-1.6zM347.5 372.2h1.6v1.6h-1.6zM347.2 377.1h1.6v1.6h-1.6z" fill="#1a1a1a"/>
<rect x="42.20" y="5.80" width="329.20" height="241.80" fill="none" stroke="#151515" stroke-width="1"/>
<line x1="42.20" y1="237.93" x2="47.70" y2="237.93" stroke="#151515" stroke-width="0.9"/>
<line x1="371.40" y1="237.93" x2="365.90" y2="237.93" stroke="#151515" stroke-width="0.9"/>
<line x1="42.20" y1="228.26" x2="45.20" y2="228.26" stroke="#151515" stroke-width="0.9"/>
<line x1="371.40" y1="228.26" x2="368.40" y2="228.26" stroke="#151515" stroke-width="0.9"/>
<line x1="42.20" y1="218.58" x2="47.70" y2="218.58" stroke="#151515" stroke-width="0.9"/>
<line x1="371.40" y1="218.58" x2="365.90" y2="218.58" stroke="#151515" stroke-width="0.9"/>
<line x1="42.20" y1="208.91" x2="45.20" y2="208.91" stroke="#151515" stroke-width="0.9"/>
<line x1="371.40" y1="208.91" x2="368.40" y2="208.91" stroke="#151515" stroke-width="0.9"/>
<line x1="42.20" y1="199.24" x2="47.70" y2="199.24" stroke="#151515" stroke-width="0.9"/>
<line x1="371.40" y1="199.24" x2="365.90" y2="199.24" stroke="#151515" stroke-width="0.9"/>
<line x1="42.20" y1="189.57" x2="45.20" y2="189.57" stroke="#151515" stroke-width="0.9"/>
<line x1="371.40" y1="189.57" x2="368.40" y2="189.57" stroke="#151515" stroke-width="0.9"/>
<line x1="42.20" y1="179.90" x2="47.70" y2="179.90" stroke="#151515" stroke-width="0.9"/>
<line x1="371.40" y1="179.90" x2="365.90" y2="179.90" stroke="#151515" stroke-width="0.9"/>
<line x1="42.20" y1="170.22" x2="45.20" y2="170.22" stroke="#151515" stroke-width="0.9"/>
<line x1="371.40" y1="170.22" x2="368.40" y2="170.22" stroke="#151515" stroke-width="0.9"/>
<line x1="42.20" y1="160.55" x2="47.70" y2="160.55" stroke="#151515" stroke-width="0.9"/>
<line x1="371.40" y1="160.55" x2="365.90" y2="160.55" stroke="#151515" stroke-width="0.9"/>
<line x1="42.20" y1="150.88" x2="45.20" y2="150.88" stroke="#151515" stroke-width="0.9"/>
<line x1="371.40" y1="150.88" x2="368.40" y2="150.88" stroke="#151515" stroke-width="0.9"/>
<line x1="42.20" y1="141.21" x2="47.70" y2="141.21" stroke="#151515" stroke-width="0.9"/>
<line x1="371.40" y1="141.21" x2="365.90" y2="141.21" stroke="#151515" stroke-width="0.9"/>
<line x1="42.20" y1="131.54" x2="45.20" y2="131.54" stroke="#151515" stroke-width="0.9"/>
<line x1="371.40" y1="131.54" x2="368.40" y2="131.54" stroke="#151515" stroke-width="0.9"/>
<line x1="42.20" y1="121.86" x2="47.70" y2="121.86" stroke="#151515" stroke-width="0.9"/>
<line x1="371.40" y1="121.86" x2="365.90" y2="121.86" stroke="#151515" stroke-width="0.9"/>
<line x1="42.20" y1="112.19" x2="45.20" y2="112.19" stroke="#151515" stroke-width="0.9"/>
<line x1="371.40" y1="112.19" x2="368.40" y2="112.19" stroke="#151515" stroke-width="0.9"/>
<line x1="42.20" y1="102.52" x2="47.70" y2="102.52" stroke="#151515" stroke-width="0.9"/>
<line x1="371.40" y1="102.52" x2="365.90" y2="102.52" stroke="#151515" stroke-width="0.9"/>
<line x1="42.20" y1="92.85" x2="45.20" y2="92.85" stroke="#151515" stroke-width="0.9"/>
<line x1="371.40" y1="92.85" x2="368.40" y2="92.85" stroke="#151515" stroke-width="0.9"/>
<line x1="42.20" y1="83.18" x2="47.70" y2="83.18" stroke="#151515" stroke-width="0.9"/>
<line x1="371.40" y1="83.18" x2="365.90" y2="83.18" stroke="#151515" stroke-width="0.9"/>
<line x1="42.20" y1="73.50" x2="45.20" y2="73.50" stroke="#151515" stroke-width="0.9"/>
<line x1="371.40" y1="73.50" x2="368.40" y2="73.50" stroke="#151515" stroke-width="0.9"/>
<line x1="42.20" y1="63.83" x2="47.70" y2="63.83" stroke="#151515" stroke-width="0.9"/>
<line x1="371.40" y1="63.83" x2="365.90" y2="63.83" stroke="#151515" stroke-width="0.9"/>
<line x1="42.20" y1="54.16" x2="45.20" y2="54.16" stroke="#151515" stroke-width="0.9"/>
<line x1="371.40" y1="54.16" x2="368.40" y2="54.16" stroke="#151515" stroke-width="0.9"/>
<line x1="42.20" y1="44.49" x2="47.70" y2="44.49" stroke="#151515" stroke-width="0.9"/>
<line x1="371.40" y1="44.49" x2="365.90" y2="44.49" stroke="#151515" stroke-width="0.9"/>
<line x1="42.20" y1="34.82" x2="45.20" y2="34.82" stroke="#151515" stroke-width="0.9"/>
<line x1="371.40" y1="34.82" x2="368.40" y2="34.82" stroke="#151515" stroke-width="0.9"/>
<line x1="42.20" y1="25.14" x2="47.70" y2="25.14" stroke="#151515" stroke-width="0.9"/>
<line x1="371.40" y1="25.14" x2="365.90" y2="25.14" stroke="#151515" stroke-width="0.9"/>
<line x1="42.20" y1="15.47" x2="45.20" y2="15.47" stroke="#151515" stroke-width="0.9"/>
<line x1="371.40" y1="15.47" x2="368.40" y2="15.47" stroke="#151515" stroke-width="0.9"/>
<line x1="75.12" y1="247.60" x2="75.12" y2="245.60" stroke="#151515" stroke-width="0.9"/>
<line x1="75.12" y1="5.80" x2="75.12" y2="7.80" stroke="#151515" stroke-width="0.9"/>
<line x1="108.04" y1="247.60" x2="108.04" y2="245.60" stroke="#151515" stroke-width="0.9"/>
<line x1="108.04" y1="5.80" x2="108.04" y2="7.80" stroke="#151515" stroke-width="0.9"/>
<line x1="140.96" y1="247.60" x2="140.96" y2="245.60" stroke="#151515" stroke-width="0.9"/>
<line x1="140.96" y1="5.80" x2="140.96" y2="7.80" stroke="#151515" stroke-width="0.9"/>
<line x1="173.88" y1="247.60" x2="173.88" y2="245.60" stroke="#151515" stroke-width="0.9"/>
<line x1="173.88" y1="5.80" x2="173.88" y2="7.80" stroke="#151515" stroke-width="0.9"/>
<line x1="206.80" y1="247.60" x2="206.80" y2="245.60" stroke="#151515" stroke-width="0.9"/>
<line x1="206.80" y1="5.80" x2="206.80" y2="7.80" stroke="#151515" stroke-width="0.9"/>
<line x1="239.72" y1="247.60" x2="239.72" y2="245.60" stroke="#151515" stroke-width="0.9"/>
<line x1="239.72" y1="5.80" x2="239.72" y2="7.80" stroke="#151515" stroke-width="0.9"/>
<line x1="272.64" y1="247.60" x2="272.64" y2="245.60" stroke="#151515" stroke-width="0.9"/>
<line x1="272.64" y1="5.80" x2="272.64" y2="7.80" stroke="#151515" stroke-width="0.9"/>
<line x1="305.56" y1="247.60" x2="305.56" y2="245.60" stroke="#151515" stroke-width="0.9"/>
<line x1="305.56" y1="5.80" x2="305.56" y2="7.80" stroke="#151515" stroke-width="0.9"/>
<line x1="338.48" y1="247.60" x2="338.48" y2="245.60" stroke="#151515" stroke-width="0.9"/>
<line x1="338.48" y1="5.80" x2="338.48" y2="7.80" stroke="#151515" stroke-width="0.9"/>
<rect x="42.20" y="280.40" width="329.20" height="241.80" fill="none" stroke="#151515" stroke-width="1"/>
<line x1="42.20" y1="512.53" x2="47.70" y2="512.53" stroke="#151515" stroke-width="0.9"/>
<line x1="371.40" y1="512.53" x2="365.90" y2="512.53" stroke="#151515" stroke-width="0.9"/>
<line x1="42.20" y1="502.86" x2="45.20" y2="502.86" stroke="#151515" stroke-width="0.9"/>
<line x1="371.40" y1="502.86" x2="368.40" y2="502.86" stroke="#151515" stroke-width="0.9"/>
<line x1="42.20" y1="493.18" x2="47.70" y2="493.18" stroke="#151515" stroke-width="0.9"/>
<line x1="371.40" y1="493.18" x2="365.90" y2="493.18" stroke="#151515" stroke-width="0.9"/>
<line x1="42.20" y1="483.51" x2="45.20" y2="483.51" stroke="#151515" stroke-width="0.9"/>
<line x1="371.40" y1="483.51" x2="368.40" y2="483.51" stroke="#151515" stroke-width="0.9"/>
<line x1="42.20" y1="473.84" x2="47.70" y2="473.84" stroke="#151515" stroke-width="0.9"/>
<line x1="371.40" y1="473.84" x2="365.90" y2="473.84" stroke="#151515" stroke-width="0.9"/>
<line x1="42.20" y1="464.17" x2="45.20" y2="464.17" stroke="#151515" stroke-width="0.9"/>
<line x1="371.40" y1="464.17" x2="368.40" y2="464.17" stroke="#151515" stroke-width="0.9"/>
<line x1="42.20" y1="454.50" x2="47.70" y2="454.50" stroke="#151515" stroke-width="0.9"/>
<line x1="371.40" y1="454.50" x2="365.90" y2="454.50" stroke="#151515" stroke-width="0.9"/>
<line x1="42.20" y1="444.82" x2="45.20" y2="444.82" stroke="#151515" stroke-width="0.9"/>
<line x1="371.40" y1="444.82" x2="368.40" y2="444.82" stroke="#151515" stroke-width="0.9"/>
<line x1="42.20" y1="435.15" x2="47.70" y2="435.15" stroke="#151515" stroke-width="0.9"/>
<line x1="371.40" y1="435.15" x2="365.90" y2="435.15" stroke="#151515" stroke-width="0.9"/>
<line x1="42.20" y1="425.48" x2="45.20" y2="425.48" stroke="#151515" stroke-width="0.9"/>
<line x1="371.40" y1="425.48" x2="368.40" y2="425.48" stroke="#151515" stroke-width="0.9"/>
<line x1="42.20" y1="415.81" x2="47.70" y2="415.81" stroke="#151515" stroke-width="0.9"/>
<line x1="371.40" y1="415.81" x2="365.90" y2="415.81" stroke="#151515" stroke-width="0.9"/>
<line x1="42.20" y1="406.14" x2="45.20" y2="406.14" stroke="#151515" stroke-width="0.9"/>
<line x1="371.40" y1="406.14" x2="368.40" y2="406.14" stroke="#151515" stroke-width="0.9"/>
<line x1="42.20" y1="396.46" x2="47.70" y2="396.46" stroke="#151515" stroke-width="0.9"/>
<line x1="371.40" y1="396.46" x2="365.90" y2="396.46" stroke="#151515" stroke-width="0.9"/>
<line x1="42.20" y1="386.79" x2="45.20" y2="386.79" stroke="#151515" stroke-width="0.9"/>
<line x1="371.40" y1="386.79" x2="368.40" y2="386.79" stroke="#151515" stroke-width="0.9"/>
<line x1="42.20" y1="377.12" x2="47.70" y2="377.12" stroke="#151515" stroke-width="0.9"/>
<line x1="371.40" y1="377.12" x2="365.90" y2="377.12" stroke="#151515" stroke-width="0.9"/>
<line x1="42.20" y1="367.45" x2="45.20" y2="367.45" stroke="#151515" stroke-width="0.9"/>
<line x1="371.40" y1="367.45" x2="368.40" y2="367.45" stroke="#151515" stroke-width="0.9"/>
<line x1="42.20" y1="357.78" x2="47.70" y2="357.78" stroke="#151515" stroke-width="0.9"/>
<line x1="371.40" y1="357.78" x2="365.90" y2="357.78" stroke="#151515" stroke-width="0.9"/>
<line x1="42.20" y1="348.10" x2="45.20" y2="348.10" stroke="#151515" stroke-width="0.9"/>
<line x1="371.40" y1="348.10" x2="368.40" y2="348.10" stroke="#151515" stroke-width="0.9"/>
<line x1="42.20" y1="338.43" x2="47.70" y2="338.43" stroke="#151515" stroke-width="0.9"/>
<line x1="371.40" y1="338.43" x2="365.90" y2="338.43" stroke="#151515" stroke-width="0.9"/>
<line x1="42.20" y1="328.76" x2="45.20" y2="328.76" stroke="#151515" stroke-width="0.9"/>
<line x1="371.40" y1="328.76" x2="368.40" y2="328.76" stroke="#151515" stroke-width="0.9"/>
<line x1="42.20" y1="319.09" x2="47.70" y2="319.09" stroke="#151515" stroke-width="0.9"/>
<line x1="371.40" y1="319.09" x2="365.90" y2="319.09" stroke="#151515" stroke-width="0.9"/>
<line x1="42.20" y1="309.42" x2="45.20" y2="309.42" stroke="#151515" stroke-width="0.9"/>
<line x1="371.40" y1="309.42" x2="368.40" y2="309.42" stroke="#151515" stroke-width="0.9"/>
<line x1="42.20" y1="299.74" x2="47.70" y2="299.74" stroke="#151515" stroke-width="0.9"/>
<line x1="371.40" y1="299.74" x2="365.90" y2="299.74" stroke="#151515" stroke-width="0.9"/>
<line x1="42.20" y1="290.07" x2="45.20" y2="290.07" stroke="#151515" stroke-width="0.9"/>
<line x1="371.40" y1="290.07" x2="368.40" y2="290.07" stroke="#151515" stroke-width="0.9"/>
<line x1="75.12" y1="522.20" x2="75.12" y2="520.20" stroke="#151515" stroke-width="0.9"/>
<line x1="75.12" y1="280.40" x2="75.12" y2="282.40" stroke="#151515" stroke-width="0.9"/>
<line x1="108.04" y1="522.20" x2="108.04" y2="520.20" stroke="#151515" stroke-width="0.9"/>
<line x1="108.04" y1="280.40" x2="108.04" y2="282.40" stroke="#151515" stroke-width="0.9"/>
<line x1="140.96" y1="522.20" x2="140.96" y2="520.20" stroke="#151515" stroke-width="0.9"/>
<line x1="140.96" y1="280.40" x2="140.96" y2="282.40" stroke="#151515" stroke-width="0.9"/>
<line x1="173.88" y1="522.20" x2="173.88" y2="520.20" stroke="#151515" stroke-width="0.9"/>
<line x1="173.88" y1="280.40" x2="173.88" y2="282.40" stroke="#151515" stroke-width="0.9"/>
<line x1="206.80" y1="522.20" x2="206.80" y2="520.20" stroke="#151515" stroke-width="0.9"/>
<line x1="206.80" y1="280.40" x2="206.80" y2="282.40" stroke="#151515" stroke-width="0.9"/>
<line x1="239.72" y1="522.20" x2="239.72" y2="520.20" stroke="#151515" stroke-width="0.9"/>
<line x1="239.72" y1="280.40" x2="239.72" y2="282.40" stroke="#151515" stroke-width="0.9"/>
<line x1="272.64" y1="522.20" x2="272.64" y2="520.20" stroke="#151515" stroke-width="0.9"/>
<line x1="272.64" y1="280.40" x2="272.64" y2="282.40" stroke="#151515" stroke-width="0.9"/>
<line x1="305.56" y1="522.20" x2="305.56" y2="520.20" stroke="#151515" stroke-width="0.9"/>
<line x1="305.56" y1="280.40" x2="305.56" y2="282.40" stroke="#151515" stroke-width="0.9"/>
<line x1="338.48" y1="522.20" x2="338.48" y2="520.20" stroke="#151515" stroke-width="0.9"/>
<line x1="338.48" y1="280.40" x2="338.48" y2="282.40" stroke="#151515" stroke-width="0.9"/>
<g stroke="#000" stroke-width="0.3">
<text x="52.2" y="18.80" font-weight="bold">E</text>
<text x="352.2" y="18.80" font-weight="bold">W</text>
<text x="175.4" y="30.10" font-weight="bold" font-size="14">Profile 1</text>
<text x="211.2" y="272.20" text-anchor="middle">Relative distance along the transect (m)</text>
<text transform="translate(11.8,137.70) rotate(-90)" text-anchor="middle" font-size="11.35">LOS velocity [mm/year]</text>
<circle cx="239.6" cy="232.10" r="2.9" fill="none" stroke="#666" stroke-width="1" stroke-dasharray="1.3 1.4" stroke-dashoffset="0.6"/>
<text x="246.7" y="234.70">Fereggiano tunnel</text>
<text x="52.2" y="293.40" font-weight="bold">E</text>
<text x="352.2" y="293.40" font-weight="bold">W</text>
<text x="175.4" y="304.70" font-weight="bold" font-size="14">Profile 2</text>
<text x="211.2" y="546.80" text-anchor="middle">Relative distance along the transect (m)</text>
<text transform="translate(11.8,412.30) rotate(-90)" text-anchor="middle" font-size="11.35">LOS velocity [mm/year]</text>
<circle cx="239.6" cy="500.90" r="2.9" fill="none" stroke="#666" stroke-width="1" stroke-dasharray="1.3 1.4" stroke-dashoffset="0.6"/>
<text x="246.7" y="503.50">Fereggiano tunnel</text>
<text x="36.0" y="240.73" text-anchor="end">-14</text>
<text x="36.0" y="221.38" text-anchor="end">-12</text>
<text x="36.0" y="202.04" text-anchor="end">-10</text>
<text x="36.0" y="182.70" text-anchor="end">-8</text>
<text x="36.0" y="163.35" text-anchor="end">-6</text>
<text x="36.0" y="144.01" text-anchor="end">-4</text>
<text x="36.0" y="124.66" text-anchor="end">-2</text>
<text x="36.0" y="105.32" text-anchor="end">0</text>
<text x="36.0" y="85.98" text-anchor="end">2</text>
<text x="36.0" y="66.63" text-anchor="end">4</text>
<text x="36.0" y="47.29" text-anchor="end">6</text>
<text x="36.0" y="27.94" text-anchor="end">8</text>
<text x="36.0" y="8.60" text-anchor="end">10</text>
<text x="108.94" y="258.60" text-anchor="middle">-1000</text>
<text x="174.78" y="258.60" text-anchor="middle">-500</text>
<text x="240.02" y="258.60" text-anchor="middle">0</text>
<text x="305.86" y="258.60" text-anchor="middle">500</text>
<text x="36.0" y="515.33" text-anchor="end">-14</text>
<text x="36.0" y="495.98" text-anchor="end">-12</text>
<text x="36.0" y="476.64" text-anchor="end">-10</text>
<text x="36.0" y="457.30" text-anchor="end">-8</text>
<text x="36.0" y="437.95" text-anchor="end">-6</text>
<text x="36.0" y="418.61" text-anchor="end">-4</text>
<text x="36.0" y="399.26" text-anchor="end">-2</text>
<text x="36.0" y="379.92" text-anchor="end">0</text>
<text x="36.0" y="360.58" text-anchor="end">2</text>
<text x="36.0" y="341.23" text-anchor="end">4</text>
<text x="36.0" y="321.89" text-anchor="end">6</text>
<text x="36.0" y="302.54" text-anchor="end">8</text>
<text x="36.0" y="283.20" text-anchor="end">10</text>
<text x="108.94" y="533.20" text-anchor="middle">-1000</text>
<text x="174.78" y="533.20" text-anchor="middle">-500</text>
<text x="240.02" y="533.20" text-anchor="middle">0</text>
<text x="305.86" y="533.20" text-anchor="middle">500</text>
</g>
</g>
</svg>
</body></html>
